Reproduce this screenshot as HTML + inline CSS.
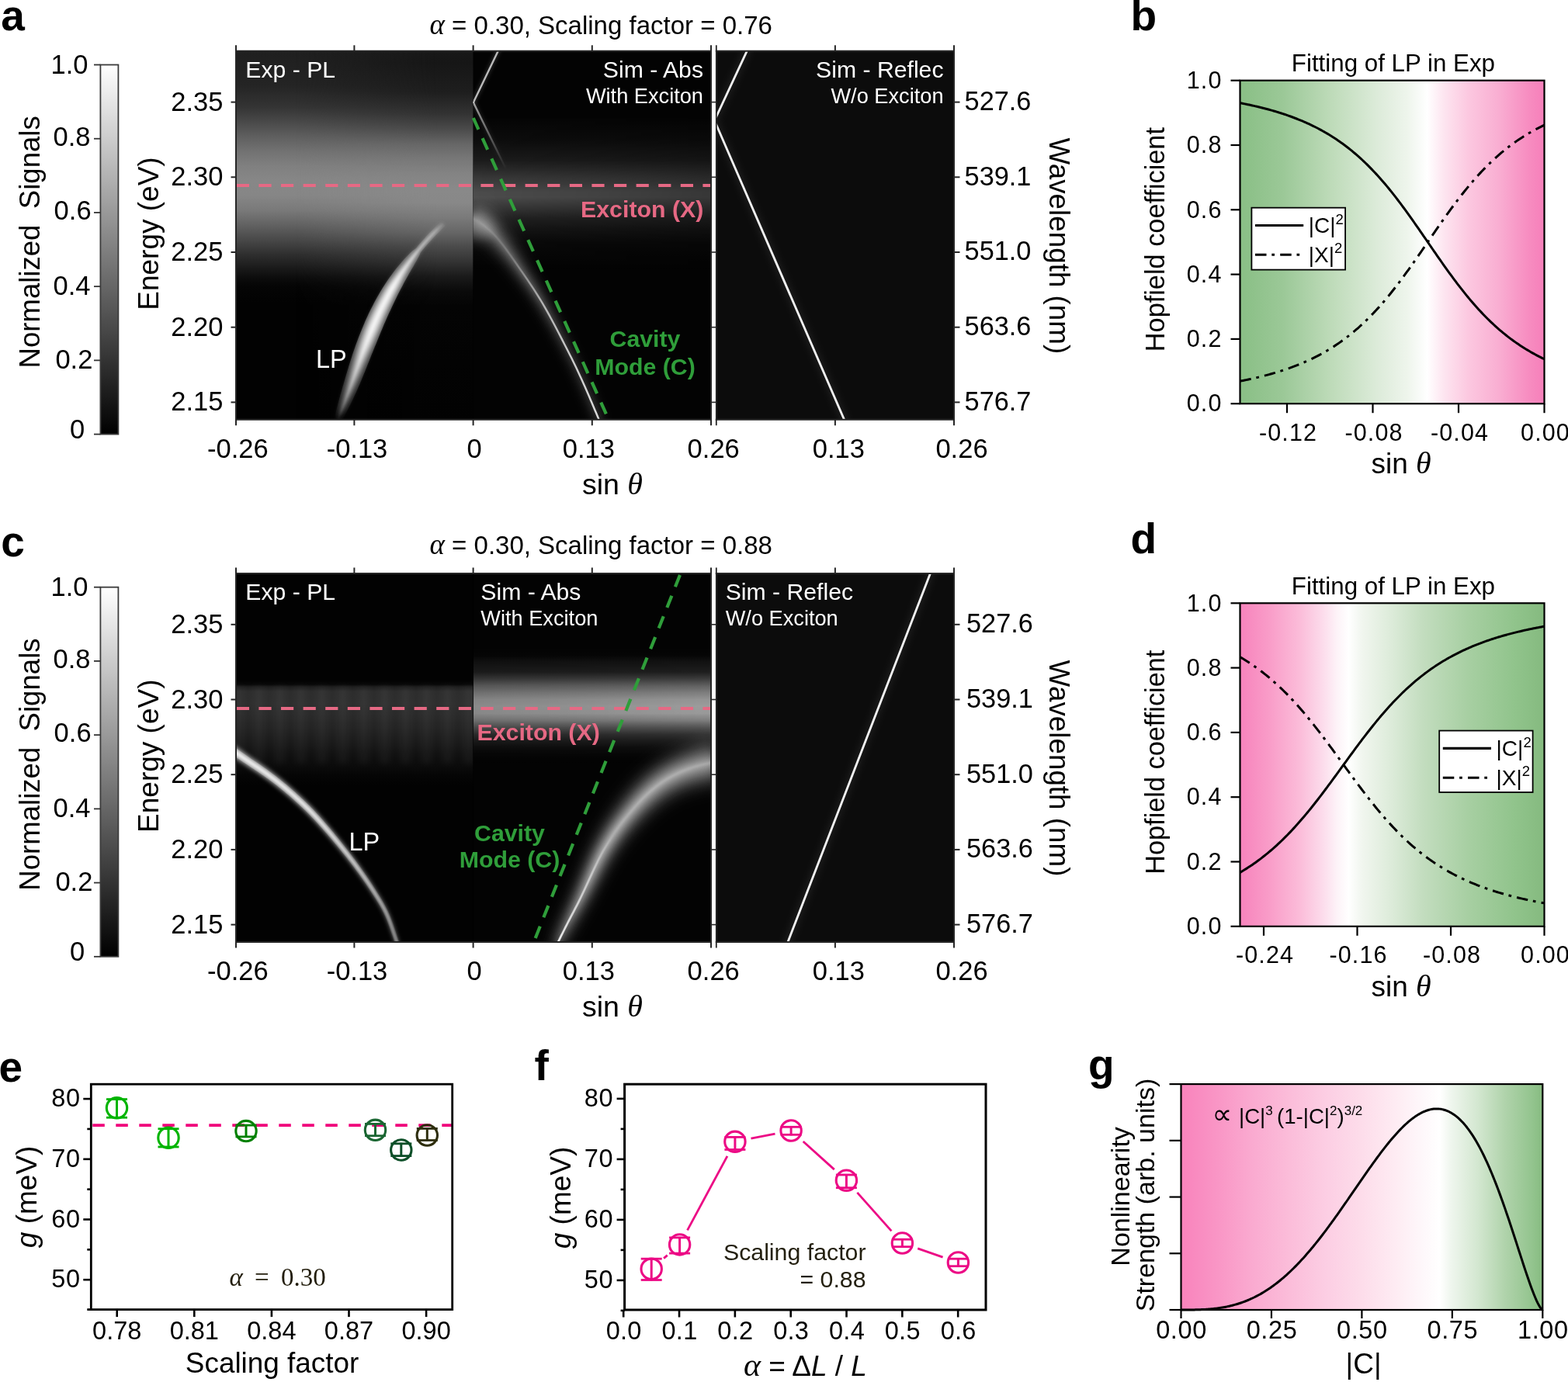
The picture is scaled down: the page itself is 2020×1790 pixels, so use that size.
<!DOCTYPE html>
<html><head><meta charset="utf-8"><title>Figure</title>
<style>html,body{margin:0;padding:0;background:#fff;}svg{display:block;}</style></head>
<body><svg width="2020" height="1790" viewBox="0 0 2020 1790">
<defs><filter id="b0_5" x="-50%" y="-50%" width="200%" height="200%"><feGaussianBlur stdDeviation="0.5"/></filter><filter id="b0_8" x="-50%" y="-50%" width="200%" height="200%"><feGaussianBlur stdDeviation="0.8"/></filter><filter id="b1_0" x="-50%" y="-50%" width="200%" height="200%"><feGaussianBlur stdDeviation="1.0"/></filter><filter id="b1_5" x="-50%" y="-50%" width="200%" height="200%"><feGaussianBlur stdDeviation="1.5"/></filter><filter id="b2" x="-50%" y="-50%" width="200%" height="200%"><feGaussianBlur stdDeviation="2"/></filter><filter id="b2_5" x="-50%" y="-50%" width="200%" height="200%"><feGaussianBlur stdDeviation="2.5"/></filter><filter id="b3" x="-50%" y="-50%" width="200%" height="200%"><feGaussianBlur stdDeviation="3"/></filter><filter id="b4" x="-50%" y="-50%" width="200%" height="200%"><feGaussianBlur stdDeviation="4"/></filter><filter id="b5" x="-50%" y="-50%" width="200%" height="200%"><feGaussianBlur stdDeviation="5"/></filter><filter id="b6" x="-50%" y="-50%" width="200%" height="200%"><feGaussianBlur stdDeviation="6"/></filter><filter id="b8" x="-50%" y="-50%" width="200%" height="200%"><feGaussianBlur stdDeviation="8"/></filter><filter id="b10" x="-50%" y="-50%" width="200%" height="200%"><feGaussianBlur stdDeviation="10"/></filter><filter id="b14" x="-50%" y="-50%" width="200%" height="200%"><feGaussianBlur stdDeviation="14"/></filter><linearGradient id="cbar" x1="0" y1="0" x2="0" y2="1"><stop offset="0" stop-color="#fff"/><stop offset="1" stop-color="#000"/></linearGradient><linearGradient id="plA" gradientUnits="userSpaceOnUse" x1="0" y1="65.8" x2="0" y2="540.8"><stop offset="0.0000" stop-color="#1f1f1f" stop-opacity="1"/><stop offset="0.0928" stop-color="#242424" stop-opacity="1"/><stop offset="0.1519" stop-color="#343434" stop-opacity="1"/><stop offset="0.1920" stop-color="#494949" stop-opacity="1"/><stop offset="0.2321" stop-color="#5f5f5f" stop-opacity="1"/><stop offset="0.2722" stop-color="#727272" stop-opacity="1"/><stop offset="0.3122" stop-color="#808080" stop-opacity="1"/><stop offset="0.3523" stop-color="#878787" stop-opacity="1"/><stop offset="0.3924" stop-color="#868686" stop-opacity="1"/><stop offset="0.4325" stop-color="#797979" stop-opacity="1"/><stop offset="0.4726" stop-color="#616161" stop-opacity="1"/><stop offset="0.5127" stop-color="#484848" stop-opacity="1"/><stop offset="0.5527" stop-color="#2e2e2e" stop-opacity="1"/><stop offset="0.5928" stop-color="#181818" stop-opacity="1"/><stop offset="0.6160" stop-color="#0c0c0c" stop-opacity="1"/><stop offset="0.6371" stop-color="#050505" stop-opacity="1"/><stop offset="0.6835" stop-color="#020202" stop-opacity="1"/><stop offset="1.0000" stop-color="#020202" stop-opacity="1"/></linearGradient><clipPath id="cpPLa"><rect x="304.0" y="65.8" width="305.6" height="474.99999999999994"/></clipPath><linearGradient id="plA2" gradientUnits="userSpaceOnUse" x1="0" y1="65.8" x2="0" y2="540.8"><stop offset="0.0000" stop-color="#181818" stop-opacity="1"/><stop offset="0.0316" stop-color="#161616" stop-opacity="1"/><stop offset="0.1118" stop-color="#1e1e1e" stop-opacity="1"/><stop offset="0.1709" stop-color="#333333" stop-opacity="1"/><stop offset="0.2110" stop-color="#4a4a4a" stop-opacity="1"/><stop offset="0.2511" stop-color="#666666" stop-opacity="1"/><stop offset="0.2911" stop-color="#777777" stop-opacity="1"/><stop offset="0.3312" stop-color="#838383" stop-opacity="1"/><stop offset="0.3713" stop-color="#898989" stop-opacity="1"/><stop offset="0.4114" stop-color="#888888" stop-opacity="1"/><stop offset="0.4515" stop-color="#7a7a7a" stop-opacity="1"/><stop offset="0.4916" stop-color="#666666" stop-opacity="1"/><stop offset="0.5316" stop-color="#4a4a4a" stop-opacity="1"/><stop offset="0.5717" stop-color="#333333" stop-opacity="1"/><stop offset="0.6118" stop-color="#1a1a1a" stop-opacity="1"/><stop offset="0.6519" stop-color="#0a0a0a" stop-opacity="1"/><stop offset="0.6920" stop-color="#040404" stop-opacity="1"/><stop offset="1.0000" stop-color="#020202" stop-opacity="1"/></linearGradient><linearGradient id="plAm" gradientUnits="userSpaceOnUse" x1="304.0" y1="0" x2="609.6" y2="0"><stop offset="0.0000" stop-color="#fff" stop-opacity="0"/><stop offset="0.2500" stop-color="#fff" stop-opacity="0"/><stop offset="0.8500" stop-color="#fff" stop-opacity="1"/><stop offset="1.0000" stop-color="#fff" stop-opacity="1"/></linearGradient><mask id="plAmask"><rect x="304.0" y="65.8" width="305.6" height="474.99999999999994" fill="url(#plAm)"/></mask><linearGradient id="lpA" gradientUnits="userSpaceOnUse" x1="0" y1="537" x2="0" y2="285"><stop offset="0.0000" stop-color="#fff" stop-opacity="0.05"/><stop offset="0.0476" stop-color="#fff" stop-opacity="0.2"/><stop offset="0.1468" stop-color="#fff" stop-opacity="0.4"/><stop offset="0.2659" stop-color="#fff" stop-opacity="0.62"/><stop offset="0.3651" stop-color="#fff" stop-opacity="0.85"/><stop offset="0.4444" stop-color="#fff" stop-opacity="1"/><stop offset="0.6627" stop-color="#fff" stop-opacity="1"/><stop offset="0.7222" stop-color="#fff" stop-opacity="0.8"/><stop offset="0.7817" stop-color="#fff" stop-opacity="0.62"/><stop offset="0.8611" stop-color="#fff" stop-opacity="0.5"/><stop offset="0.9405" stop-color="#fff" stop-opacity="0.35"/><stop offset="1.0000" stop-color="#fff" stop-opacity="0"/></linearGradient><filter id="b1_1" x="-50%" y="-50%" width="200%" height="200%"><feGaussianBlur stdDeviation="1.1"/></filter><filter id="b1_4" x="-50%" y="-50%" width="200%" height="200%"><feGaussianBlur stdDeviation="1.4"/></filter><filter id="b1_7" x="-50%" y="-50%" width="200%" height="200%"><feGaussianBlur stdDeviation="1.7"/></filter><filter id="b2_1" x="-50%" y="-50%" width="200%" height="200%"><feGaussianBlur stdDeviation="2.1"/></filter><filter id="b2_4" x="-50%" y="-50%" width="200%" height="200%"><feGaussianBlur stdDeviation="2.4"/></filter><filter id="b2_7" x="-50%" y="-50%" width="200%" height="200%"><feGaussianBlur stdDeviation="2.7"/></filter><clipPath id="cpABa"><rect x="609.6" y="65.8" width="306.4" height="474.99999999999994"/></clipPath><linearGradient id="exA" gradientUnits="userSpaceOnUse" x1="0" y1="150" x2="0" y2="350"><stop offset="0.0000" stop-color="#fff" stop-opacity="0"/><stop offset="0.0150" stop-color="#fff" stop-opacity="0.01"/><stop offset="0.1500" stop-color="#fff" stop-opacity="0.04"/><stop offset="0.2850" stop-color="#fff" stop-opacity="0.1"/><stop offset="0.3850" stop-color="#fff" stop-opacity="0.2"/><stop offset="0.4850" stop-color="#fff" stop-opacity="0.285"/><stop offset="0.5200" stop-color="#fff" stop-opacity="0.29"/><stop offset="0.5850" stop-color="#fff" stop-opacity="0.21"/><stop offset="0.6550" stop-color="#fff" stop-opacity="0.125"/><stop offset="0.7200" stop-color="#fff" stop-opacity="0.075"/><stop offset="0.8200" stop-color="#fff" stop-opacity="0.025"/><stop offset="0.9550" stop-color="#fff" stop-opacity="0.006"/><stop offset="1.0000" stop-color="#fff" stop-opacity="0"/></linearGradient><linearGradient id="exAm" gradientUnits="userSpaceOnUse" x1="609.6" y1="0" x2="916.0" y2="0"><stop offset="0.0000" stop-color="#fff" stop-opacity="1"/><stop offset="0.5000" stop-color="#fff" stop-opacity="0.88"/><stop offset="1.0000" stop-color="#fff" stop-opacity="0.72"/></linearGradient><mask id="exAmask"><rect x="609.6" y="65.8" width="306.4" height="474.99999999999994" fill="url(#exAm)"/></mask><linearGradient id="upA" gradientUnits="userSpaceOnUse" x1="610" y1="132" x2="652" y2="218"><stop offset="0.0000" stop-color="#fff" stop-opacity="0.7"/><stop offset="0.6000" stop-color="#fff" stop-opacity="0.3"/><stop offset="1.0000" stop-color="#fff" stop-opacity="0"/></linearGradient><linearGradient id="lpA2" gradientUnits="userSpaceOnUse" x1="606" y1="280" x2="773" y2="544"><stop offset="0.0000" stop-color="#fff" stop-opacity="0.45"/><stop offset="0.2500" stop-color="#fff" stop-opacity="0.5"/><stop offset="0.5000" stop-color="#fff" stop-opacity="0.65"/><stop offset="1.0000" stop-color="#fff" stop-opacity="0.8"/></linearGradient><filter id="b3_3" x="-50%" y="-50%" width="200%" height="200%"><feGaussianBlur stdDeviation="3.3"/></filter><filter id="b4_4" x="-50%" y="-50%" width="200%" height="200%"><feGaussianBlur stdDeviation="4.4"/></filter><filter id="b5_6" x="-50%" y="-50%" width="200%" height="200%"><feGaussianBlur stdDeviation="5.6"/></filter><filter id="b6_7" x="-50%" y="-50%" width="200%" height="200%"><feGaussianBlur stdDeviation="6.7"/></filter><filter id="b7_9" x="-50%" y="-50%" width="200%" height="200%"><feGaussianBlur stdDeviation="7.9"/></filter><filter id="b9_0" x="-50%" y="-50%" width="200%" height="200%"><feGaussianBlur stdDeviation="9.0"/></filter><linearGradient id="lpA2c" gradientUnits="userSpaceOnUse" x1="612" y1="285" x2="773" y2="544"><stop offset="0.0000" stop-color="#fff" stop-opacity="0"/><stop offset="0.2000" stop-color="#fff" stop-opacity="0.15"/><stop offset="0.4500" stop-color="#fff" stop-opacity="0.6"/><stop offset="0.7000" stop-color="#fff" stop-opacity="0.75"/><stop offset="1.0000" stop-color="#fff" stop-opacity="0.85"/></linearGradient><clipPath id="cpRFa"><rect x="922.8" y="65.8" width="306.20000000000005" height="474.99999999999994"/></clipPath><clipPath id="cpPLc"><rect x="304.0" y="739.0" width="305.6" height="475.0"/></clipPath><linearGradient id="plC" gradientUnits="userSpaceOnUse" x1="0" y1="860" x2="0" y2="1015"><stop offset="0.1032" stop-color="#020202" stop-opacity="1"/><stop offset="0.1419" stop-color="#080808" stop-opacity="1"/><stop offset="0.1613" stop-color="#1e1e1e" stop-opacity="1"/><stop offset="0.2000" stop-color="#2d2d2d" stop-opacity="1"/><stop offset="0.3032" stop-color="#2e2e2e" stop-opacity="1"/><stop offset="0.4000" stop-color="#2a2a2a" stop-opacity="1"/><stop offset="0.5290" stop-color="#222222" stop-opacity="1"/><stop offset="0.6323" stop-color="#1a1a1a" stop-opacity="1"/><stop offset="0.7290" stop-color="#111111" stop-opacity="1"/><stop offset="0.8323" stop-color="#0a0a0a" stop-opacity="1"/><stop offset="0.9032" stop-color="#050505" stop-opacity="1"/><stop offset="0.9806" stop-color="#020202" stop-opacity="1"/></linearGradient><pattern id="strC" x="300" y="0" width="27" height="10" patternUnits="userSpaceOnUse"><rect x="0" y="0" width="13" height="10" fill="#fff" fill-opacity="0.03"/></pattern><linearGradient id="lpC" gradientUnits="userSpaceOnUse" x1="304" y1="972" x2="510" y2="1214"><stop offset="0.0000" stop-color="#fff" stop-opacity="1"/><stop offset="0.3500" stop-color="#fff" stop-opacity="0.92"/><stop offset="0.7000" stop-color="#fff" stop-opacity="0.62"/><stop offset="1.0000" stop-color="#fff" stop-opacity="0.4"/></linearGradient><filter id="b1_3" x="-50%" y="-50%" width="200%" height="200%"><feGaussianBlur stdDeviation="1.3"/></filter><filter id="b1_8" x="-50%" y="-50%" width="200%" height="200%"><feGaussianBlur stdDeviation="1.8"/></filter><filter id="b2_3" x="-50%" y="-50%" width="200%" height="200%"><feGaussianBlur stdDeviation="2.3"/></filter><clipPath id="cpABc"><rect x="609.6" y="739.0" width="306.4" height="475.0"/></clipPath><linearGradient id="exC" gradientUnits="userSpaceOnUse" x1="0" y1="830" x2="0" y2="985"><stop offset="0.0000" stop-color="#fff" stop-opacity="0"/><stop offset="0.0968" stop-color="#fff" stop-opacity="0.015"/><stop offset="0.1419" stop-color="#fff" stop-opacity="0.06"/><stop offset="0.2323" stop-color="#fff" stop-opacity="0.11"/><stop offset="0.2903" stop-color="#fff" stop-opacity="0.23"/><stop offset="0.3484" stop-color="#fff" stop-opacity="0.38"/><stop offset="0.4039" stop-color="#fff" stop-opacity="0.49"/><stop offset="0.4613" stop-color="#fff" stop-opacity="0.58"/><stop offset="0.5187" stop-color="#fff" stop-opacity="0.61"/><stop offset="0.5768" stop-color="#fff" stop-opacity="0.6"/><stop offset="0.6342" stop-color="#fff" stop-opacity="0.49"/><stop offset="0.6916" stop-color="#fff" stop-opacity="0.32"/><stop offset="0.7497" stop-color="#fff" stop-opacity="0.18"/><stop offset="0.8071" stop-color="#fff" stop-opacity="0.1"/><stop offset="0.8645" stop-color="#fff" stop-opacity="0.045"/><stop offset="0.9226" stop-color="#fff" stop-opacity="0.015"/><stop offset="1.0000" stop-color="#fff" stop-opacity="0"/></linearGradient><linearGradient id="exCm" gradientUnits="userSpaceOnUse" x1="609.6" y1="0" x2="916.0" y2="0"><stop offset="0.0000" stop-color="#fff" stop-opacity="0.88"/><stop offset="0.5000" stop-color="#fff" stop-opacity="0.93"/><stop offset="1.0000" stop-color="#fff" stop-opacity="1"/></linearGradient><mask id="exCmask"><rect x="609.6" y="739.0" width="306.4" height="475.0" fill="url(#exCm)"/></mask><linearGradient id="lpC2" gradientUnits="userSpaceOnUse" x1="719" y1="1216" x2="916" y2="972"><stop offset="0.0000" stop-color="#fff" stop-opacity="0.95"/><stop offset="0.3000" stop-color="#fff" stop-opacity="0.75"/><stop offset="0.6000" stop-color="#fff" stop-opacity="0.55"/><stop offset="1.0000" stop-color="#fff" stop-opacity="0.42"/></linearGradient><filter id="b3_7" x="-50%" y="-50%" width="200%" height="200%"><feGaussianBlur stdDeviation="3.7"/></filter><filter id="b5_2" x="-50%" y="-50%" width="200%" height="200%"><feGaussianBlur stdDeviation="5.2"/></filter><filter id="b6_6" x="-50%" y="-50%" width="200%" height="200%"><feGaussianBlur stdDeviation="6.6"/></filter><filter id="b8_1" x="-50%" y="-50%" width="200%" height="200%"><feGaussianBlur stdDeviation="8.1"/></filter><filter id="b9_5" x="-50%" y="-50%" width="200%" height="200%"><feGaussianBlur stdDeviation="9.5"/></filter><filter id="b11_0" x="-50%" y="-50%" width="200%" height="200%"><feGaussianBlur stdDeviation="11.0"/></filter><linearGradient id="lpC2c" gradientUnits="userSpaceOnUse" x1="719" y1="1216" x2="790" y2="1075"><stop offset="0.0000" stop-color="#fff" stop-opacity="0.9"/><stop offset="0.6000" stop-color="#fff" stop-opacity="0.45"/><stop offset="1.0000" stop-color="#fff" stop-opacity="0"/></linearGradient><clipPath id="cpRFc"><rect x="922.8" y="739.0" width="306.20000000000005" height="475.0"/></clipPath><linearGradient id="hgb" gradientUnits="userSpaceOnUse" x1="1597.5" y1="0" x2="1989.5" y2="0"><stop offset="0.0000" stop-color="#89bf85" stop-opacity="1"/><stop offset="0.1400" stop-color="#9bc897" stop-opacity="1"/><stop offset="0.3000" stop-color="#bedbb9" stop-opacity="1"/><stop offset="0.4500" stop-color="#dcebd9" stop-opacity="1"/><stop offset="0.5500" stop-color="#eef5ec" stop-opacity="1"/><stop offset="0.6150" stop-color="#ffffff" stop-opacity="1"/><stop offset="0.6700" stop-color="#fde5f0" stop-opacity="1"/><stop offset="0.7500" stop-color="#fcc8e0" stop-opacity="1"/><stop offset="0.8500" stop-color="#f9aed2" stop-opacity="1"/><stop offset="0.9500" stop-color="#f78cc0" stop-opacity="1"/><stop offset="1.0000" stop-color="#f67fba" stop-opacity="1"/></linearGradient><linearGradient id="hgd" gradientUnits="userSpaceOnUse" x1="1597.5" y1="0" x2="1989.5" y2="0"><stop offset="0.0000" stop-color="#f783bc" stop-opacity="1"/><stop offset="0.0950" stop-color="#f99cc8" stop-opacity="1"/><stop offset="0.1960" stop-color="#fbbcd9" stop-opacity="1"/><stop offset="0.2700" stop-color="#fcdbeb" stop-opacity="1"/><stop offset="0.3200" stop-color="#fdf3f8" stop-opacity="1"/><stop offset="0.3570" stop-color="#ffffff" stop-opacity="1"/><stop offset="0.4000" stop-color="#f1f6ef" stop-opacity="1"/><stop offset="0.4990" stop-color="#dcebd9" stop-opacity="1"/><stop offset="0.6000" stop-color="#c3ddbf" stop-opacity="1"/><stop offset="0.7500" stop-color="#a7cfa2" stop-opacity="1"/><stop offset="0.9000" stop-color="#91c48c" stop-opacity="1"/><stop offset="1.0000" stop-color="#85ba7f" stop-opacity="1"/></linearGradient><linearGradient id="gg" gradientUnits="userSpaceOnUse" x1="1521.5" y1="0" x2="1987.3" y2="0"><stop offset="0.0000" stop-color="#f983bc" stop-opacity="1"/><stop offset="0.0970" stop-color="#f995c5" stop-opacity="1"/><stop offset="0.1960" stop-color="#faaad0" stop-opacity="1"/><stop offset="0.2960" stop-color="#fbbcd9" stop-opacity="1"/><stop offset="0.3960" stop-color="#fccde3" stop-opacity="1"/><stop offset="0.4960" stop-color="#fddcea" stop-opacity="1"/><stop offset="0.5960" stop-color="#feecf3" stop-opacity="1"/><stop offset="0.6710" stop-color="#fef8fb" stop-opacity="1"/><stop offset="0.7160" stop-color="#ffffff" stop-opacity="1"/><stop offset="0.7460" stop-color="#eff6ee" stop-opacity="1"/><stop offset="0.8210" stop-color="#d3e7d0" stop-opacity="1"/><stop offset="0.8960" stop-color="#b0d3ab" stop-opacity="1"/><stop offset="0.9710" stop-color="#93c48e" stop-opacity="1"/><stop offset="1.0000" stop-color="#87bc81" stop-opacity="1"/></linearGradient></defs>
<rect x="0" y="0" width="2020" height="1790" fill="#fff"/>
<text x="1.2" y="39.3" font-size="55" font-weight="bold" font-family="'Liberation Sans', Arial, sans-serif">a</text>
<text x="553.5" y="44.2" font-size="33" font-family="'Liberation Sans', Arial, sans-serif"><tspan font-family="'Liberation Serif', 'DejaVu Serif', serif" font-style="italic" font-size="37">α</tspan> = 0.30, Scaling factor = 0.76</text>
<rect x="129.40" y="83.50" width="23.00" height="476.10" fill="url(#cbar)" stroke="#3c3c3c" stroke-width="1.8"/>
<line x1="121.00" y1="83.50" x2="129.40" y2="83.50" stroke="#333" stroke-width="1.8"/>
<text x="89.5" y="95.2" font-size="34.5" text-anchor="middle" font-family="'Liberation Sans', Arial, sans-serif">1.0</text>
<line x1="121.00" y1="178.72" x2="129.40" y2="178.72" stroke="#333" stroke-width="1.8"/>
<text x="92.5" y="187.7" font-size="34.5" text-anchor="middle" font-family="'Liberation Sans', Arial, sans-serif">0.8</text>
<line x1="121.00" y1="273.94" x2="129.40" y2="273.94" stroke="#333" stroke-width="1.8"/>
<text x="93.6" y="282.9" font-size="34.5" text-anchor="middle" font-family="'Liberation Sans', Arial, sans-serif">0.6</text>
<line x1="121.00" y1="369.16" x2="129.40" y2="369.16" stroke="#333" stroke-width="1.8"/>
<text x="92.5" y="379.6" font-size="34.5" text-anchor="middle" font-family="'Liberation Sans', Arial, sans-serif">0.4</text>
<line x1="121.00" y1="464.38" x2="129.40" y2="464.38" stroke="#333" stroke-width="1.8"/>
<text x="95.4" y="474.6" font-size="34.5" text-anchor="middle" font-family="'Liberation Sans', Arial, sans-serif">0.2</text>
<line x1="121.00" y1="559.60" x2="129.40" y2="559.60" stroke="#333" stroke-width="1.8"/>
<text x="99.5" y="564.7" font-size="34.5" text-anchor="middle" font-family="'Liberation Sans', Arial, sans-serif">0</text>
<text x="50.8" y="311.9" font-size="36.6" text-anchor="middle" font-family="'Liberation Sans', Arial, sans-serif" transform="rotate(-90 50.8 311.9)">Normalized&#160;&#160;Signals</text>
<text x="203.6" y="301.0" font-size="37" text-anchor="middle" font-family="'Liberation Sans', Arial, sans-serif" transform="rotate(-90 203.6 301.0)">Energy (eV)</text>
<rect x="304.0" y="65.8" width="612.0" height="474.99999999999994" fill="#020202"/>
<g clip-path="url(#cpPLa)">
<rect x="304.00" y="65.80" width="305.60" height="475.00" fill="url(#plA)" stroke="none" stroke-width="0"/>
<rect x="304.00" y="65.80" width="305.60" height="475.00" fill="url(#plA2)" stroke="none" stroke-width="0" mask="url(#plAmask)"/>
<path d="M435.80,540.08 L436.22,539.14 L436.59,538.26 L436.94,537.42 L437.30,536.59 L437.65,535.74 L438.03,534.84 L438.43,533.85 L438.88,532.76 L439.37,531.53 L439.93,530.13 L440.55,528.54 L441.25,526.77 L441.99,524.87 L442.77,522.86 L443.58,520.77 L444.41,518.63 L445.24,516.47 L446.06,514.32 L446.87,512.21 L447.64,510.16 L448.39,508.17 L449.14,506.17 L449.89,504.17 L450.63,502.17 L451.37,500.18 L452.10,498.18 L452.83,496.18 L453.56,494.18 L454.29,492.18 L455.02,490.19 L455.74,488.19 L456.46,486.19 L457.18,484.19 L457.89,482.19 L458.60,480.19 L459.31,478.20 L460.02,476.20 L460.73,474.20 L461.45,472.20 L462.17,470.20 L462.89,468.21 L463.62,466.21 L464.34,464.21 L465.06,462.21 L465.79,460.21 L466.52,458.22 L467.25,456.22 L467.99,454.22 L468.74,452.22 L469.50,450.23 L470.26,448.23 L471.03,446.23 L471.81,444.23 L472.59,442.24 L473.38,440.24 L474.17,438.24 L474.97,436.24 L475.78,434.24 L476.59,432.25 L477.40,430.25 L478.22,428.25 L479.05,426.25 L479.87,424.25 L480.70,422.25 L481.54,420.25 L482.38,418.26 L483.24,416.26 L484.11,414.26 L484.99,412.26 L485.89,410.27 L486.80,408.27 L487.72,406.27 L488.66,404.27 L489.61,402.27 L490.57,400.28 L491.54,398.28 L492.53,396.28 L493.52,394.28 L494.53,392.28 L495.55,390.28 L496.58,388.28 L497.61,386.28 L498.66,384.28 L499.72,382.28 L500.79,380.28 L501.87,378.28 L502.97,376.28 L504.09,374.28 L505.23,372.28 L506.38,370.28 L507.56,368.28 L508.75,366.28 L509.96,364.28 L511.18,362.28 L512.42,360.28 L513.68,358.28 L514.95,356.27 L516.25,354.27 L517.56,352.27 L518.89,350.27 L520.27,348.24 L521.68,346.18 L523.14,344.10 L524.62,342.01 L526.10,339.93 L527.59,337.88 L529.06,335.86 L530.50,333.90 L531.91,332.01 L533.26,330.20 L534.56,328.49 L535.81,326.86 L537.02,325.30 L538.20,323.79 L539.37,322.33 L540.56,320.90 L541.75,319.48 L542.96,318.06 L544.19,316.62 L545.46,315.14 L546.78,313.63 L548.13,312.10 L549.50,310.55 L550.89,309.00 L552.29,307.46 L553.68,305.93 L555.06,304.43 L556.43,302.96 L557.76,301.53 L559.06,300.15 L560.32,298.83 L561.54,297.56 L562.75,296.33 L563.94,295.14 L565.11,293.97 L566.27,292.81 L567.44,291.66 L568.60,290.51 L569.77,289.34 L570.95,288.15 L570.65,287.85 L569.46,289.03 L568.29,290.20 L567.13,291.35 L565.97,292.50 L564.80,293.66 L563.63,294.83 L562.44,296.03 L561.23,297.26 L560.00,298.53 L558.74,299.85 L557.44,301.23 L556.11,302.66 L554.74,304.13 L553.36,305.64 L551.96,307.17 L550.57,308.71 L549.18,310.26 L547.80,311.81 L546.45,313.34 L545.14,314.86 L543.86,316.34 L542.63,317.78 L541.42,319.20 L540.22,320.62 L539.04,322.05 L537.84,323.49 L536.60,324.96 L535.35,326.50 L534.07,328.10 L532.74,329.80 L531.35,331.59 L529.92,333.46 L528.44,335.40 L526.95,337.40 L525.43,339.44 L523.92,341.51 L522.42,343.59 L520.94,345.66 L519.50,347.71 L518.11,349.73 L516.75,351.73 L515.42,353.73 L514.10,355.73 L512.81,357.72 L511.53,359.72 L510.27,361.72 L509.04,363.72 L507.81,365.72 L506.61,367.72 L505.42,369.72 L504.24,371.72 L503.09,373.72 L501.96,375.72 L500.85,377.72 L499.75,379.72 L498.67,381.72 L497.60,383.72 L496.54,385.72 L495.49,387.72 L494.45,389.72 L493.42,391.72 L492.41,393.72 L491.40,395.72 L490.41,397.72 L489.43,399.72 L488.46,401.73 L487.51,403.73 L486.56,405.73 L485.63,407.73 L484.71,409.73 L483.81,411.74 L482.92,413.74 L482.05,415.74 L481.19,417.74 L480.34,419.75 L479.50,421.75 L478.67,423.75 L477.84,425.75 L477.02,427.75 L476.20,429.75 L475.38,431.75 L474.57,433.76 L473.76,435.76 L472.96,437.76 L472.17,439.76 L471.39,441.76 L470.61,443.77 L469.83,445.77 L469.06,447.77 L468.30,449.77 L467.55,451.78 L466.80,453.78 L466.07,455.78 L465.34,457.78 L464.61,459.79 L463.89,461.79 L463.17,463.79 L462.46,465.79 L461.74,467.79 L461.03,469.80 L460.32,471.80 L459.61,473.80 L458.90,475.80 L458.20,477.80 L457.50,479.81 L456.80,481.81 L456.10,483.81 L455.40,485.81 L454.69,487.81 L453.98,489.81 L453.27,491.82 L452.55,493.82 L451.84,495.82 L451.12,497.82 L450.40,499.82 L449.68,501.83 L448.95,503.83 L448.22,505.83 L447.49,507.83 L446.76,509.84 L446.00,511.88 L445.22,514.00 L444.42,516.16 L443.61,518.33 L442.81,520.48 L442.02,522.58 L441.26,524.60 L440.54,526.51 L439.88,528.27 L439.27,529.87 L438.74,531.28 L438.26,532.52 L437.84,533.62 L437.45,534.60 L437.10,535.51 L436.76,536.37 L436.43,537.21 L436.10,538.06 L435.75,538.95 L435.40,539.92 Z" fill="url(#lpA)" fill-opacity="0.33" filter="url(#b0_8)"/>
<path d="M436.13,540.21 L436.60,539.29 L436.99,538.42 L437.37,537.59 L437.73,536.77 L438.11,535.92 L438.50,535.02 L438.92,534.05 L439.38,532.96 L439.89,531.73 L440.46,530.33 L441.11,528.75 L441.82,527.00 L442.58,525.10 L443.39,523.10 L444.22,521.01 L445.06,518.88 L445.91,516.73 L446.76,514.58 L447.58,512.47 L448.37,510.43 L449.13,508.44 L449.90,506.45 L450.65,504.45 L451.41,502.46 L452.16,500.47 L452.91,498.47 L453.65,496.48 L454.39,494.48 L455.13,492.49 L455.87,490.49 L456.60,488.50 L457.33,486.50 L458.06,484.50 L458.78,482.51 L459.50,480.51 L460.22,478.52 L460.93,476.52 L461.65,474.53 L462.38,472.53 L463.11,470.54 L463.83,468.54 L464.56,466.55 L465.29,464.55 L466.02,462.56 L466.75,460.56 L467.49,458.57 L468.22,456.58 L468.97,454.58 L469.72,452.59 L470.48,450.60 L471.24,448.61 L472.02,446.61 L472.79,444.62 L473.58,442.62 L474.37,440.63 L475.16,438.63 L475.96,436.64 L476.77,434.64 L477.58,432.65 L478.39,430.65 L479.21,428.65 L480.04,426.66 L480.86,424.66 L481.69,422.66 L482.52,420.67 L483.36,418.67 L484.22,416.68 L485.08,414.69 L485.96,412.70 L486.85,410.70 L487.76,408.71 L488.68,406.72 L489.61,404.72 L490.55,402.73 L491.50,400.73 L492.47,398.73 L493.45,396.74 L494.43,394.74 L495.43,392.74 L496.44,390.74 L497.47,388.74 L498.49,386.74 L499.53,384.74 L500.58,382.74 L501.64,380.74 L502.72,378.75 L503.80,376.75 L504.91,374.75 L506.03,372.75 L507.18,370.75 L508.34,368.75 L509.52,366.75 L510.71,364.74 L511.92,362.74 L513.14,360.73 L514.39,358.73 L515.65,356.72 L516.92,354.72 L518.22,352.71 L519.54,350.70 L520.89,348.67 L522.29,346.61 L523.73,344.52 L525.18,342.42 L526.65,340.33 L528.11,338.26 L529.56,336.24 L530.99,334.26 L532.37,332.36 L533.70,330.53 L534.97,328.81 L536.19,327.16 L537.36,325.58 L538.49,324.03 L539.65,322.55 L540.83,321.13 L542.02,319.71 L543.23,318.29 L544.46,316.85 L545.73,315.38 L547.05,313.86 L548.39,312.33 L549.77,310.79 L551.15,309.24 L552.55,307.70 L553.94,306.17 L555.33,304.67 L556.69,303.20 L558.02,301.77 L559.32,300.39 L560.57,299.08 L561.80,297.81 L563.00,296.58 L564.19,295.39 L565.36,294.22 L566.53,293.06 L567.69,291.91 L568.85,290.76 L570.02,289.59 L571.21,288.41 L570.39,287.59 L569.21,288.78 L568.04,289.94 L566.88,291.10 L565.72,292.25 L564.55,293.41 L563.38,294.58 L562.19,295.78 L560.98,297.01 L559.74,298.28 L558.48,299.61 L557.18,300.99 L555.85,302.42 L554.48,303.89 L553.10,305.40 L551.70,306.93 L550.30,308.47 L548.91,310.02 L547.53,311.57 L546.18,313.11 L544.87,314.62 L543.59,316.10 L542.36,317.55 L541.15,318.97 L539.95,320.39 L538.76,321.82 L537.54,323.25 L536.26,324.69 L534.97,326.20 L533.66,327.79 L532.30,329.47 L530.89,331.24 L529.44,333.10 L527.94,335.03 L526.42,337.02 L524.89,339.05 L523.35,341.10 L521.83,343.17 L520.33,345.23 L518.87,347.28 L517.46,349.30 L516.09,351.29 L514.74,353.28 L513.41,355.28 L512.10,357.27 L510.81,359.27 L509.53,361.26 L508.28,363.26 L507.05,365.25 L505.83,367.25 L504.62,369.25 L503.44,371.25 L502.27,373.25 L501.13,375.25 L500.00,377.25 L498.90,379.26 L497.80,381.26 L496.72,383.26 L495.66,385.26 L494.60,387.26 L493.56,389.26 L492.52,391.26 L491.49,393.26 L490.48,395.26 L489.48,397.27 L488.50,399.27 L487.52,401.27 L486.56,403.28 L485.61,405.28 L484.67,407.29 L483.75,409.30 L482.84,411.30 L481.95,413.31 L481.07,415.32 L480.21,417.33 L479.35,419.33 L478.51,421.34 L477.68,423.34 L476.85,425.34 L476.03,427.35 L475.21,429.35 L474.39,431.35 L473.58,433.36 L472.77,435.36 L471.97,437.37 L471.18,439.37 L470.40,441.38 L469.62,443.38 L468.85,445.39 L468.08,447.39 L467.32,449.40 L466.57,451.41 L465.83,453.42 L465.10,455.42 L464.37,457.43 L463.65,459.44 L462.93,461.44 L462.22,463.45 L461.51,465.45 L460.80,467.46 L460.09,469.46 L459.39,471.47 L458.69,473.47 L457.99,475.48 L457.29,477.48 L456.60,479.49 L455.91,481.49 L455.22,483.50 L454.53,485.50 L453.83,487.50 L453.13,489.51 L452.43,491.51 L451.72,493.52 L451.02,495.52 L450.31,497.53 L449.60,499.53 L448.89,501.54 L448.18,503.55 L447.47,505.55 L446.75,507.56 L446.03,509.57 L445.30,511.62 L444.53,513.74 L443.74,515.90 L442.95,518.08 L442.17,520.24 L441.40,522.34 L440.67,524.37 L439.97,526.28 L439.32,528.06 L438.74,529.67 L438.22,531.08 L437.76,532.32 L437.35,533.42 L436.98,534.42 L436.64,535.33 L436.32,536.19 L436.01,537.04 L435.69,537.90 L435.37,538.80 L435.07,539.79 Z" fill="url(#lpA)" fill-opacity="0.33" filter="url(#b1_1)"/>
<path d="M436.54,540.38 L437.06,539.48 L437.49,538.63 L437.89,537.80 L438.27,536.99 L438.67,536.15 L439.08,535.26 L439.51,534.28 L440.00,533.20 L440.53,531.98 L441.13,530.59 L441.80,529.01 L442.53,527.27 L443.32,525.38 L444.15,523.39 L445.00,521.31 L445.87,519.19 L446.74,517.04 L447.61,514.90 L448.45,512.80 L449.26,510.77 L450.04,508.78 L450.82,506.79 L451.60,504.80 L452.37,502.81 L453.13,500.82 L453.90,498.83 L454.66,496.84 L455.41,494.85 L456.16,492.86 L456.92,490.87 L457.66,488.87 L458.40,486.88 L459.14,484.89 L459.87,482.89 L460.60,480.90 L461.33,478.91 L462.06,476.92 L462.79,474.93 L463.52,472.94 L464.26,470.95 L464.99,468.96 L465.73,466.97 L466.46,464.97 L467.20,462.98 L467.94,460.99 L468.68,459.00 L469.42,457.02 L470.17,455.03 L470.92,453.04 L471.68,451.06 L472.45,449.07 L473.23,447.08 L474.01,445.09 L474.79,443.10 L475.58,441.11 L476.38,439.12 L477.18,437.13 L477.99,435.14 L478.80,433.14 L479.61,431.15 L480.43,429.15 L481.25,427.16 L482.08,425.16 L482.90,423.17 L483.73,421.18 L484.57,419.19 L485.42,417.20 L486.28,415.21 L487.15,413.23 L488.03,411.24 L488.94,409.25 L489.85,407.26 L490.77,405.27 L491.71,403.28 L492.65,401.29 L493.61,399.29 L494.58,397.30 L495.56,395.30 L496.55,393.31 L497.55,391.31 L498.56,389.31 L499.58,387.31 L500.61,385.31 L501.64,383.31 L502.69,381.31 L503.75,379.31 L504.83,377.32 L505.92,375.32 L507.03,373.32 L508.15,371.32 L509.30,369.32 L510.46,367.31 L511.64,365.31 L512.83,363.30 L514.04,361.30 L515.26,359.29 L516.50,357.28 L517.76,355.27 L519.04,353.26 L520.33,351.24 L521.66,349.21 L523.04,347.13 L524.45,345.03 L525.88,342.92 L527.32,340.82 L528.76,338.74 L530.18,336.70 L531.58,334.71 L532.93,332.78 L534.23,330.94 L535.47,329.19 L536.65,327.53 L537.79,325.92 L538.85,324.32 L539.99,322.83 L541.17,321.41 L542.36,320.00 L543.56,318.58 L544.80,317.14 L546.07,315.66 L547.38,314.15 L548.72,312.62 L550.09,311.08 L551.48,309.53 L552.87,307.99 L554.27,306.47 L555.65,304.97 L557.01,303.50 L558.34,302.07 L559.64,300.70 L560.89,299.38 L562.11,298.12 L563.32,296.89 L564.50,295.70 L565.67,294.53 L566.83,293.38 L568.00,292.23 L569.16,291.07 L570.33,289.90 L571.52,288.72 L570.08,287.28 L568.90,288.47 L567.73,289.63 L566.57,290.79 L565.41,291.94 L564.24,293.09 L563.07,294.27 L561.87,295.47 L560.66,296.70 L559.43,297.98 L558.16,299.30 L556.86,300.69 L555.53,302.12 L554.16,303.59 L552.77,305.10 L551.38,306.63 L549.98,308.18 L548.58,309.73 L547.20,311.28 L545.85,312.82 L544.53,314.34 L543.26,315.82 L542.02,317.26 L540.81,318.69 L539.61,320.11 L538.42,321.54 L537.18,322.96 L535.83,324.35 L534.51,325.83 L533.16,327.40 L531.77,329.06 L530.33,330.81 L528.84,332.65 L527.32,334.57 L525.77,336.54 L524.21,338.56 L522.65,340.60 L521.11,342.66 L519.59,344.71 L518.10,346.75 L516.67,348.76 L515.27,350.74 L513.90,352.73 L512.55,354.72 L511.22,356.71 L509.91,358.70 L508.62,360.70 L507.35,362.69 L506.10,364.69 L504.87,366.68 L503.65,368.68 L502.45,370.68 L501.27,372.68 L500.11,374.68 L498.97,376.69 L497.85,378.69 L496.74,380.69 L495.65,382.69 L494.57,384.69 L493.51,386.69 L492.45,388.69 L491.41,390.69 L490.37,392.70 L489.35,394.70 L488.34,396.71 L487.35,398.71 L486.37,400.72 L485.40,402.73 L484.44,404.74 L483.50,406.75 L482.57,408.76 L481.65,410.77 L480.75,412.79 L479.87,414.80 L479.00,416.81 L478.14,418.82 L477.30,420.83 L476.46,422.84 L475.63,424.84 L474.81,426.85 L473.99,428.85 L473.17,430.86 L472.36,432.86 L471.55,434.87 L470.76,436.88 L469.97,438.89 L469.18,440.90 L468.41,442.91 L467.64,444.92 L466.87,446.93 L466.12,448.94 L465.37,450.96 L464.63,452.97 L463.90,454.98 L463.18,457.00 L462.46,459.01 L461.75,461.02 L461.05,463.03 L460.35,465.03 L459.65,467.04 L458.94,469.05 L458.25,471.06 L457.55,473.07 L456.86,475.08 L456.18,477.09 L455.50,479.10 L454.82,481.11 L454.14,483.11 L453.46,485.12 L452.77,487.13 L452.08,489.13 L451.39,491.14 L450.70,493.15 L450.01,495.16 L449.32,497.17 L448.63,499.18 L447.93,501.19 L447.24,503.20 L446.54,505.21 L445.84,507.22 L445.14,509.23 L444.42,511.29 L443.68,513.42 L442.91,515.59 L442.15,517.77 L441.39,519.94 L440.64,522.05 L439.93,524.09 L439.26,526.01 L438.64,527.80 L438.07,529.41 L437.58,530.83 L437.14,532.08 L436.76,533.19 L436.41,534.18 L436.08,535.10 L435.78,535.97 L435.49,536.83 L435.19,537.69 L434.90,538.61 L434.66,539.62 Z" fill="url(#lpA)" fill-opacity="0.33" filter="url(#b1_4)"/>
<path d="M437.01,540.57 L437.60,539.70 L438.06,538.86 L438.48,538.05 L438.89,537.24 L439.31,536.41 L439.74,535.52 L440.20,534.56 L440.70,533.48 L441.26,532.27 L441.88,530.88 L442.58,529.32 L443.34,527.58 L444.16,525.70 L445.01,523.72 L445.90,521.65 L446.79,519.54 L447.69,517.40 L448.58,515.27 L449.45,513.17 L450.28,511.15 L451.08,509.16 L451.88,507.18 L452.68,505.20 L453.47,503.21 L454.25,501.23 L455.03,499.24 L455.81,497.26 L456.58,495.27 L457.35,493.29 L458.11,491.30 L458.88,489.31 L459.63,487.32 L460.38,485.32 L461.13,483.33 L461.87,481.35 L462.61,479.36 L463.35,477.37 L464.09,475.39 L464.83,473.41 L465.57,471.43 L466.32,469.44 L467.06,467.45 L467.81,465.46 L468.55,463.47 L469.29,461.48 L470.04,459.50 L470.79,457.52 L471.54,455.54 L472.30,453.56 L473.06,451.58 L473.84,449.60 L474.62,447.61 L475.40,445.63 L476.18,443.65 L476.98,441.66 L477.77,439.67 L478.57,437.69 L479.38,435.70 L480.19,433.71 L481.01,431.72 L481.83,429.73 L482.65,427.73 L483.47,425.74 L484.29,423.75 L485.12,421.76 L485.95,419.78 L486.80,417.79 L487.65,415.81 L488.51,413.84 L489.39,411.86 L490.28,409.88 L491.19,407.89 L492.10,405.90 L493.03,403.91 L493.97,401.92 L494.91,399.93 L495.87,397.94 L496.84,395.95 L497.82,393.96 L498.81,391.96 L499.81,389.96 L500.82,387.96 L501.83,385.96 L502.86,383.96 L503.89,381.96 L504.94,379.97 L506.00,377.97 L507.07,375.97 L508.16,373.98 L509.27,371.98 L510.40,369.97 L511.54,367.97 L512.70,365.96 L513.87,363.95 L515.06,361.94 L516.26,359.93 L517.48,357.91 L518.72,355.90 L519.97,353.88 L521.24,351.86 L522.55,349.81 L523.90,347.73 L525.28,345.62 L526.68,343.50 L528.10,341.38 L529.50,339.28 L530.89,337.22 L532.26,335.22 L533.57,333.27 L534.84,331.41 L536.04,329.64 L537.18,327.95 L538.27,326.30 L539.27,324.66 L540.38,323.15 L541.56,321.73 L542.74,320.32 L543.95,318.90 L545.18,317.47 L546.45,315.99 L547.76,314.48 L549.10,312.96 L550.47,311.41 L551.85,309.87 L553.25,308.33 L554.64,306.81 L556.02,305.31 L557.38,303.84 L558.71,302.42 L560.00,301.04 L561.25,299.73 L562.47,298.47 L563.67,297.24 L564.86,296.05 L566.03,294.89 L567.19,293.73 L568.35,292.58 L569.52,291.43 L570.69,290.26 L571.87,289.07 L569.73,286.93 L568.55,288.11 L567.38,289.28 L566.22,290.43 L565.05,291.58 L563.89,292.74 L562.71,293.91 L561.52,295.11 L560.30,296.35 L559.07,297.63 L557.80,298.96 L556.50,300.34 L555.16,301.78 L553.79,303.25 L552.40,304.76 L551.00,306.29 L549.60,307.84 L548.21,309.40 L546.83,310.95 L545.47,312.49 L544.15,314.01 L542.88,315.49 L541.64,316.94 L540.43,318.36 L539.23,319.79 L538.04,321.22 L536.76,322.62 L535.35,323.96 L533.98,325.41 L532.59,326.96 L531.16,328.59 L529.69,330.32 L528.17,332.14 L526.61,334.04 L525.03,336.00 L523.44,337.99 L521.85,340.02 L520.28,342.07 L518.73,344.11 L517.22,346.14 L515.76,348.14 L514.34,350.12 L512.95,352.10 L511.57,354.09 L510.22,356.07 L508.89,358.06 L507.58,360.05 L506.29,362.04 L505.02,364.03 L503.77,366.03 L502.53,368.02 L501.31,370.02 L500.11,372.03 L498.94,374.03 L497.78,376.03 L496.65,378.04 L495.53,380.04 L494.42,382.04 L493.33,384.04 L492.26,386.04 L491.19,388.04 L490.13,390.04 L489.09,392.05 L488.06,394.06 L487.04,396.07 L486.03,398.08 L485.04,400.09 L484.06,402.10 L483.10,404.11 L482.15,406.12 L481.21,408.14 L480.29,410.16 L479.38,412.19 L478.49,414.21 L477.62,416.22 L476.76,418.24 L475.91,420.25 L475.07,422.26 L474.24,424.27 L473.41,426.27 L472.59,428.28 L471.78,430.29 L470.96,432.30 L470.16,434.31 L469.36,436.33 L468.57,438.34 L467.79,440.35 L467.02,442.37 L466.25,444.39 L465.49,446.40 L464.74,448.42 L463.99,450.44 L463.26,452.46 L462.53,454.48 L461.81,456.50 L461.11,458.52 L460.40,460.53 L459.70,462.54 L459.01,464.55 L458.32,466.56 L457.63,468.57 L456.94,470.59 L456.25,472.61 L455.58,474.63 L454.90,476.64 L454.23,478.65 L453.56,480.67 L452.90,482.68 L452.23,484.68 L451.56,486.69 L450.89,488.70 L450.21,490.71 L449.54,492.73 L448.86,494.74 L448.19,496.76 L447.51,498.77 L446.84,500.79 L446.16,502.80 L445.48,504.82 L444.80,506.84 L444.12,508.85 L443.43,510.92 L442.70,513.05 L441.96,515.23 L441.22,517.42 L440.49,519.60 L439.78,521.72 L439.09,523.77 L438.45,525.70 L437.85,527.49 L437.32,529.12 L436.85,530.54 L436.44,531.80 L436.07,532.91 L435.74,533.92 L435.44,534.84 L435.16,535.72 L434.89,536.58 L434.62,537.46 L434.37,538.39 L434.19,539.43 Z" fill="url(#lpA)" fill-opacity="0.33" filter="url(#b1_7)"/>
<path d="M437.52,540.77 L438.19,539.94 L438.69,539.11 L439.14,538.32 L439.58,537.52 L440.02,536.70 L440.47,535.82 L440.96,534.86 L441.48,533.79 L442.07,532.58 L442.72,531.21 L443.45,529.65 L444.24,527.92 L445.09,526.06 L445.97,524.09 L446.89,522.03 L447.81,519.92 L448.74,517.79 L449.66,515.67 L450.55,513.59 L451.41,511.57 L452.23,509.59 L453.06,507.61 L453.87,505.64 L454.68,503.66 L455.49,501.68 L456.29,499.70 L457.08,497.72 L457.87,495.74 L458.66,493.76 L459.44,491.77 L460.22,489.79 L460.99,487.80 L461.75,485.81 L462.51,483.82 L463.27,481.84 L464.02,479.86 L464.77,477.88 L465.52,475.90 L466.27,473.93 L467.03,471.95 L467.79,469.96 L468.54,467.98 L469.29,465.99 L470.04,464.01 L470.80,462.03 L471.55,460.05 L472.30,458.08 L473.06,456.10 L473.82,454.13 L474.59,452.16 L475.37,450.18 L476.15,448.21 L476.93,446.23 L477.72,444.25 L478.52,442.27 L479.32,440.29 L480.12,438.31 L480.92,436.32 L481.73,434.34 L482.55,432.35 L483.37,430.36 L484.19,428.37 L485.01,426.38 L485.83,424.39 L486.65,422.41 L487.48,420.43 L488.32,418.45 L489.16,416.48 L490.02,414.51 L490.89,412.54 L491.78,410.56 L492.67,408.58 L493.58,406.60 L494.50,404.62 L495.42,402.63 L496.36,400.64 L497.31,398.66 L498.26,396.67 L499.23,394.67 L500.21,392.68 L501.20,390.68 L502.19,388.68 L503.19,386.68 L504.20,384.68 L505.22,382.68 L506.25,380.69 L507.29,378.69 L508.35,376.70 L509.42,374.70 L510.51,372.70 L511.62,370.70 L512.74,368.69 L513.87,366.68 L515.02,364.66 L516.19,362.65 L517.37,360.63 L518.56,358.61 L519.77,356.59 L521.00,354.57 L522.25,352.54 L523.52,350.49 L524.84,348.39 L526.20,346.27 L527.57,344.13 L528.95,342.00 L530.32,339.89 L531.68,337.81 L533.01,335.78 L534.29,333.81 L535.51,331.93 L536.67,330.13 L537.77,328.41 L538.81,326.73 L539.73,325.03 L540.80,323.51 L541.98,322.09 L543.17,320.68 L544.37,319.26 L545.60,317.83 L546.87,316.36 L548.17,314.85 L549.52,313.32 L550.88,311.79 L552.27,310.24 L553.66,308.71 L555.05,307.18 L556.43,305.68 L557.78,304.22 L559.11,302.80 L560.40,301.42 L561.65,300.11 L562.87,298.85 L564.07,297.64 L565.25,296.45 L566.42,295.28 L567.58,294.13 L568.74,292.98 L569.91,291.82 L571.08,290.65 L572.27,289.46 L569.33,286.54 L568.15,287.72 L566.99,288.88 L565.83,290.03 L564.66,291.18 L563.49,292.34 L562.32,293.52 L561.12,294.72 L559.91,295.96 L558.66,297.24 L557.40,298.58 L556.09,299.96 L554.75,301.40 L553.38,302.87 L551.99,304.38 L550.59,305.92 L549.19,307.47 L547.79,309.03 L546.41,310.58 L545.06,312.12 L543.73,313.64 L542.46,315.13 L541.22,316.58 L540.00,318.01 L538.80,319.43 L537.61,320.87 L536.30,322.25 L534.81,323.53 L533.39,324.95 L531.95,326.46 L530.49,328.07 L528.97,329.78 L527.42,331.58 L525.82,333.46 L524.21,335.39 L522.59,337.37 L520.97,339.39 L519.36,341.42 L517.78,343.45 L516.24,345.47 L514.75,347.46 L513.31,349.43 L511.89,351.41 L510.49,353.39 L509.11,355.37 L507.76,357.35 L506.43,359.34 L505.12,361.32 L503.82,363.31 L502.55,365.30 L501.29,367.30 L500.05,369.30 L498.84,371.30 L497.64,373.31 L496.47,375.31 L495.32,377.32 L494.18,379.32 L493.06,381.32 L491.96,383.32 L490.87,385.32 L489.79,387.32 L488.72,389.33 L487.66,391.33 L486.62,393.34 L485.59,395.36 L484.58,397.37 L483.58,399.38 L482.59,401.40 L481.62,403.42 L480.66,405.44 L479.71,407.46 L478.78,409.49 L477.86,411.52 L476.97,413.55 L476.09,415.57 L475.22,417.59 L474.37,419.61 L473.53,421.62 L472.70,423.63 L471.87,425.64 L471.05,427.65 L470.23,429.66 L469.42,431.68 L468.62,433.69 L467.82,435.71 L467.03,437.73 L466.25,439.75 L465.48,441.77 L464.71,443.79 L463.96,445.82 L463.21,447.84 L462.47,449.87 L461.74,451.90 L461.02,453.92 L460.31,455.95 L459.60,457.97 L458.91,459.99 L458.22,462.01 L457.53,464.02 L456.85,466.04 L456.17,468.05 L455.49,470.07 L454.82,472.10 L454.15,474.12 L453.49,476.14 L452.83,478.16 L452.18,480.18 L451.52,482.19 L450.87,484.20 L450.22,486.21 L449.56,488.23 L448.90,490.24 L448.25,492.26 L447.59,494.28 L446.93,496.30 L446.28,498.32 L445.62,500.34 L444.96,502.36 L444.31,504.39 L443.65,506.41 L442.99,508.43 L442.32,510.50 L441.62,512.65 L440.91,514.84 L440.20,517.04 L439.50,519.22 L438.82,521.35 L438.16,523.41 L437.55,525.36 L436.99,527.16 L436.48,528.79 L436.04,530.23 L435.66,531.49 L435.32,532.61 L435.01,533.62 L434.73,534.55 L434.48,535.44 L434.23,536.31 L433.99,537.21 L433.77,538.15 L433.68,539.23 Z" fill="url(#lpA)" fill-opacity="0.33" filter="url(#b2_1)"/>
<path d="M438.08,541.00 L438.84,540.20 L439.37,539.39 L439.86,538.61 L440.32,537.82 L440.78,537.01 L441.26,536.14 L441.78,535.19 L442.33,534.12 L442.94,532.92 L443.63,531.56 L444.39,530.01 L445.21,528.30 L446.09,526.45 L447.01,524.48 L447.96,522.44 L448.92,520.34 L449.88,518.22 L450.83,516.11 L451.75,514.03 L452.63,512.02 L453.48,510.05 L454.33,508.08 L455.17,506.11 L456.00,504.14 L456.83,502.17 L457.65,500.19 L458.46,498.22 L459.27,496.24 L460.07,494.27 L460.87,492.29 L461.67,490.31 L462.46,488.32 L463.24,486.34 L464.02,484.35 L464.79,482.38 L465.55,480.40 L466.32,478.43 L467.08,476.45 L467.84,474.49 L468.61,472.52 L469.38,470.54 L470.14,468.55 L470.90,466.57 L471.66,464.59 L472.42,462.62 L473.18,460.65 L473.94,458.68 L474.71,456.71 L475.47,454.75 L476.25,452.79 L477.03,450.82 L477.81,448.85 L478.60,446.88 L479.39,444.90 L480.19,442.93 L480.99,440.95 L481.79,438.98 L482.60,437.00 L483.41,435.02 L484.22,433.04 L485.04,431.05 L485.86,429.06 L486.68,427.07 L487.49,425.09 L488.31,423.11 L489.14,421.14 L489.97,419.17 L490.81,417.20 L491.65,415.24 L492.52,413.28 L493.39,411.31 L494.28,409.33 L495.18,407.35 L496.08,405.38 L497.00,403.39 L497.92,401.41 L498.86,399.43 L499.80,397.44 L500.76,395.45 L501.72,393.46 L502.70,391.46 L503.68,389.46 L504.67,387.46 L505.66,385.46 L506.66,383.46 L507.67,381.47 L508.69,379.47 L509.73,377.48 L510.78,375.49 L511.85,373.49 L512.93,371.48 L514.03,369.47 L515.15,367.46 L516.27,365.44 L517.41,363.42 L518.57,361.40 L519.74,359.37 L520.92,357.35 L522.12,355.31 L523.34,353.28 L524.58,351.22 L525.87,349.11 L527.19,346.98 L528.53,344.82 L529.87,342.67 L531.21,340.54 L532.53,338.44 L533.82,336.39 L535.06,334.40 L536.24,332.49 L537.36,330.66 L538.41,328.91 L539.39,327.20 L540.23,325.44 L541.27,323.89 L542.44,322.47 L543.63,321.07 L544.83,319.66 L546.06,318.22 L547.32,316.75 L548.63,315.25 L549.97,313.72 L551.33,312.19 L552.71,310.65 L554.10,309.11 L555.49,307.59 L556.87,306.09 L558.23,304.63 L559.55,303.21 L560.84,301.84 L562.09,300.53 L563.30,299.27 L564.50,298.06 L565.68,296.87 L566.84,295.71 L568.00,294.55 L569.17,293.41 L570.33,292.25 L571.51,291.08 L572.69,289.89 L568.91,286.11 L567.73,287.30 L566.56,288.46 L565.40,289.61 L564.24,290.76 L563.07,291.92 L561.89,293.10 L560.69,294.30 L559.47,295.54 L558.23,296.83 L556.96,298.16 L555.65,299.55 L554.31,300.99 L552.94,302.47 L551.55,303.98 L550.15,305.51 L548.74,307.07 L547.34,308.62 L545.96,310.18 L544.60,311.73 L543.28,313.25 L542.00,314.74 L540.76,316.18 L539.54,317.62 L538.34,319.05 L537.14,320.49 L535.80,321.84 L534.23,323.07 L532.75,324.45 L531.27,325.93 L529.76,327.51 L528.20,329.20 L526.60,330.97 L524.97,332.82 L523.32,334.74 L521.66,336.70 L520.01,338.70 L518.37,340.71 L516.76,342.73 L515.18,344.74 L513.66,346.72 L512.19,348.69 L510.74,350.65 L509.32,352.63 L507.91,354.60 L506.54,356.58 L505.18,358.56 L503.84,360.54 L502.53,362.53 L501.23,364.52 L499.95,366.51 L498.69,368.51 L497.46,370.52 L496.24,372.53 L495.05,374.53 L493.88,376.54 L492.73,378.54 L491.59,380.54 L490.47,382.54 L489.37,384.54 L488.28,386.54 L487.19,388.55 L486.12,390.56 L485.07,392.57 L484.03,394.59 L483.00,396.61 L481.99,398.62 L480.99,400.65 L480.01,402.67 L479.04,404.69 L478.08,406.72 L477.14,408.76 L476.22,410.80 L475.32,412.83 L474.43,414.86 L473.56,416.89 L472.70,418.91 L471.86,420.93 L471.03,422.94 L470.20,424.95 L469.38,426.96 L468.56,428.98 L467.75,431.00 L466.94,433.02 L466.15,435.05 L465.36,437.07 L464.58,439.10 L463.81,441.12 L463.05,443.15 L462.30,445.18 L461.55,447.21 L460.82,449.25 L460.09,451.29 L459.38,453.32 L458.67,455.35 L457.98,457.38 L457.29,459.41 L456.61,461.43 L455.93,463.45 L455.26,465.46 L454.59,467.48 L453.92,469.51 L453.26,471.55 L452.61,473.57 L451.96,475.60 L451.31,477.62 L450.67,479.65 L450.04,481.66 L449.40,483.68 L448.76,485.69 L448.13,487.71 L447.49,489.73 L446.85,491.76 L446.21,493.78 L445.57,495.81 L444.94,497.83 L444.30,499.86 L443.67,501.89 L443.04,503.92 L442.40,505.95 L441.77,507.98 L441.12,510.06 L440.46,512.21 L439.78,514.41 L439.10,516.62 L438.43,518.81 L437.78,520.96 L437.16,523.02 L436.58,524.98 L436.05,526.80 L435.57,528.44 L435.16,529.89 L434.81,531.16 L434.50,532.28 L434.22,533.30 L433.97,534.24 L433.73,535.14 L433.52,536.02 L433.31,536.93 L433.13,537.89 L433.12,539.00 Z" fill="url(#lpA)" fill-opacity="0.33" filter="url(#b2_4)"/>
<path d="M438.68,541.24 L439.52,540.47 L440.10,539.69 L440.62,538.92 L441.11,538.14 L441.60,537.34 L442.11,536.48 L442.65,535.53 L443.24,534.48 L443.88,533.29 L444.60,531.93 L445.39,530.40 L446.25,528.70 L447.17,526.86 L448.13,524.91 L449.11,522.88 L450.10,520.79 L451.10,518.68 L452.08,516.58 L453.03,514.51 L453.94,512.51 L454.82,510.55 L455.69,508.58 L456.55,506.62 L457.41,504.65 L458.26,502.69 L459.10,500.72 L459.94,498.75 L460.76,496.78 L461.59,494.82 L462.41,492.84 L463.22,490.86 L464.03,488.88 L464.83,486.90 L465.62,484.92 L466.41,482.95 L467.19,480.98 L467.97,479.01 L468.74,477.05 L469.52,475.09 L470.30,473.12 L471.08,471.15 L471.85,469.17 L472.63,467.19 L473.40,465.22 L474.16,463.25 L474.93,461.29 L475.70,459.32 L476.47,457.37 L477.24,455.41 L478.02,453.46 L478.80,451.50 L479.59,449.53 L480.38,447.57 L481.18,445.60 L481.97,443.63 L482.77,441.66 L483.58,439.69 L484.38,437.72 L485.19,435.75 L486.01,433.77 L486.83,431.78 L487.65,429.79 L488.46,427.81 L489.28,425.83 L490.09,423.86 L490.91,421.89 L491.73,419.93 L492.56,417.97 L493.40,416.02 L494.25,414.07 L495.12,412.11 L496.00,410.13 L496.88,408.16 L497.78,406.19 L498.69,404.21 L499.60,402.23 L500.52,400.25 L501.45,398.27 L502.39,396.28 L503.34,394.29 L504.30,392.29 L505.27,390.29 L506.24,388.29 L507.22,386.29 L508.20,384.30 L509.19,382.30 L510.19,380.31 L511.21,378.32 L512.23,376.33 L513.28,374.33 L514.34,372.32 L515.42,370.31 L516.51,368.29 L517.61,366.27 L518.72,364.24 L519.85,362.22 L520.99,360.19 L522.15,358.15 L523.32,356.11 L524.50,354.07 L525.71,352.00 L526.97,349.88 L528.25,347.73 L529.55,345.56 L530.86,343.39 L532.16,341.24 L533.44,339.12 L534.69,337.04 L535.89,335.02 L537.03,333.09 L538.09,331.23 L539.09,329.45 L540.01,327.70 L540.76,325.87 L541.77,324.30 L542.94,322.89 L544.12,321.48 L545.32,320.07 L546.54,318.64 L547.81,317.17 L549.11,315.67 L550.45,314.15 L551.81,312.62 L553.19,311.08 L554.58,309.54 L555.97,308.03 L557.34,306.53 L558.70,305.07 L560.02,303.65 L561.31,302.28 L562.55,300.98 L563.76,299.72 L564.96,298.51 L566.13,297.33 L567.30,296.16 L568.46,295.01 L569.62,293.86 L570.79,292.71 L571.96,291.53 L573.15,290.34 L568.45,285.66 L567.27,286.84 L566.11,288.00 L564.95,289.15 L563.79,290.30 L562.62,291.46 L561.43,292.64 L560.23,293.85 L559.01,295.09 L557.77,296.38 L556.49,297.72 L555.18,299.11 L553.84,300.55 L552.47,302.03 L551.07,303.54 L549.67,305.08 L548.26,306.63 L546.86,308.20 L545.48,309.75 L544.12,311.30 L542.79,312.83 L541.51,314.32 L540.27,315.77 L539.05,317.20 L537.85,318.63 L536.65,320.08 L535.27,321.41 L533.61,322.57 L532.07,323.91 L530.53,325.36 L528.97,326.91 L527.37,328.57 L525.73,330.32 L524.06,332.15 L522.37,334.04 L520.68,335.98 L518.98,337.96 L517.31,339.95 L515.66,341.96 L514.05,343.96 L512.50,345.93 L510.99,347.89 L509.51,349.85 L508.06,351.81 L506.63,353.78 L505.23,355.76 L503.84,357.73 L502.48,359.71 L501.14,361.69 L499.82,363.68 L498.52,365.67 L497.24,367.67 L495.98,369.68 L494.74,371.69 L493.53,373.70 L492.34,375.70 L491.17,377.71 L490.02,379.71 L488.88,381.71 L487.76,383.71 L486.66,385.71 L485.56,387.72 L484.48,389.73 L483.41,391.75 L482.35,393.77 L481.31,395.79 L480.29,397.81 L479.28,399.84 L478.29,401.87 L477.31,403.89 L476.35,405.93 L475.39,407.98 L474.46,410.03 L473.55,412.07 L472.66,414.11 L471.78,416.14 L470.92,418.17 L470.08,420.19 L469.24,422.21 L468.41,424.22 L467.59,426.23 L466.77,428.25 L465.96,430.28 L465.16,432.31 L464.36,434.34 L463.58,436.37 L462.80,438.40 L462.03,440.43 L461.28,442.47 L460.53,444.50 L459.78,446.54 L459.05,448.59 L458.33,450.63 L457.62,452.68 L456.92,454.71 L456.24,456.75 L455.56,458.78 L454.89,460.81 L454.22,462.83 L453.56,464.85 L452.90,466.88 L452.25,468.91 L451.60,470.95 L450.95,472.99 L450.32,475.02 L449.69,477.05 L449.07,479.08 L448.45,481.10 L447.83,483.12 L447.21,485.14 L446.59,487.16 L445.97,489.18 L445.35,491.22 L444.73,493.25 L444.12,495.28 L443.50,497.31 L442.89,499.35 L442.28,501.38 L441.68,503.42 L441.07,505.45 L440.46,507.49 L439.85,509.58 L439.21,511.74 L438.56,513.95 L437.91,516.17 L437.28,518.37 L436.66,520.53 L436.08,522.61 L435.54,524.58 L435.04,526.41 L434.60,528.07 L434.23,529.52 L433.90,530.80 L433.62,531.94 L433.37,532.96 L433.15,533.91 L432.94,534.82 L432.75,535.71 L432.58,536.63 L432.44,537.62 L432.52,538.76 Z" fill="url(#lpA)" fill-opacity="0.33" filter="url(#b2_7)"/>
<path d="M439.31,541.49 L440.25,540.77 L440.88,540.00 L441.43,539.25 L441.95,538.49 L442.47,537.69 L443.01,536.84 L443.58,535.90 L444.20,534.86 L444.87,533.68 L445.62,532.33 L446.45,530.81 L447.35,529.12 L448.31,527.29 L449.30,525.36 L450.33,523.34 L451.36,521.27 L452.39,519.17 L453.40,517.08 L454.38,515.02 L455.32,513.03 L456.23,511.07 L457.13,509.12 L458.02,507.16 L458.90,505.20 L459.77,503.24 L460.64,501.28 L461.50,499.32 L462.35,497.36 L463.19,495.39 L464.03,493.43 L464.87,491.45 L465.70,489.47 L466.52,487.49 L467.33,485.52 L468.13,483.55 L468.93,481.59 L469.72,479.63 L470.51,477.67 L471.29,475.72 L472.08,473.76 L472.88,471.79 L473.66,469.82 L474.45,467.85 L475.23,465.88 L476.01,463.92 L476.78,461.96 L477.56,460.01 L478.33,458.06 L479.11,456.12 L479.89,454.17 L480.68,452.22 L481.47,450.26 L482.27,448.30 L483.06,446.34 L483.86,444.38 L484.67,442.42 L485.47,440.45 L486.28,438.49 L487.09,436.52 L487.90,434.54 L488.72,432.56 L489.54,430.57 L490.35,428.59 L491.16,426.62 L491.97,424.65 L492.79,422.69 L493.60,420.74 L494.42,418.79 L495.25,416.85 L496.09,414.90 L496.95,412.95 L497.82,410.98 L498.69,409.02 L499.58,407.05 L500.47,405.08 L501.37,403.10 L502.28,401.13 L503.20,399.15 L504.12,397.16 L505.06,395.17 L506.00,393.17 L506.95,391.17 L507.91,389.17 L508.86,387.18 L509.83,385.18 L510.80,383.19 L511.78,381.20 L512.77,379.21 L513.78,377.22 L514.80,375.22 L515.83,373.21 L516.89,371.19 L517.95,369.17 L519.03,367.14 L520.11,365.12 L521.21,363.08 L522.32,361.05 L523.45,359.00 L524.58,356.96 L525.73,354.91 L526.91,352.82 L528.13,350.70 L529.38,348.53 L530.64,346.34 L531.91,344.16 L533.17,341.98 L534.40,339.83 L535.61,337.73 L536.76,335.69 L537.85,333.72 L538.87,331.84 L539.81,330.02 L540.67,328.22 L541.33,326.33 L542.29,324.73 L543.46,323.32 L544.64,321.92 L545.84,320.52 L547.06,319.08 L548.32,317.62 L549.63,316.12 L550.96,314.60 L552.32,313.07 L553.70,311.53 L555.09,310.00 L556.47,308.49 L557.84,306.99 L559.20,305.53 L560.52,304.11 L561.80,302.75 L563.04,301.45 L564.25,300.20 L565.44,298.99 L566.61,297.81 L567.78,296.65 L568.94,295.50 L570.10,294.35 L571.27,293.19 L572.45,292.02 L573.63,290.82 L567.97,285.18 L566.79,286.36 L565.63,287.51 L564.47,288.66 L563.31,289.82 L562.13,290.98 L560.95,292.16 L559.75,293.37 L558.52,294.62 L557.27,295.91 L556.00,297.25 L554.68,298.64 L553.34,300.08 L551.97,301.57 L550.57,303.08 L549.16,304.62 L547.76,306.18 L546.35,307.74 L544.97,309.30 L543.60,310.85 L542.28,312.38 L540.99,313.87 L539.75,315.32 L538.53,316.76 L537.32,318.20 L536.12,319.64 L534.71,320.95 L532.95,322.04 L531.35,323.34 L529.76,324.76 L528.15,326.28 L526.50,327.91 L524.81,329.63 L523.10,331.43 L521.37,333.30 L519.63,335.22 L517.90,337.18 L516.18,339.16 L514.50,341.14 L512.85,343.13 L511.27,345.09 L509.73,347.04 L508.22,349.00 L506.73,350.95 L505.27,352.92 L503.84,354.88 L502.43,356.86 L501.04,358.83 L499.67,360.81 L498.33,362.79 L497.00,364.78 L495.70,366.78 L494.41,368.79 L493.15,370.80 L491.92,372.81 L490.71,374.82 L489.52,376.82 L488.35,378.83 L487.20,380.83 L486.06,382.83 L484.94,384.83 L483.83,386.84 L482.73,388.85 L481.65,390.87 L480.58,392.90 L479.53,394.92 L478.49,396.95 L477.47,398.98 L476.47,401.02 L475.48,403.05 L474.51,405.10 L473.54,407.15 L472.60,409.21 L471.68,411.26 L470.78,413.31 L469.90,415.35 L469.04,417.38 L468.19,419.41 L467.35,421.43 L466.52,423.44 L465.70,425.46 L464.88,427.48 L464.07,429.51 L463.26,431.55 L462.47,433.58 L461.69,435.62 L460.91,437.66 L460.15,439.70 L459.39,441.74 L458.65,443.78 L457.91,445.83 L457.18,447.88 L456.47,449.94 L455.76,451.99 L455.07,454.04 L454.39,456.08 L453.73,458.12 L453.06,460.15 L452.41,462.18 L451.76,464.21 L451.12,466.24 L450.47,468.28 L449.83,470.33 L449.21,472.37 L448.59,474.41 L447.97,476.45 L447.36,478.48 L446.76,480.51 L446.16,482.53 L445.56,484.55 L444.97,486.57 L444.37,488.61 L443.77,490.64 L443.17,492.68 L442.58,494.72 L441.99,496.76 L441.40,498.80 L440.82,500.84 L440.24,502.88 L439.66,504.93 L439.08,506.97 L438.49,509.07 L437.88,511.24 L437.27,513.46 L436.66,515.69 L436.06,517.91 L435.49,520.08 L434.94,522.18 L434.44,524.16 L433.98,526.00 L433.58,527.67 L433.23,529.13 L432.94,530.42 L432.69,531.57 L432.47,532.60 L432.28,533.56 L432.10,534.47 L431.95,535.38 L431.81,536.32 L431.72,537.32 L431.89,538.51 Z" fill="url(#lpA)" fill-opacity="0.33" filter="url(#b3_0)"/>
</g>
<g clip-path="url(#cpABa)">
<rect x="609.60" y="65.80" width="306.40" height="475.00" fill="#030303" stroke="none" stroke-width="0"/>
<rect x="609.60" y="150.00" width="306.40" height="200.00" fill="url(#exA)" stroke="none" stroke-width="0" mask="url(#exAmask)"/>
<path d="M643.00,63.00 L609.80,132.00" fill="none" stroke="#fff" stroke-width="6" stroke-opacity="0.12" stroke-linecap="round" stroke-linejoin="round" filter="url(#b2)"/>
<path d="M643.00,63.00 L609.80,132.00" fill="none" stroke="#fff" stroke-width="2.4" stroke-opacity="0.7" stroke-linecap="round" stroke-linejoin="round" filter="url(#b0_6)"/>
<path d="M609.80,132.00 L652.00,218.00" fill="none" stroke="url(#upA)" stroke-width="6" stroke-opacity="0.15" stroke-linecap="round" stroke-linejoin="round" filter="url(#b2)"/>
<path d="M609.80,132.00 L652.00,218.00" fill="none" stroke="url(#upA)" stroke-width="2.4" stroke-opacity="0.85" stroke-linecap="round" stroke-linejoin="round" filter="url(#b0_6)"/>
<path d="M605.35,281.18 L606.75,281.93 L608.11,282.61 L609.44,283.25 L610.74,283.87 L612.05,284.50 L613.37,285.18 L614.73,285.93 L616.16,286.78 L617.67,287.77 L619.30,288.94 L621.03,290.23 L622.83,291.58 L624.69,292.99 L626.60,294.50 L628.56,296.11 L630.59,297.86 L632.68,299.76 L634.83,301.84 L637.04,304.11 L639.31,306.60 L641.64,309.31 L644.04,312.20 L646.49,315.28 L649.00,318.53 L651.58,321.95 L654.22,325.53 L656.93,329.26 L659.72,333.15 L662.57,337.18 L665.51,341.34 L668.55,345.66 L671.71,350.15 L674.97,354.81 L678.30,359.61 L681.69,364.56 L685.12,369.65 L688.55,374.86 L691.98,380.19 L695.38,385.62 L698.72,391.16 L702.10,396.95 L705.57,403.09 L709.08,409.47 L712.61,416.01 L716.11,422.60 L719.55,429.16 L722.88,435.58 L726.05,441.78 L729.05,447.65 L731.82,453.09 L734.34,458.07 L736.64,462.66 L738.74,466.94 L740.71,470.99 L742.57,474.90 L744.37,478.74 L746.15,482.60 L747.96,486.55 L749.84,490.69 L751.82,495.08 L753.88,499.70 L755.95,504.43 L758.04,509.26 L760.14,514.17 L762.25,519.14 L764.37,524.14 L766.48,529.16 L768.60,534.17 L770.71,539.15 L772.82,544.08 L773.18,543.92 L771.08,538.99 L768.97,534.01 L766.85,529.00 L764.74,523.99 L762.62,518.98 L760.51,514.02 L758.41,509.11 L756.32,504.27 L754.24,499.54 L752.18,494.92 L750.20,490.52 L748.33,486.39 L746.52,482.43 L744.73,478.57 L742.93,474.73 L741.07,470.82 L739.10,466.76 L737.00,462.48 L734.70,457.89 L732.18,452.91 L729.40,447.47 L726.41,441.60 L723.23,435.40 L719.92,428.97 L716.51,422.40 L713.04,415.78 L709.54,409.23 L706.05,402.82 L702.62,396.66 L699.28,390.84 L695.96,385.27 L692.60,379.80 L689.21,374.43 L685.81,369.19 L682.43,364.06 L679.09,359.08 L675.80,354.23 L672.59,349.54 L669.48,345.02 L666.49,340.66 L663.61,336.46 L660.80,332.39 L658.06,328.46 L655.40,324.68 L652.80,321.05 L650.26,317.58 L647.79,314.28 L645.37,311.14 L643.01,308.18 L640.69,305.40 L638.42,302.82 L636.21,300.47 L634.06,298.31 L631.97,296.33 L629.94,294.51 L627.96,292.83 L626.05,291.26 L624.21,289.80 L622.43,288.40 L620.70,287.06 L619.04,285.82 L617.47,284.74 L615.98,283.80 L614.57,282.98 L613.20,282.25 L611.88,281.57 L610.58,280.92 L609.30,280.27 L608.00,279.58 L606.65,278.82 Z" fill="url(#lpA2)" fill-opacity="0.16" filter="url(#b1_0)"/>
<path d="M604.28,283.12 L605.72,283.86 L607.14,284.54 L608.50,285.16 L609.82,285.75 L611.10,286.35 L612.39,286.97 L613.71,287.66 L615.08,288.45 L616.54,289.37 L618.15,290.48 L619.89,291.73 L621.70,293.04 L623.56,294.41 L625.47,295.87 L627.44,297.42 L629.46,299.11 L631.54,300.95 L633.69,302.96 L635.90,305.16 L638.18,307.59 L640.53,310.24 L642.94,313.08 L645.42,316.10 L647.96,319.31 L650.57,322.68 L653.25,326.22 L656.01,329.92 L658.83,333.77 L661.73,337.77 L664.71,341.90 L667.79,346.19 L670.99,350.65 L674.29,355.27 L677.66,360.05 L681.09,364.97 L684.54,370.02 L688.01,375.20 L691.47,380.51 L694.90,385.92 L698.27,391.43 L701.68,397.19 L705.17,403.31 L708.71,409.67 L712.27,416.19 L715.79,422.77 L719.25,429.32 L722.60,435.73 L725.80,441.91 L728.81,447.77 L731.60,453.20 L734.14,458.17 L736.44,462.75 L738.56,467.03 L740.53,471.08 L742.40,474.98 L744.21,478.82 L746.00,482.67 L747.81,486.63 L749.69,490.76 L751.67,495.15 L753.73,499.76 L755.81,504.49 L757.90,509.32 L760.01,514.23 L762.12,519.20 L764.23,524.20 L766.35,529.21 L768.47,534.22 L770.58,539.20 L772.68,544.14 L773.32,543.86 L771.21,538.93 L769.10,533.95 L766.99,528.95 L764.87,523.93 L762.76,518.93 L760.65,513.96 L758.55,509.05 L756.46,504.21 L754.39,499.47 L752.33,494.85 L750.35,490.46 L748.48,486.32 L746.68,482.36 L744.90,478.50 L743.10,474.65 L741.25,470.73 L739.29,466.67 L737.19,462.38 L734.91,457.79 L732.40,452.80 L729.64,447.34 L726.67,441.47 L723.52,435.26 L720.22,428.81 L716.83,422.23 L713.38,415.60 L709.91,409.02 L706.45,402.60 L703.04,396.41 L699.73,390.57 L696.44,384.98 L693.10,379.48 L689.75,374.09 L686.38,368.81 L683.04,363.66 L679.73,358.64 L676.48,353.76 L673.31,349.04 L670.24,344.49 L667.29,340.10 L664.45,335.87 L661.68,331.76 L658.99,327.80 L656.36,323.98 L653.80,320.32 L651.30,316.80 L648.86,313.45 L646.47,310.27 L644.12,307.25 L641.82,304.41 L639.56,301.77 L637.35,299.35 L635.20,297.12 L633.10,295.08 L631.06,293.20 L629.09,291.46 L627.18,289.85 L625.34,288.33 L623.57,286.91 L621.85,285.52 L620.17,284.22 L618.55,283.07 L617.01,282.07 L615.55,281.19 L614.15,280.40 L612.81,279.69 L611.52,279.01 L610.27,278.34 L609.02,277.65 L607.72,276.88 Z" fill="url(#lpA2)" fill-opacity="0.16" filter="url(#b2_1)"/>
<path d="M602.97,285.50 L604.46,286.23 L605.95,286.90 L607.35,287.51 L608.67,288.07 L609.94,288.62 L611.19,289.19 L612.45,289.80 L613.76,290.51 L615.16,291.34 L616.73,292.37 L618.48,293.57 L620.31,294.84 L622.18,296.16 L624.09,297.55 L626.05,299.04 L628.07,300.65 L630.15,302.41 L632.29,304.33 L634.50,306.46 L636.78,308.80 L639.15,311.38 L641.59,314.15 L644.11,317.12 L646.69,320.27 L649.34,323.59 L652.07,327.08 L654.87,330.73 L657.74,334.54 L660.69,338.49 L663.72,342.59 L666.85,346.84 L670.11,351.27 L673.45,355.85 L676.87,360.59 L680.34,365.47 L683.84,370.49 L687.35,375.63 L690.85,380.90 L694.31,386.27 L697.72,391.75 L701.15,397.49 L704.68,403.58 L708.26,409.92 L711.84,416.42 L715.39,422.98 L718.87,429.51 L722.24,435.91 L725.46,442.08 L728.50,447.93 L731.30,453.36 L733.85,458.32 L736.16,462.89 L738.28,467.16 L740.26,471.21 L742.13,475.11 L743.94,478.94 L745.73,482.79 L747.55,486.74 L749.43,490.87 L751.42,495.26 L753.49,499.87 L755.57,504.60 L757.66,509.43 L759.76,514.34 L761.87,519.30 L763.99,524.30 L766.11,529.32 L768.22,534.33 L770.34,539.31 L772.44,544.24 L773.56,543.76 L771.45,538.83 L769.34,533.85 L767.23,528.84 L765.11,523.83 L763.00,518.82 L760.89,513.86 L758.79,508.94 L756.71,504.10 L754.63,499.36 L752.58,494.74 L750.60,490.34 L748.74,486.20 L746.94,482.24 L745.16,478.37 L743.37,474.52 L741.52,470.60 L739.57,466.54 L737.47,462.24 L735.20,457.64 L732.70,452.64 L729.96,447.18 L727.00,441.30 L723.87,435.07 L720.60,428.62 L717.23,422.02 L713.81,415.37 L710.36,408.78 L706.94,402.33 L703.56,396.12 L700.28,390.25 L697.03,384.62 L693.73,379.09 L690.41,373.66 L687.09,368.35 L683.78,363.16 L680.52,358.10 L677.32,353.19 L674.20,348.43 L671.18,343.83 L668.28,339.41 L665.49,335.14 L662.77,331.00 L660.13,326.99 L657.55,323.13 L655.03,319.41 L652.58,315.85 L650.17,312.44 L647.81,309.19 L645.50,306.11 L643.22,303.20 L640.96,300.48 L638.75,297.97 L636.59,295.66 L634.49,293.54 L632.45,291.59 L630.47,289.78 L628.56,288.10 L626.73,286.54 L624.98,285.06 L623.27,283.63 L621.55,282.25 L619.87,281.01 L618.27,279.93 L616.75,278.97 L615.31,278.13 L613.95,277.37 L612.67,276.66 L611.46,275.98 L610.29,275.28 L609.03,274.50 Z" fill="url(#lpA2)" fill-opacity="0.16" filter="url(#b3_3)"/>
<path d="M601.47,288.23 L603.01,288.94 L604.58,289.61 L606.03,290.20 L607.36,290.72 L608.61,291.22 L609.81,291.72 L611.00,292.25 L612.24,292.86 L613.57,293.59 L615.11,294.54 L616.87,295.68 L618.72,296.90 L620.60,298.15 L622.51,299.48 L624.47,300.89 L626.48,302.41 L628.55,304.08 L630.68,305.91 L632.89,307.94 L635.19,310.19 L637.58,312.68 L640.05,315.38 L642.60,318.28 L645.23,321.36 L647.93,324.63 L650.71,328.06 L653.56,331.66 L656.49,335.42 L659.50,339.32 L662.59,343.37 L665.78,347.59 L669.09,351.97 L672.49,356.51 L675.97,361.20 L679.49,366.04 L683.04,371.02 L686.59,376.12 L690.13,381.35 L693.64,386.69 L697.08,392.13 L700.56,397.83 L704.12,403.89 L707.73,410.20 L711.35,416.68 L714.94,423.22 L718.45,429.73 L721.84,436.12 L725.08,442.28 L728.13,448.11 L730.95,453.53 L733.51,458.49 L735.83,463.06 L737.96,467.32 L739.95,471.36 L741.82,475.25 L743.64,479.08 L745.44,482.93 L747.26,486.88 L749.14,491.00 L751.13,495.39 L753.20,500.00 L755.28,504.72 L757.38,509.55 L759.48,514.46 L761.60,519.42 L763.71,524.42 L765.83,529.43 L767.95,534.44 L770.06,539.42 L772.16,544.36 L773.84,543.64 L771.73,538.71 L769.62,533.73 L767.51,528.73 L765.39,523.71 L763.28,518.71 L761.17,513.74 L759.08,508.82 L756.99,503.98 L754.92,499.24 L752.87,494.61 L750.89,490.21 L749.03,486.07 L747.24,482.10 L745.46,478.23 L743.68,474.37 L741.83,470.45 L739.89,466.38 L737.80,462.08 L735.53,457.47 L733.05,452.47 L730.32,447.00 L727.38,441.10 L724.27,434.87 L721.03,428.39 L717.69,421.78 L714.30,415.11 L710.89,408.49 L707.50,402.02 L704.16,395.78 L700.92,389.87 L697.70,384.21 L694.44,378.64 L691.17,373.17 L687.89,367.82 L684.64,362.58 L681.42,357.48 L678.28,352.53 L675.21,347.73 L672.25,343.09 L669.41,338.63 L666.68,334.31 L664.02,330.12 L661.43,326.06 L658.91,322.15 L656.44,318.37 L654.04,314.75 L651.67,311.28 L649.36,307.96 L647.07,304.81 L644.81,301.81 L642.57,299.00 L640.36,296.39 L638.19,293.99 L636.08,291.78 L634.03,289.74 L632.05,287.85 L630.14,286.10 L628.32,284.48 L626.59,282.95 L624.89,281.46 L623.14,280.00 L621.39,278.66 L619.72,277.48 L618.13,276.44 L616.64,275.53 L615.26,274.72 L613.99,273.97 L612.82,273.27 L611.73,272.57 L610.53,271.77 Z" fill="url(#lpA2)" fill-opacity="0.16" filter="url(#b4_4)"/>
<path d="M599.81,291.25 L601.42,291.94 L603.07,292.61 L604.57,293.18 L605.91,293.66 L607.14,294.10 L608.28,294.52 L609.40,294.96 L610.57,295.47 L611.82,296.09 L613.32,296.93 L615.09,298.02 L616.96,299.18 L618.85,300.36 L620.76,301.61 L622.72,302.93 L624.72,304.36 L626.78,305.93 L628.91,307.66 L631.12,309.58 L633.42,311.73 L635.84,314.13 L638.35,316.74 L640.94,319.56 L643.61,322.58 L646.37,325.77 L649.20,329.15 L652.12,332.69 L655.11,336.39 L658.18,340.24 L661.33,344.25 L664.59,348.41 L667.97,352.75 L671.43,357.24 L674.97,361.89 L678.54,366.68 L682.15,371.60 L685.75,376.66 L689.34,381.84 L692.89,387.14 L696.38,392.54 L699.90,398.21 L703.50,404.23 L707.15,410.52 L710.81,416.97 L714.43,423.49 L717.97,429.98 L721.40,436.35 L724.66,442.49 L727.73,448.32 L730.57,453.73 L733.14,458.67 L735.47,463.24 L737.61,467.49 L739.60,471.52 L741.48,475.41 L743.31,479.24 L745.11,483.08 L746.93,487.02 L748.82,491.15 L750.82,495.53 L752.89,500.14 L754.97,504.86 L757.07,509.68 L759.17,514.59 L761.29,519.55 L763.40,524.55 L765.52,529.56 L767.64,534.57 L769.75,539.56 L771.86,544.49 L774.14,543.51 L772.04,538.58 L769.93,533.60 L767.81,528.60 L765.70,523.58 L763.59,518.57 L761.48,513.60 L759.39,508.69 L757.30,503.84 L755.23,499.10 L753.18,494.47 L751.22,490.06 L749.36,485.92 L747.57,481.95 L745.80,478.08 L744.02,474.21 L742.18,470.29 L740.24,466.21 L738.16,461.90 L735.91,457.28 L733.43,452.27 L730.72,446.79 L727.80,440.89 L724.71,434.64 L721.50,428.15 L718.19,421.51 L714.84,414.82 L711.46,408.18 L708.12,401.67 L704.82,395.40 L701.62,389.46 L698.45,383.75 L695.23,378.14 L692.01,372.63 L688.78,367.23 L685.58,361.95 L682.43,356.80 L679.34,351.80 L676.33,346.95 L673.44,342.26 L670.67,337.75 L668.00,333.39 L665.40,329.15 L662.88,325.04 L660.41,321.06 L658.01,317.23 L655.65,313.54 L653.34,309.99 L651.06,306.60 L648.81,303.36 L646.58,300.27 L644.34,297.36 L642.13,294.65 L639.96,292.14 L637.84,289.83 L635.78,287.70 L633.80,285.72 L631.89,283.89 L630.08,282.20 L628.37,280.62 L626.68,279.07 L624.89,277.50 L623.07,276.05 L621.31,274.77 L619.66,273.64 L618.11,272.65 L616.71,271.78 L615.45,270.99 L614.34,270.27 L613.33,269.57 L612.19,268.75 Z" fill="url(#lpA2)" fill-opacity="0.16" filter="url(#b5_6)"/>
<path d="M598.01,294.53 L599.68,295.19 L601.43,295.86 L602.99,296.40 L604.34,296.84 L605.54,297.21 L606.63,297.55 L607.67,297.90 L608.75,298.29 L609.92,298.79 L611.37,299.53 L613.16,300.55 L615.06,301.65 L616.96,302.76 L618.87,303.92 L620.81,305.14 L622.81,306.47 L624.86,307.93 L626.99,309.55 L629.19,311.35 L631.51,313.39 L633.95,315.69 L636.50,318.22 L639.14,320.96 L641.86,323.89 L644.68,327.01 L647.57,330.32 L650.55,333.80 L653.61,337.44 L656.75,341.24 L659.98,345.19 L663.31,349.31 L666.75,353.59 L670.29,358.03 L673.88,362.63 L677.52,367.36 L681.18,372.24 L684.84,377.25 L688.49,382.38 L692.08,387.63 L695.62,392.99 L699.18,398.62 L702.83,404.60 L706.53,410.86 L710.23,417.28 L713.89,423.77 L717.46,430.24 L720.91,436.59 L724.21,442.72 L727.30,448.54 L730.15,453.94 L732.74,458.88 L735.08,463.43 L737.23,467.68 L739.23,471.70 L741.12,475.58 L742.94,479.41 L744.75,483.24 L746.58,487.18 L748.47,491.31 L750.47,495.69 L752.54,500.29 L754.63,505.01 L756.73,509.83 L758.84,514.73 L760.95,519.69 L763.07,524.69 L765.19,529.70 L767.31,534.71 L769.42,539.70 L771.52,544.63 L774.48,543.37 L772.37,538.44 L770.26,533.46 L768.15,528.45 L766.03,523.44 L763.92,518.43 L761.82,513.46 L759.72,508.54 L757.64,503.70 L755.58,498.95 L753.53,494.31 L751.56,489.91 L749.71,485.76 L747.92,481.79 L746.16,477.91 L744.38,474.04 L742.55,470.11 L740.62,466.02 L738.55,461.71 L736.31,457.08 L733.85,452.06 L731.15,446.57 L728.26,440.65 L725.20,434.39 L722.01,427.88 L718.74,421.23 L715.42,414.51 L712.09,407.84 L708.79,401.30 L705.54,394.99 L702.38,389.01 L699.25,383.26 L696.09,377.60 L692.91,372.04 L689.74,366.59 L686.60,361.26 L683.51,356.06 L680.48,351.01 L677.55,346.10 L674.72,341.37 L672.02,336.81 L669.43,332.39 L666.90,328.10 L664.44,323.93 L662.04,319.89 L659.70,315.99 L657.40,312.22 L655.14,308.60 L652.91,305.13 L650.70,301.80 L648.49,298.61 L646.27,295.58 L644.05,292.75 L641.88,290.14 L639.75,287.72 L637.69,285.48 L635.69,283.41 L633.78,281.50 L631.98,279.73 L630.30,278.09 L628.63,276.47 L626.79,274.80 L624.88,273.23 L623.05,271.83 L621.31,270.61 L619.71,269.54 L618.28,268.60 L617.04,267.77 L615.97,267.02 L615.06,266.32 L613.99,265.47 Z" fill="url(#lpA2)" fill-opacity="0.16" filter="url(#b6_7)"/>
<path d="M596.09,298.03 L597.83,298.67 L599.68,299.33 L601.29,299.85 L602.66,300.24 L603.83,300.55 L604.86,300.80 L605.82,301.04 L606.80,301.31 L607.89,301.68 L609.29,302.31 L611.09,303.25 L613.02,304.28 L614.93,305.32 L616.84,306.38 L618.78,307.51 L620.77,308.73 L622.81,310.08 L624.93,311.57 L627.14,313.25 L629.47,315.17 L631.93,317.36 L634.52,319.80 L637.21,322.44 L639.99,325.30 L642.87,328.34 L645.83,331.58 L648.88,334.99 L652.01,338.56 L655.23,342.30 L658.52,346.20 L661.93,350.26 L665.45,354.49 L669.06,358.88 L672.72,363.42 L676.43,368.10 L680.15,372.92 L683.87,377.88 L687.57,382.96 L691.22,388.16 L694.81,393.47 L698.41,399.05 L702.11,405.00 L705.86,411.22 L709.60,417.61 L713.30,424.08 L716.91,430.53 L720.40,436.86 L723.72,442.97 L726.83,448.78 L729.71,454.17 L732.31,459.09 L734.66,463.64 L736.82,467.88 L738.83,471.90 L740.72,475.77 L742.56,479.59 L744.37,483.42 L746.20,487.36 L748.10,491.47 L750.10,495.85 L752.18,500.45 L754.27,505.17 L756.37,509.98 L758.48,514.88 L760.59,519.84 L762.71,524.84 L764.83,529.85 L766.95,534.86 L769.06,539.85 L771.17,544.78 L774.83,543.22 L772.73,538.29 L770.62,533.31 L768.50,528.30 L766.39,523.29 L764.28,518.28 L762.18,513.31 L760.08,508.39 L758.00,503.54 L755.94,498.78 L753.90,494.15 L751.94,489.74 L750.09,485.59 L748.30,481.61 L746.55,477.73 L744.78,473.85 L742.95,469.91 L741.03,465.82 L738.97,461.50 L736.74,456.86 L734.29,451.83 L731.62,446.34 L728.75,440.40 L725.71,434.12 L722.56,427.60 L719.32,420.92 L716.05,414.18 L712.76,407.48 L709.50,400.90 L706.30,394.56 L703.19,388.53 L700.12,382.73 L697.01,377.03 L693.89,371.42 L690.78,365.91 L687.70,360.53 L684.67,355.27 L681.71,350.16 L678.85,345.20 L676.10,340.41 L673.48,335.80 L670.95,331.33 L668.50,326.97 L666.11,322.74 L663.78,318.63 L661.51,314.66 L659.27,310.82 L657.07,307.11 L654.89,303.55 L652.72,300.12 L650.53,296.83 L648.32,293.68 L646.11,290.73 L643.93,288.00 L641.79,285.46 L639.72,283.11 L637.72,280.94 L635.81,278.94 L634.02,277.09 L632.37,275.39 L630.71,273.69 L628.83,271.91 L626.83,270.21 L624.90,268.69 L623.08,267.36 L621.42,266.20 L619.96,265.20 L618.73,264.32 L617.72,263.55 L616.91,262.84 L615.91,261.97 Z" fill="url(#lpA2)" fill-opacity="0.16" filter="url(#b7_9)"/>
<path d="M594.05,301.73 L595.87,302.35 L597.83,303.01 L599.50,303.50 L600.89,303.84 L602.02,304.08 L602.98,304.23 L603.86,304.36 L604.75,304.51 L605.73,304.74 L607.09,305.25 L608.90,306.11 L610.86,307.08 L612.78,308.03 L614.70,309.00 L616.63,310.02 L618.60,311.12 L620.64,312.34 L622.75,313.71 L624.96,315.27 L627.30,317.06 L629.80,319.14 L632.43,321.47 L635.17,324.02 L638.01,326.78 L640.95,329.75 L643.99,332.91 L647.11,336.25 L650.32,339.76 L653.61,343.43 L656.99,347.27 L660.48,351.28 L664.08,355.45 L667.76,359.78 L671.50,364.25 L675.27,368.88 L679.06,373.64 L682.84,378.54 L686.60,383.57 L690.31,388.72 L693.94,393.98 L697.60,399.51 L701.35,405.42 L705.15,411.60 L708.94,417.96 L712.68,424.41 L716.33,430.83 L719.85,437.14 L723.20,443.24 L726.34,449.03 L729.23,454.40 L731.85,459.32 L734.22,463.86 L736.39,468.09 L738.40,472.10 L740.31,475.97 L742.14,479.78 L743.96,483.61 L745.80,487.54 L747.70,491.65 L749.71,496.03 L751.79,500.62 L753.88,505.33 L755.99,510.15 L758.10,515.05 L760.21,520.00 L762.33,525.00 L764.45,530.01 L766.57,535.02 L768.69,540.01 L770.79,544.94 L775.21,543.06 L773.10,538.13 L771.00,533.15 L768.88,528.14 L766.77,523.13 L764.66,518.12 L762.56,513.15 L760.47,508.22 L758.39,503.37 L756.33,498.61 L754.29,493.97 L752.33,489.56 L750.49,485.41 L748.71,481.42 L746.96,477.54 L745.19,473.66 L743.37,469.71 L741.46,465.61 L739.41,461.28 L737.19,456.63 L734.77,451.60 L732.11,446.09 L729.26,440.14 L726.26,433.84 L723.14,427.30 L719.94,420.59 L716.71,413.83 L713.47,407.09 L710.26,400.48 L707.11,394.09 L704.06,388.02 L701.03,382.18 L697.98,376.42 L694.91,370.75 L691.87,365.19 L688.86,359.75 L685.90,354.43 L683.01,349.26 L680.23,344.25 L677.55,339.40 L675.01,334.73 L672.57,330.20 L670.19,325.78 L667.88,321.48 L665.63,317.30 L663.42,313.25 L661.25,309.33 L659.11,305.54 L656.98,301.88 L654.86,298.35 L652.70,294.94 L650.50,291.67 L648.29,288.59 L646.10,285.73 L643.96,283.07 L641.87,280.61 L639.86,278.33 L637.96,276.23 L636.18,274.30 L634.56,272.52 L632.91,270.75 L630.98,268.85 L628.89,267.01 L626.86,265.37 L624.95,263.93 L623.23,262.67 L621.74,261.60 L620.52,260.67 L619.58,259.87 L618.87,259.16 L617.95,258.27 Z" fill="url(#lpA2)" fill-opacity="0.16" filter="url(#b9_0)"/>
<ellipse cx="616" cy="292" rx="22" ry="16" fill="#fff" fill-opacity="0.22" filter="url(#b8)"/>
<path d="M620.00,288.00 L621.65,289.45 L623.26,290.80 L624.86,292.10 L626.44,293.37 L628.03,294.64 L629.62,295.94 L631.24,297.29 L632.89,298.74 L634.58,300.30 L636.32,302.02 L638.12,303.90 L640.00,306.00 L641.93,308.27 L643.91,310.68 L645.91,313.20 L647.96,315.85 L650.05,318.62 L652.19,321.50 L654.37,324.49 L656.59,327.59 L658.87,330.80 L661.19,334.10 L663.57,337.50 L666.00,341.00 L668.50,344.60 L671.09,348.33 L673.76,352.16 L676.48,356.11 L679.25,360.16 L682.06,364.31 L684.90,368.56 L687.74,372.89 L690.59,377.30 L693.42,381.80 L696.23,386.37 L699.00,391.00 L701.79,395.81 L704.65,400.87 L707.55,406.12 L710.48,411.52 L713.41,417.00 L716.31,422.50 L719.17,427.98 L721.96,433.37 L724.66,438.62 L727.25,443.69 L729.71,448.50 L732.00,453.00 L734.12,457.18 L736.07,461.08 L737.89,464.74 L739.59,468.22 L741.20,471.56 L742.75,474.81 L744.25,478.02 L745.74,481.22 L747.23,484.48 L748.76,487.83 L750.34,491.32 L752.00,495.00 L753.71,498.84 L755.44,502.76 L757.18,506.76 L758.93,510.81 L760.68,514.92 L762.44,519.06 L764.20,523.23 L765.96,527.41 L767.73,531.59 L769.49,535.75 L771.25,539.89 L773.00,544.00" fill="none" stroke="url(#lpA2c)" stroke-width="2.4" stroke-opacity="1" stroke-linecap="round" stroke-linejoin="round" filter="url(#b0_6)"/>
</g>
<g clip-path="url(#cpRFa)">
<rect x="922.80" y="65.80" width="306.20" height="475.00" fill="#0c0c0c" stroke="none" stroke-width="0"/>
<path d="M964.00,62.00 L922.50,151.00" fill="none" stroke="#fff" stroke-width="10" stroke-opacity="0.06" stroke-linecap="round" stroke-linejoin="round" filter="url(#b4)"/>
<path d="M964.00,62.00 L922.50,151.00" fill="none" stroke="#fff" stroke-width="2.8" stroke-opacity="0.95" stroke-linecap="round" stroke-linejoin="round" filter="url(#b0_5)"/>
<path d="M922.50,160.00 L1089.00,544.00" fill="none" stroke="#fff" stroke-width="10" stroke-opacity="0.06" stroke-linecap="round" stroke-linejoin="round" filter="url(#b4)"/>
<path d="M922.50,160.00 L1089.00,544.00" fill="none" stroke="#fff" stroke-width="2.8" stroke-opacity="0.95" stroke-linecap="round" stroke-linejoin="round" filter="url(#b0_5)"/>
</g>
<line x1="304.80" y1="239.00" x2="916.00" y2="239.00" stroke="#e66984" stroke-width="4" stroke-dasharray="16.2 12.4"/>
<line x1="609.80" y1="152.00" x2="782.00" y2="536.00" stroke="#2f9e3a" stroke-width="4.2" stroke-dasharray="16.2 12.5"/>
<text x="906.3" y="279.8" font-size="30.3" text-anchor="end" font-weight="bold" fill="#e66984" font-family="'Liberation Sans', Arial, sans-serif">Exciton (X)</text>
<text x="831.0" y="446.8" font-size="30.3" text-anchor="middle" font-weight="bold" fill="#2f9e3a" font-family="'Liberation Sans', Arial, sans-serif">Cavity</text>
<text x="831.0" y="483.2" font-size="30.3" text-anchor="middle" font-weight="bold" fill="#2f9e3a" font-family="'Liberation Sans', Arial, sans-serif">Mode (C)</text>
<text x="316.3" y="100.1" font-size="30.2" fill="#fff" font-family="'Liberation Sans', Arial, sans-serif">Exp - PL</text>
<text x="906.0" y="99.6" font-size="30.2" text-anchor="end" fill="#fff" font-family="'Liberation Sans', Arial, sans-serif">Sim - Abs</text>
<text x="906.0" y="132.6" font-size="27.2" text-anchor="end" fill="#fff" font-family="'Liberation Sans', Arial, sans-serif">With Exciton</text>
<text x="1215.5" y="99.6" font-size="30.2" text-anchor="end" fill="#fff" font-family="'Liberation Sans', Arial, sans-serif">Sim - Reflec</text>
<text x="1215.5" y="132.6" font-size="27.2" text-anchor="end" fill="#fff" font-family="'Liberation Sans', Arial, sans-serif">W/o Exciton</text>
<text x="407.0" y="474.0" font-size="32.5" fill="#fff" font-family="'Liberation Sans', Arial, sans-serif">LP</text>
<line x1="303.00" y1="65.80" x2="917.00" y2="65.80" stroke="#262626" stroke-width="2"/>
<line x1="303.00" y1="540.80" x2="917.00" y2="540.80" stroke="#262626" stroke-width="2"/>
<line x1="304.00" y1="58.30" x2="304.00" y2="548.30" stroke="#262626" stroke-width="2"/>
<line x1="916.00" y1="58.30" x2="916.00" y2="548.30" stroke="#262626" stroke-width="2"/>
<line x1="922.80" y1="58.30" x2="922.80" y2="548.30" stroke="#262626" stroke-width="1.8"/>
<line x1="921.80" y1="65.80" x2="1230.00" y2="65.80" stroke="#262626" stroke-width="2"/>
<line x1="921.80" y1="540.80" x2="1230.00" y2="540.80" stroke="#262626" stroke-width="2"/>
<line x1="1229.00" y1="58.30" x2="1229.00" y2="548.30" stroke="#262626" stroke-width="2"/>
<line x1="456.40" y1="58.30" x2="456.40" y2="65.80" stroke="#262626" stroke-width="2"/>
<line x1="456.40" y1="540.80" x2="456.40" y2="548.30" stroke="#262626" stroke-width="2"/>
<line x1="609.60" y1="58.30" x2="609.60" y2="65.80" stroke="#262626" stroke-width="2"/>
<line x1="609.60" y1="540.80" x2="609.60" y2="548.30" stroke="#262626" stroke-width="2"/>
<line x1="762.80" y1="58.30" x2="762.80" y2="65.80" stroke="#262626" stroke-width="2"/>
<line x1="762.80" y1="540.80" x2="762.80" y2="548.30" stroke="#262626" stroke-width="2"/>
<line x1="1075.90" y1="58.30" x2="1075.90" y2="65.80" stroke="#262626" stroke-width="2"/>
<line x1="1075.90" y1="540.80" x2="1075.90" y2="548.30" stroke="#262626" stroke-width="2"/>
<text x="306.4" y="590.0" font-size="34.5" text-anchor="middle" font-family="'Liberation Sans', Arial, sans-serif">-0.26</text>
<text x="460.0" y="590.0" font-size="34.5" text-anchor="middle" font-family="'Liberation Sans', Arial, sans-serif">-0.13</text>
<text x="611.2" y="590.0" font-size="34.5" text-anchor="middle" font-family="'Liberation Sans', Arial, sans-serif">0</text>
<text x="758.3" y="590.0" font-size="34.5" text-anchor="middle" font-family="'Liberation Sans', Arial, sans-serif">0.13</text>
<text x="919.2" y="590.0" font-size="34.5" text-anchor="middle" font-family="'Liberation Sans', Arial, sans-serif">0.26</text>
<text x="1080.3" y="590.0" font-size="34.5" text-anchor="middle" font-family="'Liberation Sans', Arial, sans-serif">0.13</text>
<text x="1239.0" y="590.0" font-size="34.5" text-anchor="middle" font-family="'Liberation Sans', Arial, sans-serif">0.26</text>
<text x="750" y="636.8" font-size="37.5" font-family="'Liberation Sans', Arial, sans-serif">sin <tspan font-family="'Liberation Serif', 'DejaVu Serif', serif" font-style="italic" font-size="40">θ</tspan></text>
<line x1="297.50" y1="131.60" x2="304.00" y2="131.60" stroke="#262626" stroke-width="2"/>
<text x="287.5" y="142.6" font-size="34.5" text-anchor="end" font-family="'Liberation Sans', Arial, sans-serif">2.35</text>
<line x1="1229.00" y1="131.60" x2="1236.50" y2="131.60" stroke="#262626" stroke-width="2"/>
<line x1="916.00" y1="131.60" x2="922.80" y2="131.60" stroke="#262626" stroke-width="1.6"/>
<line x1="297.50" y1="228.30" x2="304.00" y2="228.30" stroke="#262626" stroke-width="2"/>
<text x="287.5" y="239.3" font-size="34.5" text-anchor="end" font-family="'Liberation Sans', Arial, sans-serif">2.30</text>
<line x1="1229.00" y1="228.30" x2="1236.50" y2="228.30" stroke="#262626" stroke-width="2"/>
<line x1="916.00" y1="228.30" x2="922.80" y2="228.30" stroke="#262626" stroke-width="1.6"/>
<line x1="297.50" y1="325.00" x2="304.00" y2="325.00" stroke="#262626" stroke-width="2"/>
<text x="287.5" y="336.0" font-size="34.5" text-anchor="end" font-family="'Liberation Sans', Arial, sans-serif">2.25</text>
<line x1="1229.00" y1="325.00" x2="1236.50" y2="325.00" stroke="#262626" stroke-width="2"/>
<line x1="916.00" y1="325.00" x2="922.80" y2="325.00" stroke="#262626" stroke-width="1.6"/>
<line x1="297.50" y1="421.70" x2="304.00" y2="421.70" stroke="#262626" stroke-width="2"/>
<text x="287.5" y="432.7" font-size="34.5" text-anchor="end" font-family="'Liberation Sans', Arial, sans-serif">2.20</text>
<line x1="1229.00" y1="421.70" x2="1236.50" y2="421.70" stroke="#262626" stroke-width="2"/>
<line x1="916.00" y1="421.70" x2="922.80" y2="421.70" stroke="#262626" stroke-width="1.6"/>
<line x1="297.50" y1="518.40" x2="304.00" y2="518.40" stroke="#262626" stroke-width="2"/>
<text x="287.5" y="529.4" font-size="34.5" text-anchor="end" font-family="'Liberation Sans', Arial, sans-serif">2.15</text>
<line x1="1229.00" y1="518.40" x2="1236.50" y2="518.40" stroke="#262626" stroke-width="2"/>
<line x1="916.00" y1="518.40" x2="922.80" y2="518.40" stroke="#262626" stroke-width="1.6"/>
<text x="1242.6" y="142.0" font-size="34.3" font-family="'Liberation Sans', Arial, sans-serif">527.6</text>
<text x="1242.6" y="238.7" font-size="34.3" font-family="'Liberation Sans', Arial, sans-serif">539.1</text>
<text x="1242.6" y="335.4" font-size="34.3" font-family="'Liberation Sans', Arial, sans-serif">551.0</text>
<text x="1242.6" y="432.1" font-size="34.3" font-family="'Liberation Sans', Arial, sans-serif">563.6</text>
<text x="1242.6" y="528.8" font-size="34.3" font-family="'Liberation Sans', Arial, sans-serif">576.7</text>
<text x="1352.0" y="316.8" font-size="36.8" text-anchor="middle" font-family="'Liberation Sans', Arial, sans-serif" transform="rotate(90 1352.0 316.8)">Wavelength (nm)</text>
<text x="1.2" y="717.2" font-size="55" font-weight="bold" font-family="'Liberation Sans', Arial, sans-serif">c</text>
<text x="553.5" y="714.4" font-size="33" font-family="'Liberation Sans', Arial, sans-serif"><tspan font-family="'Liberation Serif', 'DejaVu Serif', serif" font-style="italic" font-size="37">α</tspan> = 0.30, Scaling factor = 0.88</text>
<rect x="129.40" y="756.70" width="23.00" height="476.10" fill="url(#cbar)" stroke="#3c3c3c" stroke-width="1.8"/>
<line x1="121.00" y1="756.70" x2="129.40" y2="756.70" stroke="#333" stroke-width="1.8"/>
<text x="89.5" y="768.4" font-size="34.5" text-anchor="middle" font-family="'Liberation Sans', Arial, sans-serif">1.0</text>
<line x1="121.00" y1="851.92" x2="129.40" y2="851.92" stroke="#333" stroke-width="1.8"/>
<text x="92.5" y="860.9" font-size="34.5" text-anchor="middle" font-family="'Liberation Sans', Arial, sans-serif">0.8</text>
<line x1="121.00" y1="947.14" x2="129.40" y2="947.14" stroke="#333" stroke-width="1.8"/>
<text x="93.6" y="956.1" font-size="34.5" text-anchor="middle" font-family="'Liberation Sans', Arial, sans-serif">0.6</text>
<line x1="121.00" y1="1042.36" x2="129.40" y2="1042.36" stroke="#333" stroke-width="1.8"/>
<text x="92.5" y="1052.8" font-size="34.5" text-anchor="middle" font-family="'Liberation Sans', Arial, sans-serif">0.4</text>
<line x1="121.00" y1="1137.58" x2="129.40" y2="1137.58" stroke="#333" stroke-width="1.8"/>
<text x="95.4" y="1147.8" font-size="34.5" text-anchor="middle" font-family="'Liberation Sans', Arial, sans-serif">0.2</text>
<line x1="121.00" y1="1232.80" x2="129.40" y2="1232.80" stroke="#333" stroke-width="1.8"/>
<text x="99.5" y="1237.9" font-size="34.5" text-anchor="middle" font-family="'Liberation Sans', Arial, sans-serif">0</text>
<text x="50.8" y="985.1" font-size="36.6" text-anchor="middle" font-family="'Liberation Sans', Arial, sans-serif" transform="rotate(-90 50.8 985.1)">Normalized&#160;&#160;Signals</text>
<text x="203.6" y="974.2" font-size="37" text-anchor="middle" font-family="'Liberation Sans', Arial, sans-serif" transform="rotate(-90 203.6 974.2)">Energy (eV)</text>
<rect x="304.0" y="739.0" width="612.0" height="475.0" fill="#020202"/>
<g clip-path="url(#cpPLc)">
<rect x="304.00" y="739.00" width="305.60" height="475.00" fill="#020202" stroke="none" stroke-width="0"/>
<rect x="304.00" y="860.00" width="305.60" height="155.00" fill="url(#plC)" stroke="none" stroke-width="0"/>
<rect x="304.00" y="884.00" width="305.60" height="100.00" fill="url(#strC)" stroke="none" stroke-width="0" filter="url(#b3)"/>
<path d="M295.78,964.92 L296.55,965.44 L297.25,965.91 L297.93,966.37 L298.60,966.82 L299.28,967.27 L300.01,967.76 L300.79,968.29 L301.67,968.88 L302.66,969.55 L303.78,970.32 L305.04,971.18 L306.41,972.12 L307.87,973.13 L309.41,974.19 L311.03,975.31 L312.71,976.47 L314.44,977.65 L316.20,978.86 L317.99,980.09 L319.79,981.31 L321.63,982.55 L323.54,983.83 L325.50,985.13 L327.51,986.46 L329.54,987.81 L331.60,989.18 L333.67,990.57 L335.73,991.97 L337.77,993.38 L339.79,994.80 L341.79,996.23 L343.79,997.67 L345.79,999.12 L347.79,1000.58 L349.79,1002.07 L351.78,1003.57 L353.78,1005.09 L355.78,1006.63 L357.78,1008.19 L359.78,1009.77 L361.78,1011.38 L363.78,1013.01 L365.78,1014.66 L367.78,1016.33 L369.78,1018.01 L371.78,1019.72 L373.78,1021.45 L375.77,1023.20 L377.77,1024.96 L379.77,1026.75 L381.77,1028.55 L383.77,1030.37 L385.77,1032.20 L387.77,1034.06 L389.77,1035.93 L391.77,1037.83 L393.77,1039.75 L395.77,1041.71 L397.77,1043.70 L399.77,1045.73 L401.77,1047.79 L403.77,1049.90 L405.77,1052.03 L407.77,1054.20 L409.77,1056.40 L411.77,1058.62 L413.77,1060.87 L415.77,1063.13 L417.77,1065.41 L419.77,1067.70 L421.77,1070.01 L423.77,1072.34 L425.77,1074.69 L427.77,1077.05 L429.77,1079.44 L431.77,1081.85 L433.77,1084.28 L435.77,1086.73 L437.77,1089.19 L439.77,1091.68 L441.77,1094.19 L443.77,1096.70 L445.77,1099.24 L447.77,1101.79 L449.78,1104.36 L451.78,1106.96 L453.78,1109.59 L455.78,1112.24 L457.78,1114.93 L459.78,1117.66 L461.79,1120.43 L463.81,1123.23 L465.84,1126.07 L467.88,1128.94 L469.91,1131.84 L471.93,1134.76 L473.93,1137.71 L475.91,1140.67 L477.86,1143.65 L479.78,1146.64 L481.68,1149.62 L483.58,1152.59 L485.46,1155.55 L487.32,1158.53 L489.16,1161.53 L490.97,1164.59 L492.74,1167.70 L494.47,1170.90 L496.16,1174.19 L497.78,1177.60 L499.34,1181.14 L500.84,1184.81 L502.28,1188.58 L503.67,1192.44 L505.03,1196.36 L506.38,1200.31 L507.71,1204.29 L509.05,1208.25 L510.41,1212.19 L511.79,1216.07 L512.21,1215.93 L510.83,1212.04 L509.47,1208.11 L508.14,1204.14 L506.81,1200.17 L505.47,1196.21 L504.11,1192.28 L502.71,1188.42 L501.27,1184.63 L499.78,1180.95 L498.22,1177.40 L496.59,1173.98 L494.90,1170.68 L493.17,1167.47 L491.40,1164.34 L489.59,1161.28 L487.75,1158.26 L485.89,1155.28 L484.01,1152.32 L482.11,1149.35 L480.22,1146.36 L478.30,1143.36 L476.35,1140.38 L474.36,1137.41 L472.36,1134.46 L470.34,1131.54 L468.32,1128.63 L466.28,1125.76 L464.25,1122.92 L462.23,1120.11 L460.22,1117.34 L458.22,1114.61 L456.22,1111.91 L454.22,1109.25 L452.22,1106.62 L450.22,1104.01 L448.23,1101.44 L446.23,1098.88 L444.23,1096.34 L442.23,1093.82 L440.23,1091.32 L438.23,1088.83 L436.23,1086.35 L434.23,1083.90 L432.23,1081.47 L430.23,1079.06 L428.23,1076.67 L426.23,1074.29 L424.23,1071.94 L422.23,1069.61 L420.23,1067.30 L418.23,1065.00 L416.23,1062.72 L414.23,1060.45 L412.23,1058.20 L410.23,1055.98 L408.23,1053.77 L406.23,1051.60 L404.23,1049.46 L402.23,1047.35 L400.23,1045.27 L398.23,1043.24 L396.23,1041.24 L394.23,1039.28 L392.23,1037.35 L390.23,1035.45 L388.23,1033.57 L386.23,1031.71 L384.23,1029.88 L382.23,1028.06 L380.23,1026.25 L378.23,1024.46 L376.23,1022.68 L374.22,1020.93 L372.22,1019.20 L370.22,1017.49 L368.22,1015.79 L366.22,1014.12 L364.22,1012.47 L362.22,1010.84 L360.22,1009.23 L358.22,1007.64 L356.22,1006.07 L354.22,1004.52 L352.22,1003.00 L350.21,1001.49 L348.21,1000.01 L346.21,998.54 L344.21,997.08 L342.21,995.64 L340.21,994.20 L338.19,992.78 L336.14,991.36 L334.08,989.96 L332.01,988.56 L329.96,987.19 L327.92,985.84 L325.91,984.51 L323.95,983.20 L322.05,981.93 L320.21,980.69 L318.42,979.46 L316.63,978.24 L314.87,977.03 L313.14,975.84 L311.47,974.68 L309.85,973.56 L308.30,972.49 L306.84,971.48 L305.48,970.54 L304.22,969.68 L303.09,968.91 L302.11,968.24 L301.23,967.65 L300.44,967.11 L299.72,966.63 L299.03,966.17 L298.37,965.72 L297.69,965.27 L296.98,964.79 L296.22,964.28 Z" fill="url(#lpC)" fill-opacity="0.3" filter="url(#b0_8)"/>
<path d="M295.42,965.46 L296.19,965.97 L296.90,966.45 L297.57,966.90 L298.24,967.35 L298.93,967.80 L299.65,968.29 L300.44,968.82 L301.31,969.41 L302.30,970.08 L303.42,970.84 L304.68,971.70 L306.05,972.64 L307.51,973.64 L309.06,974.71 L310.68,975.82 L312.36,976.98 L314.09,978.17 L315.85,979.38 L317.64,980.60 L319.44,981.82 L321.29,983.06 L323.20,984.34 L325.16,985.64 L327.17,986.97 L329.21,988.31 L331.27,989.68 L333.33,991.07 L335.39,992.46 L337.43,993.87 L339.44,995.28 L341.44,996.71 L343.44,998.15 L345.44,999.59 L347.44,1001.06 L349.43,1002.54 L351.43,1004.03 L353.43,1005.55 L355.43,1007.09 L357.42,1008.64 L359.42,1010.22 L361.42,1011.83 L363.42,1013.45 L365.41,1015.10 L367.41,1016.76 L369.41,1018.44 L371.41,1020.15 L373.41,1021.87 L375.41,1023.61 L377.40,1025.38 L379.40,1027.16 L381.40,1028.96 L383.40,1030.78 L385.40,1032.61 L387.40,1034.45 L389.40,1036.32 L391.40,1038.22 L393.40,1040.14 L395.39,1042.09 L397.39,1044.07 L399.39,1046.10 L401.39,1048.16 L403.38,1050.26 L405.38,1052.39 L407.38,1054.55 L409.38,1056.75 L411.38,1058.97 L413.38,1061.21 L415.38,1063.47 L417.38,1065.74 L419.39,1068.03 L421.39,1070.34 L423.39,1072.66 L425.39,1075.01 L427.39,1077.37 L429.39,1079.76 L431.39,1082.16 L433.39,1084.59 L435.39,1087.03 L437.40,1089.50 L439.40,1091.98 L441.40,1094.48 L443.40,1097.00 L445.40,1099.53 L447.41,1102.08 L449.41,1104.65 L451.41,1107.24 L453.41,1109.86 L455.41,1112.52 L457.41,1115.20 L459.41,1117.93 L461.42,1120.69 L463.45,1123.49 L465.48,1126.33 L467.52,1129.20 L469.55,1132.09 L471.57,1135.01 L473.57,1137.95 L475.55,1140.90 L477.51,1143.88 L479.43,1146.87 L481.33,1149.85 L483.23,1152.81 L485.11,1155.77 L486.97,1158.74 L488.81,1161.74 L490.62,1164.79 L492.39,1167.90 L494.12,1171.09 L495.80,1174.37 L497.43,1177.76 L498.99,1181.29 L500.48,1184.95 L501.92,1188.71 L503.31,1192.56 L504.68,1196.48 L506.03,1200.43 L507.37,1204.40 L508.71,1208.37 L510.07,1212.31 L511.46,1216.19 L512.54,1215.81 L511.17,1211.92 L509.82,1207.99 L508.49,1204.03 L507.16,1200.05 L505.82,1196.09 L504.46,1192.16 L503.07,1188.29 L501.63,1184.49 L500.14,1180.80 L498.57,1177.24 L496.94,1173.81 L495.25,1170.49 L493.52,1167.27 L491.75,1164.14 L489.94,1161.07 L488.10,1158.05 L486.24,1155.06 L484.36,1152.09 L482.47,1149.12 L480.57,1146.13 L478.65,1143.13 L476.70,1140.14 L474.72,1137.17 L472.72,1134.22 L470.70,1131.29 L468.67,1128.38 L466.64,1125.50 L464.61,1122.66 L462.59,1119.85 L460.59,1117.07 L458.59,1114.34 L456.59,1111.64 L454.59,1108.97 L452.59,1106.34 L450.59,1103.73 L448.59,1101.15 L446.60,1098.59 L444.60,1096.05 L442.60,1093.53 L440.60,1091.02 L438.60,1088.52 L436.61,1086.05 L434.61,1083.59 L432.61,1081.16 L430.61,1078.74 L428.61,1076.35 L426.61,1073.97 L424.61,1071.62 L422.61,1069.28 L420.61,1066.97 L418.62,1064.67 L416.62,1062.38 L414.62,1060.11 L412.62,1057.86 L410.62,1055.63 L408.62,1053.42 L406.62,1051.24 L404.62,1049.10 L402.61,1046.98 L400.61,1044.90 L398.61,1042.86 L396.61,1040.86 L394.60,1038.90 L392.60,1036.96 L390.60,1035.05 L388.60,1033.17 L386.60,1031.31 L384.60,1029.47 L382.60,1027.65 L380.60,1025.84 L378.60,1024.04 L376.59,1022.27 L374.59,1020.51 L372.59,1018.77 L370.59,1017.06 L368.59,1015.36 L366.59,1013.68 L364.58,1012.03 L362.58,1010.39 L360.58,1008.78 L358.58,1007.18 L356.57,1005.61 L354.57,1004.06 L352.57,1002.53 L350.57,1001.02 L348.56,999.53 L346.56,998.06 L344.56,996.60 L342.56,995.15 L340.56,993.72 L338.53,992.29 L336.48,990.87 L334.42,989.46 L332.35,988.06 L330.29,986.69 L328.25,985.33 L326.25,984.00 L324.29,982.69 L322.39,981.42 L320.56,980.18 L318.76,978.95 L316.98,977.73 L315.22,976.51 L313.50,975.32 L311.82,974.16 L310.21,973.04 L308.66,971.98 L307.20,970.96 L305.83,970.02 L304.58,969.16 L303.45,968.39 L302.46,967.71 L301.59,967.12 L300.80,966.59 L300.07,966.10 L299.39,965.64 L298.72,965.19 L298.05,964.73 L297.34,964.26 L296.58,963.74 Z" fill="url(#lpC)" fill-opacity="0.3" filter="url(#b1_0)"/>
<path d="M294.98,966.11 L295.75,966.63 L296.46,967.10 L297.14,967.55 L297.80,968.00 L298.49,968.46 L299.21,968.94 L300.00,969.47 L300.87,970.06 L301.86,970.72 L302.98,971.49 L304.24,972.34 L305.61,973.28 L307.07,974.28 L308.62,975.35 L310.24,976.46 L311.92,977.61 L313.65,978.80 L315.42,980.01 L317.21,981.23 L319.01,982.45 L320.86,983.69 L322.78,984.97 L324.75,986.27 L326.76,987.59 L328.79,988.94 L330.85,990.30 L332.91,991.68 L334.97,993.07 L337.01,994.47 L339.02,995.88 L341.01,997.30 L343.01,998.74 L345.01,1000.18 L347.01,1001.64 L349.00,1003.12 L351.00,1004.61 L352.99,1006.12 L354.99,1007.65 L356.98,1009.20 L358.98,1010.78 L360.97,1012.38 L362.97,1014.00 L364.97,1015.63 L366.96,1017.29 L368.96,1018.97 L370.96,1020.67 L372.95,1022.39 L374.95,1024.13 L376.95,1025.89 L378.95,1027.67 L380.95,1029.47 L382.95,1031.28 L384.95,1033.10 L386.94,1034.94 L388.94,1036.81 L390.94,1038.70 L392.94,1040.61 L394.93,1042.56 L396.93,1044.54 L398.92,1046.55 L400.92,1048.61 L402.91,1050.70 L404.91,1052.83 L406.91,1054.99 L408.91,1057.17 L410.91,1059.39 L412.91,1061.63 L414.91,1063.88 L416.91,1066.16 L418.92,1068.44 L420.92,1070.74 L422.92,1073.06 L424.92,1075.40 L426.92,1077.76 L428.93,1080.15 L430.93,1082.55 L432.93,1084.97 L434.93,1087.41 L436.93,1089.87 L438.94,1092.35 L440.94,1094.85 L442.95,1097.36 L444.95,1099.89 L446.95,1102.43 L448.95,1105.00 L450.96,1107.59 L452.96,1110.20 L454.96,1112.85 L456.96,1115.54 L458.96,1118.26 L460.98,1121.02 L463.00,1123.81 L465.04,1126.65 L467.07,1129.51 L469.11,1132.40 L471.13,1135.31 L473.13,1138.24 L475.11,1141.19 L477.07,1144.16 L478.99,1147.14 L480.90,1150.12 L482.80,1153.09 L484.68,1156.04 L486.55,1159.01 L488.38,1162.00 L490.19,1165.04 L491.96,1168.14 L493.69,1171.31 L495.37,1174.58 L496.99,1177.96 L498.55,1181.48 L500.04,1185.12 L501.48,1188.88 L502.88,1192.72 L504.24,1196.63 L505.59,1200.58 L506.94,1204.55 L508.29,1208.51 L509.65,1212.45 L511.05,1216.34 L512.95,1215.66 L511.58,1211.78 L510.24,1207.85 L508.91,1203.88 L507.59,1199.90 L506.26,1195.94 L504.90,1192.00 L503.51,1188.12 L502.07,1184.32 L500.58,1180.62 L499.01,1177.04 L497.38,1173.59 L495.69,1170.26 L493.95,1167.03 L492.18,1163.89 L490.37,1160.81 L488.53,1157.78 L486.66,1154.79 L484.79,1151.82 L482.90,1148.85 L481.01,1145.86 L479.09,1142.85 L477.14,1139.85 L475.16,1136.87 L473.16,1133.92 L471.14,1130.98 L469.12,1128.07 L467.09,1125.19 L465.06,1122.34 L463.04,1119.52 L461.04,1116.74 L459.04,1114.00 L457.04,1111.30 L455.04,1108.63 L453.04,1105.99 L451.05,1103.38 L449.05,1100.79 L447.05,1098.23 L445.05,1095.69 L443.06,1093.16 L441.06,1090.65 L439.07,1088.15 L437.07,1085.67 L435.07,1083.21 L433.07,1080.77 L431.07,1078.35 L429.08,1075.96 L427.08,1073.58 L425.08,1071.22 L423.08,1068.88 L421.08,1066.56 L419.09,1064.26 L417.09,1061.97 L415.09,1059.69 L413.09,1057.44 L411.09,1055.20 L409.09,1052.99 L407.09,1050.81 L405.09,1048.65 L403.08,1046.53 L401.08,1044.45 L399.07,1042.40 L397.07,1040.39 L395.06,1038.42 L393.06,1036.48 L391.06,1034.57 L389.06,1032.68 L387.05,1030.82 L385.05,1028.97 L383.05,1027.14 L381.05,1025.33 L379.05,1023.53 L377.05,1021.75 L375.05,1019.99 L373.04,1018.25 L371.04,1016.53 L369.04,1014.83 L367.03,1013.15 L365.03,1011.48 L363.03,1009.84 L361.02,1008.22 L359.02,1006.62 L357.01,1005.05 L355.01,1003.49 L353.00,1001.96 L351.00,1000.45 L348.99,998.95 L346.99,997.47 L344.99,996.01 L342.99,994.56 L340.98,993.12 L338.96,991.68 L336.90,990.26 L334.83,988.84 L332.76,987.44 L330.71,986.06 L328.67,984.70 L326.67,983.37 L324.71,982.07 L322.81,980.79 L320.99,979.55 L319.19,978.32 L317.41,977.10 L315.66,975.88 L313.94,974.69 L312.26,973.53 L310.65,972.41 L309.10,971.34 L307.64,970.32 L306.28,969.38 L305.02,968.51 L303.89,967.74 L302.90,967.07 L302.03,966.47 L301.24,965.93 L300.51,965.44 L299.83,964.98 L299.16,964.53 L298.49,964.08 L297.78,963.60 L297.02,963.09 Z" fill="url(#lpC)" fill-opacity="0.3" filter="url(#b1_3)"/>
<path d="M294.48,966.86 L295.24,967.38 L295.96,967.85 L296.63,968.30 L297.30,968.75 L297.99,969.20 L298.71,969.68 L299.50,970.21 L300.37,970.80 L301.36,971.46 L302.48,972.22 L303.74,973.08 L305.10,974.01 L306.57,975.01 L308.12,976.07 L309.74,977.18 L311.42,978.34 L313.15,979.52 L314.92,980.73 L316.72,981.95 L318.53,983.17 L320.38,984.41 L322.30,985.69 L324.27,986.99 L326.28,988.31 L328.32,989.65 L330.38,991.01 L332.44,992.38 L334.49,993.77 L336.52,995.17 L338.53,996.57 L340.53,997.98 L342.52,999.41 L344.52,1000.85 L346.51,1002.31 L348.51,1003.78 L350.50,1005.27 L352.49,1006.77 L354.49,1008.30 L356.48,1009.84 L358.47,1011.41 L360.47,1013.00 L362.46,1014.62 L364.45,1016.25 L366.45,1017.91 L368.44,1019.58 L370.44,1021.27 L372.44,1022.99 L374.43,1024.72 L376.43,1026.48 L378.43,1028.25 L380.43,1030.04 L382.43,1031.85 L384.42,1033.67 L386.42,1035.51 L388.42,1037.36 L390.41,1039.25 L392.41,1041.15 L394.40,1043.09 L396.39,1045.07 L398.39,1047.07 L400.38,1049.12 L402.37,1051.21 L404.37,1053.33 L406.37,1055.48 L408.37,1057.66 L410.37,1059.87 L412.37,1062.10 L414.37,1064.36 L416.37,1066.63 L418.38,1068.91 L420.38,1071.21 L422.38,1073.52 L424.39,1075.86 L426.39,1078.21 L428.39,1080.59 L430.40,1082.99 L432.40,1085.40 L434.40,1087.84 L436.41,1090.30 L438.41,1092.77 L440.42,1095.27 L442.42,1097.77 L444.43,1100.30 L446.43,1102.84 L448.44,1105.40 L450.44,1107.98 L452.44,1110.60 L454.44,1113.24 L456.45,1115.92 L458.45,1118.63 L460.46,1121.39 L462.49,1124.18 L464.53,1127.01 L466.57,1129.86 L468.60,1132.75 L470.62,1135.65 L472.63,1138.58 L474.61,1141.53 L476.57,1144.49 L478.49,1147.46 L480.40,1150.44 L482.30,1153.40 L484.19,1156.35 L486.06,1159.31 L487.89,1162.30 L489.70,1165.32 L491.47,1168.41 L493.19,1171.57 L494.87,1174.83 L496.49,1178.19 L498.04,1181.69 L499.53,1185.32 L500.97,1189.06 L502.37,1192.90 L503.75,1196.80 L505.10,1200.74 L506.45,1204.71 L507.80,1208.68 L509.17,1212.62 L510.57,1216.51 L513.43,1215.49 L512.06,1211.61 L510.73,1207.68 L509.40,1203.72 L508.08,1199.74 L506.75,1195.77 L505.40,1191.82 L504.01,1187.94 L502.58,1184.12 L501.08,1180.40 L499.51,1176.81 L497.87,1173.35 L496.18,1170.00 L494.45,1166.76 L492.67,1163.60 L490.86,1160.52 L489.02,1157.48 L487.16,1154.48 L485.28,1151.50 L483.40,1148.53 L481.51,1145.54 L479.60,1142.52 L477.64,1139.52 L475.66,1136.54 L473.66,1133.57 L471.65,1130.63 L469.62,1127.71 L467.60,1124.83 L465.57,1121.97 L463.55,1119.15 L461.55,1116.37 L459.55,1113.62 L457.56,1110.91 L455.56,1108.24 L453.56,1105.59 L451.56,1102.98 L449.57,1100.39 L447.57,1097.82 L445.58,1095.27 L443.58,1092.74 L441.59,1090.23 L439.59,1087.72 L437.60,1085.24 L435.60,1082.78 L433.60,1080.33 L431.61,1077.91 L429.61,1075.51 L427.61,1073.12 L425.62,1070.76 L423.62,1068.41 L421.62,1066.09 L419.63,1063.78 L417.63,1061.49 L415.63,1059.21 L413.63,1056.95 L411.63,1054.71 L409.63,1052.49 L407.63,1050.30 L405.63,1048.14 L403.62,1046.02 L401.61,1043.93 L399.61,1041.87 L397.60,1039.86 L395.59,1037.88 L393.59,1035.93 L391.58,1034.01 L389.58,1032.12 L387.58,1030.25 L385.57,1028.40 L383.57,1026.57 L381.57,1024.75 L379.57,1022.94 L377.57,1021.16 L375.56,1019.39 L373.56,1017.65 L371.56,1015.92 L369.55,1014.21 L367.55,1012.53 L365.54,1010.86 L363.53,1009.22 L361.53,1007.59 L359.52,1005.98 L357.51,1004.40 L355.51,1002.84 L353.50,1001.30 L351.49,999.78 L349.49,998.28 L347.48,996.80 L345.48,995.33 L343.47,993.88 L341.47,992.43 L339.44,990.99 L337.38,989.56 L335.31,988.14 L333.24,986.73 L331.18,985.35 L329.14,983.99 L327.14,982.65 L325.19,981.35 L323.30,980.07 L321.47,978.83 L319.69,977.60 L317.91,976.37 L316.15,975.16 L314.43,973.97 L312.76,972.80 L311.15,971.68 L309.61,970.61 L308.15,969.59 L306.78,968.65 L305.52,967.78 L304.40,967.00 L303.41,966.33 L302.53,965.73 L301.74,965.19 L301.01,964.70 L300.33,964.24 L299.66,963.78 L298.99,963.33 L298.29,962.85 L297.52,962.34 Z" fill="url(#lpC)" fill-opacity="0.3" filter="url(#b1_5)"/>
<path d="M293.92,967.69 L294.69,968.20 L295.40,968.68 L296.08,969.13 L296.75,969.57 L297.43,970.03 L298.15,970.51 L298.94,971.03 L299.81,971.62 L300.80,972.28 L301.92,973.04 L303.18,973.89 L304.54,974.82 L306.01,975.82 L307.56,976.88 L309.18,977.99 L310.87,979.14 L312.60,980.32 L314.38,981.53 L316.17,982.74 L317.99,983.97 L319.84,985.21 L321.77,986.48 L323.74,987.78 L325.76,989.10 L327.80,990.44 L329.85,991.79 L331.91,993.16 L333.96,994.54 L335.99,995.93 L337.99,997.33 L339.98,998.74 L341.98,1000.16 L343.97,1001.60 L345.97,1003.05 L347.96,1004.51 L349.95,1005.99 L351.94,1007.49 L353.93,1009.01 L355.92,1010.55 L357.91,1012.11 L359.90,1013.70 L361.89,1015.31 L363.89,1016.93 L365.88,1018.58 L367.87,1020.25 L369.87,1021.94 L371.86,1023.65 L373.86,1025.37 L375.85,1027.12 L377.85,1028.89 L379.85,1030.68 L381.85,1032.48 L383.85,1034.29 L385.84,1036.13 L387.84,1037.98 L389.83,1039.85 L391.82,1041.76 L393.81,1043.69 L395.80,1045.65 L397.79,1047.65 L399.79,1049.69 L401.78,1051.77 L403.77,1053.88 L405.77,1056.03 L407.77,1058.21 L409.77,1060.41 L411.77,1062.64 L413.77,1064.88 L415.78,1067.15 L417.78,1069.43 L419.79,1071.72 L421.79,1074.03 L423.80,1076.36 L425.80,1078.71 L427.80,1081.08 L429.81,1083.47 L431.81,1085.88 L433.82,1088.31 L435.82,1090.77 L437.83,1093.24 L439.84,1095.73 L441.84,1098.23 L443.85,1100.75 L445.86,1103.28 L447.86,1105.84 L449.87,1108.42 L451.87,1111.03 L453.87,1113.66 L455.88,1116.34 L457.88,1119.04 L459.90,1121.80 L461.93,1124.58 L463.97,1127.41 L466.01,1130.26 L468.04,1133.13 L470.07,1136.04 L472.07,1138.96 L474.06,1141.89 L476.01,1144.85 L477.94,1147.82 L479.85,1150.79 L481.76,1153.75 L483.65,1156.69 L485.51,1159.65 L487.35,1162.62 L489.16,1165.64 L490.92,1168.71 L492.64,1171.86 L494.32,1175.10 L495.93,1178.45 L497.49,1181.92 L498.98,1185.54 L500.42,1189.27 L501.82,1193.09 L503.19,1196.99 L504.55,1200.93 L505.90,1204.89 L507.26,1208.86 L508.64,1212.81 L510.05,1216.69 L513.95,1215.31 L512.59,1211.43 L511.26,1207.50 L509.95,1203.53 L508.63,1199.55 L507.31,1195.58 L505.96,1191.63 L504.57,1187.73 L503.13,1183.90 L501.64,1180.17 L500.07,1176.55 L498.43,1173.07 L496.73,1169.71 L494.99,1166.46 L493.21,1163.29 L491.40,1160.19 L489.56,1157.15 L487.70,1154.14 L485.83,1151.16 L483.95,1148.18 L482.06,1145.18 L480.15,1142.16 L478.20,1139.15 L476.22,1136.16 L474.22,1133.19 L472.21,1130.24 L470.18,1127.32 L468.16,1124.43 L466.13,1121.57 L464.12,1118.74 L462.12,1115.96 L460.12,1113.20 L458.13,1110.49 L456.13,1107.81 L454.13,1105.16 L452.14,1102.53 L450.14,1099.94 L448.15,1097.37 L446.16,1094.82 L444.16,1092.28 L442.17,1089.76 L440.18,1087.25 L438.18,1084.77 L436.19,1082.30 L434.19,1079.85 L432.20,1077.42 L430.20,1075.01 L428.20,1072.62 L426.21,1070.25 L424.21,1067.90 L422.22,1065.57 L420.22,1063.26 L418.23,1060.97 L416.23,1058.68 L414.23,1056.42 L412.23,1054.17 L410.23,1051.95 L408.23,1049.75 L406.22,1047.58 L404.21,1045.45 L402.21,1043.35 L400.20,1041.29 L398.19,1039.26 L396.18,1037.28 L394.17,1035.32 L392.16,1033.40 L390.16,1031.50 L388.15,1029.62 L386.15,1027.77 L384.15,1025.93 L382.15,1024.11 L380.15,1022.30 L378.14,1020.51 L376.14,1018.73 L374.13,1016.98 L372.13,1015.25 L370.12,1013.54 L368.11,1011.85 L366.11,1010.17 L364.10,1008.52 L362.09,1006.89 L360.08,1005.27 L358.07,1003.69 L356.06,1002.12 L354.05,1000.58 L352.04,999.05 L350.03,997.55 L348.03,996.06 L346.02,994.58 L344.02,993.12 L342.01,991.67 L339.97,990.22 L337.91,988.78 L335.84,987.36 L333.76,985.95 L331.70,984.56 L329.67,983.20 L327.67,981.86 L325.72,980.55 L323.83,979.27 L322.01,978.03 L320.23,976.80 L318.46,975.58 L316.70,974.36 L314.99,973.16 L313.32,972.00 L311.70,970.87 L310.16,969.80 L308.70,968.78 L307.34,967.83 L306.08,966.96 L304.95,966.18 L303.96,965.50 L303.08,964.90 L302.29,964.36 L301.57,963.87 L300.88,963.41 L300.22,962.96 L299.54,962.50 L298.84,962.02 L298.08,961.51 Z" fill="url(#lpC)" fill-opacity="0.3" filter="url(#b1_8)"/>
<path d="M293.31,968.59 L294.08,969.10 L294.80,969.58 L295.48,970.03 L296.15,970.47 L296.83,970.92 L297.55,971.40 L298.34,971.92 L299.21,972.51 L300.20,973.17 L301.32,973.92 L302.57,974.77 L303.94,975.70 L305.41,976.70 L306.96,977.75 L308.58,978.86 L310.27,980.01 L312.01,981.19 L313.78,982.39 L315.58,983.61 L317.40,984.83 L319.26,986.07 L321.19,987.34 L323.17,988.64 L325.19,989.96 L327.23,991.29 L329.28,992.64 L331.34,994.01 L333.39,995.38 L335.41,996.76 L337.41,998.15 L339.40,999.55 L341.39,1000.97 L343.39,1002.40 L345.38,1003.85 L347.37,1005.30 L349.36,1006.78 L351.34,1008.27 L353.33,1009.78 L355.32,1011.32 L357.30,1012.87 L359.29,1014.45 L361.28,1016.05 L363.27,1017.67 L365.26,1019.32 L367.26,1020.98 L369.25,1022.66 L371.24,1024.36 L373.23,1026.08 L375.23,1027.82 L377.22,1029.59 L379.22,1031.37 L381.22,1033.16 L383.22,1034.97 L385.22,1036.80 L387.21,1038.64 L389.20,1040.51 L391.19,1042.41 L393.18,1044.33 L395.17,1046.29 L397.15,1048.28 L399.14,1050.31 L401.13,1052.38 L403.12,1054.48 L405.12,1056.62 L407.12,1058.79 L409.12,1060.99 L411.12,1063.21 L413.13,1065.45 L415.13,1067.71 L417.14,1069.98 L419.14,1072.27 L421.15,1074.58 L423.15,1076.90 L425.16,1079.25 L427.16,1081.61 L429.17,1084.00 L431.18,1086.40 L433.18,1088.83 L435.19,1091.28 L437.20,1093.74 L439.21,1096.23 L441.22,1098.73 L443.22,1101.24 L445.23,1103.77 L447.24,1106.32 L449.25,1108.90 L451.25,1111.50 L453.26,1114.13 L455.26,1116.79 L457.27,1119.49 L459.28,1122.24 L461.32,1125.02 L463.36,1127.84 L465.40,1130.68 L467.44,1133.56 L469.46,1136.45 L471.47,1139.36 L473.45,1142.29 L475.41,1145.24 L477.34,1148.20 L479.25,1151.17 L481.16,1154.12 L483.06,1157.07 L484.92,1160.01 L486.76,1162.98 L488.57,1165.98 L490.33,1169.04 L492.05,1172.17 L493.72,1175.40 L495.33,1178.72 L496.88,1182.18 L498.37,1185.78 L499.81,1189.49 L501.22,1193.31 L502.60,1197.19 L503.96,1201.13 L505.32,1205.09 L506.68,1209.06 L508.07,1213.01 L509.48,1216.90 L514.52,1215.10 L513.17,1211.22 L511.84,1207.30 L510.54,1203.34 L509.23,1199.35 L507.90,1195.37 L506.56,1191.41 L505.17,1187.51 L503.74,1183.66 L502.24,1179.91 L500.67,1176.28 L499.02,1172.78 L497.33,1169.40 L495.58,1166.13 L493.80,1162.95 L491.99,1159.84 L490.15,1156.78 L488.29,1153.77 L486.42,1150.78 L484.55,1147.80 L482.66,1144.80 L480.75,1141.77 L478.80,1138.76 L476.82,1135.75 L474.83,1132.77 L472.81,1129.82 L470.79,1126.89 L468.77,1123.99 L466.75,1121.13 L464.73,1118.30 L462.73,1115.51 L460.74,1112.75 L458.74,1110.03 L456.75,1107.34 L454.75,1104.68 L452.76,1102.05 L450.77,1099.45 L448.78,1096.88 L446.78,1094.32 L444.79,1091.78 L442.80,1089.26 L440.81,1086.74 L438.82,1084.25 L436.82,1081.78 L434.83,1079.32 L432.84,1076.89 L430.84,1074.47 L428.85,1072.08 L426.85,1069.70 L424.86,1067.35 L422.86,1065.02 L420.87,1062.70 L418.87,1060.40 L416.88,1058.11 L414.88,1055.83 L412.88,1053.58 L410.88,1051.35 L408.88,1049.15 L406.87,1046.97 L404.86,1044.83 L402.85,1042.72 L400.83,1040.65 L398.82,1038.62 L396.81,1036.63 L394.80,1034.66 L392.79,1032.73 L390.78,1030.83 L388.78,1028.94 L386.78,1027.08 L384.78,1025.24 L382.78,1023.41 L380.77,1021.60 L378.77,1019.80 L376.76,1018.02 L374.75,1016.26 L372.74,1014.52 L370.74,1012.80 L368.73,1011.11 L366.72,1009.43 L364.71,1007.77 L362.70,1006.13 L360.68,1004.51 L358.67,1002.91 L356.66,1001.34 L354.64,999.79 L352.63,998.26 L350.62,996.75 L348.61,995.25 L346.61,993.77 L344.60,992.31 L342.59,990.85 L340.55,989.39 L338.49,987.95 L336.41,986.51 L334.33,985.10 L332.27,983.71 L330.24,982.34 L328.24,981.00 L326.29,979.69 L324.41,978.41 L322.60,977.17 L320.82,975.94 L319.05,974.71 L317.30,973.49 L315.59,972.30 L313.92,971.13 L312.31,970.00 L310.77,968.92 L309.31,967.90 L307.94,966.95 L306.68,966.08 L305.56,965.30 L304.57,964.62 L303.69,964.01 L302.89,963.47 L302.17,962.98 L301.48,962.51 L300.82,962.06 L300.15,961.60 L299.45,961.13 L298.69,960.61 Z" fill="url(#lpC)" fill-opacity="0.3" filter="url(#b2_0)"/>
<path d="M292.66,969.55 L293.43,970.06 L294.15,970.54 L294.83,970.99 L295.51,971.43 L296.19,971.88 L296.91,972.36 L297.69,972.88 L298.57,973.46 L299.55,974.12 L300.67,974.87 L301.93,975.71 L303.29,976.64 L304.76,977.63 L306.31,978.69 L307.94,979.79 L309.63,980.94 L311.37,982.11 L313.15,983.32 L314.95,984.53 L316.77,985.75 L318.64,987.00 L320.58,988.27 L322.56,989.56 L324.58,990.87 L326.62,992.21 L328.67,993.55 L330.73,994.91 L332.77,996.28 L334.79,997.65 L336.78,999.03 L338.77,1000.43 L340.76,1001.84 L342.76,1003.26 L344.75,1004.70 L346.73,1006.15 L348.72,1007.62 L350.71,1009.11 L352.69,1010.61 L354.67,1012.14 L356.65,1013.69 L358.64,1015.26 L360.63,1016.85 L362.62,1018.47 L364.61,1020.10 L366.60,1021.75 L368.59,1023.43 L370.58,1025.12 L372.57,1026.84 L374.56,1028.57 L376.56,1030.33 L378.56,1032.11 L380.55,1033.90 L382.55,1035.70 L384.55,1037.52 L386.54,1039.36 L388.53,1041.22 L390.51,1043.10 L392.50,1045.02 L394.48,1046.96 L396.47,1048.95 L398.45,1050.97 L400.44,1053.03 L402.43,1055.13 L404.43,1057.26 L406.42,1059.42 L408.43,1061.61 L410.43,1063.82 L412.43,1066.06 L414.44,1068.32 L416.45,1070.58 L418.46,1072.86 L420.46,1075.16 L422.47,1077.48 L424.47,1079.82 L426.48,1082.18 L428.49,1084.56 L430.50,1086.96 L432.50,1089.38 L434.51,1091.82 L436.52,1094.29 L438.53,1096.77 L440.55,1099.26 L442.56,1101.77 L444.57,1104.29 L446.57,1106.83 L448.58,1109.40 L450.59,1112.00 L452.59,1114.62 L454.60,1117.28 L456.61,1119.97 L458.63,1122.71 L460.67,1125.49 L462.71,1128.30 L464.75,1131.14 L466.79,1134.01 L468.82,1136.89 L470.83,1139.80 L472.81,1142.72 L474.77,1145.65 L476.69,1148.61 L478.61,1151.58 L480.53,1154.53 L482.42,1157.46 L484.29,1160.40 L486.13,1163.36 L487.93,1166.35 L489.70,1169.39 L491.41,1172.51 L493.08,1175.71 L494.69,1179.02 L496.24,1182.45 L497.73,1186.03 L499.17,1189.73 L500.58,1193.53 L501.96,1197.41 L503.32,1201.34 L504.69,1205.30 L506.06,1209.27 L507.46,1213.22 L508.87,1217.11 L515.13,1214.89 L513.78,1211.01 L512.47,1207.09 L511.16,1203.12 L509.86,1199.14 L508.54,1195.15 L507.20,1191.19 L505.82,1187.27 L504.39,1183.41 L502.89,1179.64 L501.31,1175.98 L499.66,1172.46 L497.96,1169.07 L496.22,1165.78 L494.43,1162.58 L492.62,1159.46 L490.78,1156.39 L488.92,1153.37 L487.05,1150.38 L485.18,1147.39 L483.31,1144.39 L481.40,1141.36 L479.45,1138.33 L477.47,1135.32 L475.47,1132.33 L473.46,1129.37 L471.44,1126.43 L469.42,1123.53 L467.40,1120.66 L465.39,1117.83 L463.39,1115.03 L461.40,1112.26 L459.41,1109.53 L457.41,1106.84 L455.42,1104.17 L453.43,1101.54 L451.43,1098.93 L449.44,1096.35 L447.45,1093.79 L445.47,1091.25 L443.48,1088.71 L441.49,1086.20 L439.50,1083.70 L437.50,1081.22 L435.51,1078.76 L433.52,1076.32 L431.53,1073.90 L429.53,1071.50 L427.54,1069.12 L425.54,1066.76 L423.55,1064.42 L421.56,1062.10 L419.57,1059.79 L417.57,1057.49 L415.57,1055.21 L413.58,1052.95 L411.57,1050.72 L409.57,1048.51 L407.56,1046.32 L405.55,1044.17 L403.53,1042.05 L401.52,1039.97 L399.50,1037.93 L397.49,1035.93 L395.47,1033.96 L393.46,1032.02 L391.45,1030.11 L389.45,1028.22 L387.45,1026.35 L385.44,1024.50 L383.44,1022.67 L381.44,1020.85 L379.43,1019.04 L377.42,1017.26 L375.41,1015.49 L373.40,1013.75 L371.39,1012.02 L369.38,1010.31 L367.37,1008.63 L365.36,1006.96 L363.35,1005.31 L361.33,1003.69 L359.31,1002.08 L357.29,1000.50 L355.28,998.95 L353.27,997.41 L351.25,995.89 L349.24,994.39 L347.24,992.90 L345.23,991.43 L343.22,989.97 L341.17,988.51 L339.10,987.05 L337.02,985.61 L334.94,984.19 L332.88,982.79 L330.85,981.42 L328.85,980.08 L326.91,978.77 L325.03,977.49 L323.23,976.25 L321.45,975.02 L319.68,973.79 L317.94,972.57 L316.23,971.37 L314.56,970.20 L312.95,969.07 L311.41,967.99 L309.95,966.97 L308.59,966.01 L307.33,965.13 L306.20,964.35 L305.21,963.67 L304.33,963.06 L303.54,962.52 L302.81,962.02 L302.13,961.55 L301.46,961.10 L300.79,960.64 L300.09,960.17 L299.34,959.65 Z" fill="url(#lpC)" fill-opacity="0.3" filter="url(#b2_3)"/>
<path d="M291.98,970.57 L292.75,971.08 L293.47,971.55 L294.15,972.00 L294.82,972.44 L295.51,972.89 L296.23,973.37 L297.01,973.89 L297.88,974.46 L298.87,975.12 L299.99,975.87 L301.24,976.71 L302.61,977.63 L304.08,978.62 L305.63,979.67 L307.26,980.78 L308.95,981.92 L310.69,983.10 L312.48,984.29 L314.28,985.51 L316.11,986.73 L317.99,987.97 L319.93,989.24 L321.91,990.54 L323.93,991.85 L325.98,993.17 L328.03,994.51 L330.08,995.87 L332.12,997.23 L334.14,998.59 L336.12,999.96 L338.11,1001.35 L340.10,1002.76 L342.09,1004.18 L344.08,1005.61 L346.06,1007.05 L348.05,1008.51 L350.03,1009.99 L352.01,1011.49 L353.99,1013.00 L355.97,1014.55 L357.95,1016.11 L359.94,1017.70 L361.92,1019.30 L363.91,1020.93 L365.90,1022.58 L367.88,1024.25 L369.87,1025.93 L371.86,1027.64 L373.85,1029.37 L375.85,1031.12 L377.85,1032.89 L379.85,1034.67 L381.84,1036.47 L383.83,1038.28 L385.82,1040.11 L387.81,1041.96 L389.80,1043.84 L391.78,1045.75 L393.76,1047.68 L395.74,1049.65 L397.72,1051.67 L399.71,1053.72 L401.70,1055.81 L403.69,1057.93 L405.69,1060.08 L407.69,1062.27 L409.69,1064.48 L411.70,1066.71 L413.71,1068.95 L415.72,1071.22 L417.73,1073.49 L419.74,1075.78 L421.74,1078.10 L423.75,1080.43 L425.76,1082.79 L427.77,1085.16 L429.78,1087.55 L431.78,1089.97 L433.79,1092.40 L435.81,1094.86 L437.82,1097.33 L439.84,1099.82 L441.85,1102.32 L443.86,1104.84 L445.87,1107.38 L447.88,1109.94 L449.89,1112.53 L451.89,1115.14 L453.90,1117.79 L455.91,1120.48 L457.93,1123.22 L459.97,1125.99 L462.02,1128.79 L464.06,1131.63 L466.10,1134.48 L468.13,1137.36 L470.14,1140.26 L472.13,1143.17 L474.08,1146.09 L476.02,1149.04 L477.94,1152.01 L479.86,1154.95 L481.76,1157.88 L483.63,1160.81 L485.47,1163.76 L487.27,1166.73 L489.03,1169.76 L490.74,1172.86 L492.40,1176.04 L494.01,1179.33 L495.55,1182.74 L497.04,1186.30 L498.49,1189.98 L499.89,1193.77 L501.28,1197.64 L502.65,1201.57 L504.02,1205.53 L505.40,1209.50 L506.81,1213.45 L508.23,1217.34 L515.77,1214.66 L514.43,1210.78 L513.12,1206.86 L511.83,1202.90 L510.53,1198.91 L509.22,1194.92 L507.88,1190.95 L506.50,1187.01 L505.07,1183.14 L503.57,1179.35 L501.99,1175.67 L500.34,1172.13 L498.64,1168.71 L496.89,1165.41 L495.10,1162.19 L493.28,1159.06 L491.44,1155.98 L489.59,1152.95 L487.72,1149.95 L485.86,1146.96 L483.98,1143.96 L482.08,1140.92 L480.13,1137.88 L478.15,1134.86 L476.16,1131.86 L474.15,1128.89 L472.13,1125.95 L470.11,1123.04 L468.09,1120.16 L466.08,1117.32 L464.09,1114.52 L462.10,1111.75 L460.11,1109.01 L458.11,1106.31 L456.12,1103.64 L454.13,1101.00 L452.14,1098.38 L450.15,1095.79 L448.16,1093.23 L446.18,1090.68 L444.19,1088.14 L442.21,1085.62 L440.22,1083.11 L438.22,1080.63 L436.23,1078.16 L434.24,1075.71 L432.25,1073.29 L430.26,1070.88 L428.26,1068.50 L426.27,1066.13 L424.28,1063.78 L422.29,1061.46 L420.30,1059.14 L418.31,1056.84 L416.31,1054.56 L414.31,1052.29 L412.31,1050.05 L410.30,1047.83 L408.29,1045.63 L406.28,1043.47 L404.26,1041.35 L402.24,1039.26 L400.22,1037.21 L398.20,1035.19 L396.19,1033.21 L394.18,1031.26 L392.17,1029.34 L390.16,1027.45 L388.15,1025.58 L386.15,1023.72 L384.15,1021.88 L382.15,1020.05 L380.14,1018.24 L378.13,1016.45 L376.12,1014.67 L374.10,1012.92 L372.09,1011.19 L370.08,1009.48 L368.06,1007.78 L366.05,1006.11 L364.03,1004.45 L362.01,1002.82 L359.99,1001.21 L357.97,999.62 L355.95,998.06 L353.94,996.51 L351.92,994.99 L349.91,993.48 L347.90,991.99 L345.89,990.51 L343.88,989.04 L341.83,987.57 L339.75,986.10 L337.67,984.66 L335.59,983.23 L333.52,981.83 L331.49,980.45 L329.50,979.10 L327.56,977.79 L325.69,976.51 L323.89,975.27 L322.12,974.04 L320.36,972.81 L318.61,971.58 L316.90,970.38 L315.24,969.21 L313.63,968.08 L312.10,967.00 L310.64,965.97 L309.27,965.01 L308.01,964.13 L306.88,963.35 L305.89,962.66 L305.01,962.05 L304.22,961.51 L303.49,961.01 L302.81,960.54 L302.14,960.08 L301.47,959.63 L300.78,959.15 L300.02,958.63 Z" fill="url(#lpC)" fill-opacity="0.3" filter="url(#b2_5)"/>
</g>
<g clip-path="url(#cpABc)">
<rect x="609.60" y="739.00" width="306.40" height="475.00" fill="#030303" stroke="none" stroke-width="0"/>
<rect x="609.60" y="830.00" width="306.40" height="155.00" fill="url(#exC)" stroke="none" stroke-width="0" mask="url(#exCmask)"/>
<path d="M716.18,1220.09 L717.67,1217.10 L719.15,1214.14 L720.62,1211.18 L722.08,1208.23 L723.55,1205.28 L725.03,1202.31 L726.53,1199.31 L728.05,1196.28 L729.61,1193.22 L731.20,1190.10 L732.80,1187.01 L734.38,1184.00 L735.96,1181.01 L737.56,1178.01 L739.19,1174.95 L740.86,1171.78 L742.60,1168.46 L744.41,1164.95 L746.32,1161.20 L748.32,1157.16 L750.49,1152.69 L752.83,1147.77 L755.29,1142.51 L757.84,1137.03 L760.43,1131.45 L763.02,1125.89 L765.57,1120.47 L768.03,1115.32 L770.37,1110.54 L772.53,1106.27 L774.53,1102.47 L776.40,1099.00 L778.18,1095.81 L779.88,1092.86 L781.52,1090.10 L783.13,1087.47 L784.72,1084.94 L786.32,1082.45 L787.95,1079.96 L789.63,1077.41 L791.31,1074.89 L792.96,1072.49 L794.59,1070.18 L796.21,1067.94 L797.84,1065.74 L799.50,1063.56 L801.20,1061.37 L802.95,1059.16 L804.77,1056.90 L806.68,1054.56 L808.69,1052.12 L810.78,1049.62 L812.94,1047.06 L815.16,1044.47 L817.41,1041.88 L819.69,1039.31 L821.98,1036.79 L824.26,1034.34 L826.52,1031.98 L828.74,1029.74 L830.94,1027.59 L833.14,1025.50 L835.34,1023.47 L837.53,1021.50 L839.73,1019.60 L841.93,1017.75 L844.12,1015.96 L846.32,1014.23 L848.51,1012.57 L850.70,1010.96 L852.89,1009.42 L855.07,1007.96 L857.26,1006.56 L859.45,1005.21 L861.63,1003.93 L863.82,1002.69 L866.01,1001.51 L868.20,1000.36 L870.39,999.26 L872.58,998.19 L874.77,997.16 L876.98,996.19 L879.21,995.26 L881.44,994.38 L883.67,993.54 L885.89,992.74 L888.08,991.98 L890.25,991.25 L892.37,990.54 L894.45,989.87 L896.48,989.24 L898.51,988.64 L900.53,988.09 L902.53,987.57 L904.49,987.08 L906.40,986.62 L908.26,986.18 L910.05,985.77 L911.75,985.38 L913.36,985.00 L914.83,984.66 L916.19,984.36 L917.44,984.10 L918.62,983.86 L919.74,983.64 L920.84,983.44 L921.92,983.23 L923.02,983.03 L924.15,982.81 L925.32,982.58 L924.68,979.42 L923.52,979.67 L922.41,979.89 L921.32,980.11 L920.23,980.32 L919.13,980.54 L917.99,980.78 L916.79,981.03 L915.51,981.32 L914.13,981.64 L912.64,982.00 L911.04,982.39 L909.35,982.80 L907.56,983.23 L905.69,983.69 L903.76,984.17 L901.78,984.69 L899.75,985.24 L897.70,985.83 L895.63,986.46 L893.55,987.13 L891.47,987.83 L889.34,988.56 L887.16,989.32 L884.94,990.12 L882.70,990.96 L880.44,991.83 L878.18,992.75 L875.91,993.72 L873.66,994.74 L871.42,995.81 L869.21,996.92 L867.00,998.07 L864.79,999.25 L862.58,1000.48 L860.37,1001.76 L858.15,1003.09 L855.94,1004.48 L853.73,1005.93 L851.51,1007.45 L849.30,1009.04 L847.09,1010.69 L844.88,1012.41 L842.68,1014.18 L840.47,1016.01 L838.27,1017.90 L836.07,1019.86 L833.86,1021.87 L831.66,1023.94 L829.46,1026.07 L827.26,1028.26 L825.04,1030.55 L822.78,1032.96 L820.51,1035.45 L818.23,1038.01 L815.96,1040.62 L813.72,1043.24 L811.52,1045.86 L809.38,1048.45 L807.30,1050.98 L805.32,1053.44 L803.42,1055.81 L801.61,1058.10 L799.87,1060.34 L798.18,1062.55 L796.53,1064.76 L794.91,1066.99 L793.30,1069.27 L791.68,1071.61 L790.04,1074.04 L788.37,1076.59 L786.72,1079.16 L785.11,1081.68 L783.52,1084.19 L781.95,1086.75 L780.35,1089.40 L778.73,1092.20 L777.05,1095.18 L775.29,1098.39 L773.44,1101.90 L771.47,1105.73 L769.34,1110.04 L767.04,1114.84 L764.62,1120.03 L762.11,1125.47 L759.57,1131.05 L757.02,1136.65 L754.52,1142.15 L752.10,1147.43 L749.80,1152.37 L747.68,1156.84 L745.70,1160.89 L743.83,1164.65 L742.04,1168.17 L740.34,1171.50 L738.69,1174.68 L737.08,1177.75 L735.50,1180.77 L733.94,1183.76 L732.38,1186.79 L730.80,1189.90 L729.23,1193.03 L727.69,1196.10 L726.17,1199.13 L724.68,1202.13 L723.20,1205.10 L721.72,1208.05 L720.26,1211.01 L718.79,1213.96 L717.31,1216.92 L715.82,1219.91 Z" fill="url(#lpC2)" fill-opacity="0.3" filter="url(#b0_8)"/>
<path d="M716.31,1220.15 L717.81,1217.17 L719.31,1214.22 L720.80,1211.27 L722.29,1208.33 L723.78,1205.39 L725.28,1202.43 L726.80,1199.45 L728.35,1196.43 L729.92,1193.38 L731.53,1190.27 L733.14,1187.19 L734.74,1184.18 L736.34,1181.21 L737.96,1178.22 L739.60,1175.16 L741.30,1172.00 L743.06,1168.69 L744.89,1165.19 L746.82,1161.45 L748.86,1157.42 L751.06,1152.96 L753.43,1148.05 L755.93,1142.80 L758.51,1137.34 L761.14,1131.78 L763.77,1126.24 L766.36,1120.84 L768.85,1115.71 L771.21,1110.96 L773.40,1106.71 L775.42,1102.94 L777.32,1099.49 L779.11,1096.33 L780.82,1093.41 L782.48,1090.67 L784.10,1088.07 L785.70,1085.56 L787.31,1083.09 L788.96,1080.61 L790.65,1078.08 L792.35,1075.59 L794.01,1073.21 L795.64,1070.92 L797.27,1068.71 L798.91,1066.53 L800.58,1064.38 L802.28,1062.22 L804.05,1060.03 L805.88,1057.79 L807.81,1055.47 L809.83,1053.06 L811.93,1050.57 L814.11,1048.04 L816.34,1045.48 L818.60,1042.92 L820.89,1040.38 L823.19,1037.89 L825.47,1035.47 L827.73,1033.15 L829.95,1030.95 L832.15,1028.83 L834.35,1026.78 L836.54,1024.79 L838.74,1022.86 L840.93,1020.98 L843.12,1019.17 L845.30,1017.42 L847.49,1015.73 L849.67,1014.11 L851.84,1012.54 L854.01,1011.04 L856.17,1009.62 L858.34,1008.26 L860.50,1006.95 L862.67,1005.71 L864.84,1004.51 L867.00,1003.36 L869.18,1002.25 L871.35,1001.17 L873.52,1000.13 L875.68,999.15 L877.86,998.21 L880.06,997.32 L882.26,996.47 L884.47,995.67 L886.66,994.89 L888.84,994.16 L891.00,993.45 L893.12,992.77 L895.17,992.12 L897.18,991.51 L899.18,990.95 L901.17,990.42 L903.14,989.92 L905.09,989.46 L906.99,989.02 L908.84,988.60 L910.62,988.21 L912.33,987.83 L913.94,987.47 L915.41,987.14 L916.74,986.86 L917.97,986.61 L919.13,986.39 L920.24,986.19 L921.33,985.99 L922.42,985.80 L923.52,985.60 L924.67,985.39 L925.85,985.16 L924.15,976.84 L923.00,977.09 L921.90,977.32 L920.82,977.55 L919.74,977.77 L918.63,978.00 L917.48,978.25 L916.26,978.52 L914.96,978.82 L913.56,979.16 L912.06,979.53 L910.46,979.94 L908.77,980.36 L906.98,980.81 L905.11,981.29 L903.16,981.79 L901.16,982.33 L899.11,982.91 L897.03,983.52 L894.92,984.18 L892.83,984.88 L890.73,985.61 L888.59,986.36 L886.40,987.15 L884.17,987.97 L881.91,988.83 L879.63,989.74 L877.33,990.70 L875.04,991.70 L872.75,992.76 L870.48,993.87 L868.25,995.01 L866.02,996.19 L863.80,997.40 L861.56,998.67 L859.33,999.98 L857.10,1001.35 L854.86,1002.78 L852.63,1004.27 L850.39,1005.83 L848.16,1007.46 L845.93,1009.15 L843.71,1010.91 L841.50,1012.72 L839.28,1014.59 L837.07,1016.52 L834.86,1018.50 L832.66,1020.55 L830.45,1022.66 L828.25,1024.83 L826.05,1027.05 L823.82,1029.38 L821.57,1031.82 L819.30,1034.35 L817.03,1036.95 L814.77,1039.58 L812.54,1042.23 L810.36,1044.88 L808.23,1047.49 L806.17,1050.05 L804.19,1052.53 L802.31,1054.92 L800.51,1057.23 L798.78,1059.50 L797.10,1061.73 L795.46,1063.97 L793.85,1066.22 L792.24,1068.52 L790.63,1070.89 L789.01,1073.35 L787.35,1075.92 L785.71,1078.50 L784.11,1081.04 L782.54,1083.57 L780.98,1086.15 L779.40,1088.83 L777.79,1091.65 L776.12,1094.66 L774.38,1097.90 L772.55,1101.42 L770.60,1105.29 L768.49,1109.62 L766.22,1114.45 L763.83,1119.66 L761.37,1125.12 L758.86,1130.72 L756.35,1136.34 L753.89,1141.86 L751.50,1147.15 L749.24,1152.10 L747.14,1156.58 L745.20,1160.64 L743.35,1164.41 L741.59,1167.94 L739.90,1171.28 L738.27,1174.46 L736.68,1177.54 L735.12,1180.57 L733.58,1183.58 L732.03,1186.62 L730.47,1189.73 L728.92,1192.87 L727.40,1195.95 L725.90,1198.99 L724.43,1202.00 L722.97,1204.99 L721.52,1207.95 L720.08,1210.92 L718.63,1213.88 L717.17,1216.85 L715.69,1219.85 Z" fill="url(#lpC2)" fill-opacity="0.3" filter="url(#b2_3)"/>
<path d="M716.54,1220.27 L718.06,1217.30 L719.57,1214.35 L721.07,1211.41 L722.58,1208.48 L724.09,1205.54 L725.61,1202.59 L727.15,1199.62 L728.71,1196.61 L730.30,1193.57 L731.93,1190.48 L733.57,1187.41 L735.19,1184.42 L736.81,1181.45 L738.44,1178.47 L740.11,1175.43 L741.83,1172.28 L743.62,1168.98 L745.48,1165.49 L747.44,1161.75 L749.51,1157.74 L751.75,1153.29 L754.16,1148.39 L756.71,1143.16 L759.34,1137.72 L762.01,1132.18 L764.69,1126.66 L767.32,1121.29 L769.86,1116.19 L772.26,1111.47 L774.47,1107.26 L776.52,1103.52 L778.44,1100.10 L780.25,1096.97 L781.98,1094.08 L783.65,1091.37 L785.29,1088.80 L786.91,1086.32 L788.54,1083.87 L790.20,1081.42 L791.91,1078.91 L793.63,1076.44 L795.30,1074.10 L796.94,1071.84 L798.58,1069.66 L800.23,1067.51 L801.91,1065.39 L803.62,1063.26 L805.40,1061.10 L807.25,1058.88 L809.19,1056.59 L811.23,1054.21 L813.35,1051.75 L815.54,1049.25 L817.79,1046.72 L820.07,1044.19 L822.37,1041.69 L824.67,1039.24 L826.96,1036.86 L829.22,1034.59 L831.44,1032.43 L833.64,1030.36 L835.84,1028.35 L838.03,1026.41 L840.22,1024.52 L842.40,1022.69 L844.58,1020.93 L846.76,1019.22 L848.93,1017.58 L851.10,1016.00 L853.25,1014.48 L855.39,1013.04 L857.53,1011.66 L859.67,1010.35 L861.80,1009.10 L863.94,1007.89 L866.09,1006.74 L868.23,1005.63 L870.38,1004.56 L872.54,1003.52 L874.68,1002.53 L876.80,1001.59 L878.94,1000.70 L881.10,999.85 L883.27,999.05 L885.45,998.28 L887.62,997.54 L889.78,996.83 L891.92,996.16 L894.03,995.51 L896.07,994.88 L898.04,994.31 L900.00,993.78 L901.95,993.29 L903.90,992.82 L905.82,992.39 L907.70,991.97 L909.54,991.58 L911.33,991.20 L913.05,990.84 L914.67,990.50 L916.12,990.19 L917.42,989.93 L918.63,989.71 L919.76,989.50 L920.86,989.31 L921.94,989.13 L923.03,988.95 L924.14,988.76 L925.30,988.56 L926.50,988.35 L923.50,973.65 L922.36,973.92 L921.28,974.16 L920.22,974.39 L919.13,974.63 L918.01,974.88 L916.84,975.14 L915.60,975.43 L914.28,975.75 L912.85,976.10 L911.33,976.50 L909.75,976.92 L908.06,977.36 L906.27,977.83 L904.39,978.33 L902.43,978.86 L900.41,979.43 L898.33,980.04 L896.21,980.69 L894.06,981.38 L891.93,982.12 L889.81,982.87 L887.66,983.65 L885.46,984.47 L883.21,985.32 L880.93,986.22 L878.62,987.17 L876.29,988.16 L873.96,989.21 L871.62,990.32 L869.32,991.47 L867.06,992.66 L864.82,993.87 L862.57,995.13 L860.31,996.43 L858.06,997.79 L855.80,999.21 L853.53,1000.68 L851.27,1002.23 L849.01,1003.84 L846.75,1005.52 L844.50,1007.26 L842.27,1009.06 L840.04,1010.92 L837.82,1012.83 L835.60,1014.81 L833.38,1016.84 L831.17,1018.93 L828.96,1021.09 L826.76,1023.30 L824.56,1025.57 L822.33,1027.94 L820.08,1030.43 L817.81,1033.00 L815.55,1035.64 L813.31,1038.31 L811.09,1040.99 L808.92,1043.67 L806.81,1046.31 L804.77,1048.90 L802.81,1051.41 L800.95,1053.82 L799.16,1056.16 L797.44,1058.46 L795.77,1060.72 L794.14,1062.99 L792.54,1065.27 L790.94,1067.60 L789.34,1070.00 L787.73,1072.49 L786.09,1075.09 L784.46,1077.70 L782.89,1080.25 L781.33,1082.81 L779.79,1085.42 L778.22,1088.13 L776.63,1090.98 L774.98,1094.02 L773.26,1097.29 L771.45,1100.85 L769.53,1104.74 L767.45,1109.11 L765.22,1113.97 L762.87,1119.21 L760.45,1124.70 L757.99,1130.32 L755.53,1135.96 L753.11,1141.50 L750.77,1146.81 L748.55,1151.77 L746.49,1156.26 L744.58,1160.33 L742.76,1164.11 L741.03,1167.65 L739.37,1171.00 L737.76,1174.19 L736.20,1177.29 L734.66,1180.32 L733.13,1183.34 L731.61,1186.40 L730.07,1189.52 L728.53,1192.67 L727.03,1195.77 L725.56,1198.82 L724.10,1201.84 L722.66,1204.83 L721.23,1207.81 L719.80,1210.78 L718.37,1213.75 L716.92,1216.73 L715.46,1219.73 Z" fill="url(#lpC2)" fill-opacity="0.3" filter="url(#b3_7)"/>
<path d="M716.81,1220.41 L718.34,1217.44 L719.87,1214.50 L721.39,1211.57 L722.91,1208.64 L724.44,1205.72 L725.98,1202.78 L727.54,1199.82 L729.13,1196.82 L730.74,1193.79 L732.40,1190.71 L734.05,1187.66 L735.69,1184.68 L737.34,1181.73 L739.00,1178.77 L740.70,1175.74 L742.44,1172.60 L744.26,1169.31 L746.15,1165.83 L748.15,1162.11 L750.26,1158.10 L752.54,1153.67 L755.00,1148.78 L757.60,1143.57 L760.28,1138.15 L763.01,1132.64 L765.74,1127.15 L768.42,1121.81 L771.01,1116.74 L773.45,1112.06 L775.70,1107.89 L777.78,1104.18 L779.72,1100.80 L781.56,1097.70 L783.31,1094.85 L785.00,1092.17 L786.65,1089.64 L788.29,1087.19 L789.94,1084.77 L791.62,1082.34 L793.35,1079.86 L795.09,1077.42 L796.77,1075.11 L798.43,1072.89 L800.08,1070.74 L801.74,1068.64 L803.43,1066.55 L805.16,1064.45 L806.94,1062.32 L808.81,1060.14 L810.77,1057.88 L812.83,1055.52 L814.97,1053.10 L817.18,1050.63 L819.45,1048.14 L821.74,1045.65 L824.06,1043.19 L826.37,1040.79 L828.67,1038.46 L830.93,1036.24 L833.15,1034.13 L835.34,1032.12 L837.54,1030.16 L839.73,1028.26 L841.91,1026.42 L844.09,1024.65 L846.26,1022.93 L848.43,1021.28 L850.58,1019.69 L852.73,1018.16 L854.86,1016.70 L856.98,1015.32 L859.08,1014.00 L861.19,1012.75 L863.29,1011.55 L865.40,1010.40 L867.52,1009.30 L869.63,1008.24 L871.76,1007.21 L873.89,1006.22 L876.01,1005.27 L878.09,1004.38 L880.17,1003.55 L882.29,1002.75 L884.42,1001.99 L886.57,1001.26 L888.71,1000.57 L890.85,999.90 L892.97,999.26 L895.07,998.64 L897.10,998.05 L899.03,997.52 L900.94,997.03 L902.85,996.58 L904.76,996.15 L906.66,995.74 L908.53,995.35 L910.36,994.99 L912.14,994.64 L913.87,994.30 L915.49,993.97 L916.93,993.69 L918.20,993.45 L919.38,993.25 L920.49,993.06 L921.57,992.89 L922.64,992.73 L923.72,992.56 L924.85,992.38 L926.03,992.19 L927.25,991.99 L922.75,970.01 L921.63,970.29 L920.58,970.54 L919.52,970.78 L918.44,971.03 L917.31,971.30 L916.12,971.58 L914.85,971.88 L913.50,972.23 L912.04,972.61 L910.51,973.03 L908.93,973.47 L907.25,973.93 L905.46,974.42 L903.57,974.95 L901.59,975.51 L899.54,976.11 L897.43,976.75 L895.27,977.44 L893.07,978.17 L890.90,978.95 L888.77,979.74 L886.61,980.55 L884.39,981.40 L882.12,982.30 L879.81,983.24 L877.47,984.22 L875.10,985.27 L872.72,986.36 L870.34,987.52 L867.99,988.73 L865.71,989.96 L863.44,991.22 L861.17,992.52 L858.88,993.88 L856.60,995.29 L854.31,996.76 L852.01,998.29 L849.72,999.89 L847.42,1001.56 L845.14,1003.30 L842.87,1005.10 L840.62,1006.95 L838.37,1008.86 L836.14,1010.83 L833.91,1012.85 L831.69,1014.94 L829.47,1017.08 L827.26,1019.28 L825.06,1021.54 L822.85,1023.87 L820.62,1026.30 L818.37,1028.84 L816.11,1031.46 L813.86,1034.14 L811.63,1036.85 L809.43,1039.57 L807.28,1042.29 L805.19,1044.97 L803.17,1047.59 L801.23,1050.12 L799.38,1052.57 L797.62,1054.94 L795.91,1057.26 L794.25,1059.56 L792.63,1061.86 L791.04,1064.18 L789.46,1066.55 L787.87,1068.98 L786.27,1071.51 L784.65,1074.14 L783.04,1076.77 L781.49,1079.36 L779.95,1081.94 L778.42,1084.59 L776.87,1087.33 L775.30,1090.21 L773.67,1093.28 L771.97,1096.59 L770.19,1100.18 L768.30,1104.11 L766.26,1108.52 L764.06,1113.42 L761.77,1118.69 L759.39,1124.21 L756.99,1129.86 L754.58,1135.53 L752.21,1141.09 L749.92,1146.42 L747.75,1151.39 L745.74,1155.90 L743.87,1159.98 L742.09,1163.77 L740.39,1167.32 L738.76,1170.68 L737.18,1173.89 L735.64,1176.99 L734.13,1180.04 L732.63,1183.08 L731.12,1186.15 L729.60,1189.29 L728.09,1192.45 L726.62,1195.56 L725.16,1198.62 L723.73,1201.65 L722.31,1204.66 L720.90,1207.64 L719.49,1210.62 L718.07,1213.60 L716.64,1216.59 L715.19,1219.59 Z" fill="url(#lpC2)" fill-opacity="0.3" filter="url(#b5_2)"/>
<path d="M717.11,1220.56 L718.65,1217.59 L720.20,1214.66 L721.74,1211.74 L723.28,1208.83 L724.83,1205.91 L726.40,1202.98 L727.98,1200.04 L729.59,1197.06 L731.23,1194.04 L732.91,1190.97 L734.59,1187.94 L736.26,1184.98 L737.93,1182.04 L739.62,1179.09 L741.34,1176.08 L743.12,1172.95 L744.97,1169.68 L746.90,1166.21 L748.94,1162.50 L751.09,1158.50 L753.42,1154.08 L755.93,1149.22 L758.59,1144.03 L761.33,1138.63 L764.12,1133.15 L766.91,1127.69 L769.64,1122.38 L772.28,1117.35 L774.77,1112.71 L777.06,1108.58 L779.17,1104.91 L781.14,1101.57 L783.01,1098.52 L784.78,1095.70 L786.49,1093.06 L788.16,1090.56 L789.82,1088.15 L791.48,1085.77 L793.19,1083.36 L794.95,1080.91 L796.70,1078.51 L798.40,1076.23 L800.08,1074.06 L801.74,1071.95 L803.41,1069.88 L805.11,1067.83 L806.85,1065.77 L808.66,1063.68 L810.54,1061.53 L812.52,1059.30 L814.60,1056.98 L816.77,1054.59 L819.00,1052.16 L821.28,1049.71 L823.60,1047.27 L825.93,1044.85 L828.26,1042.50 L830.56,1040.22 L832.82,1038.06 L835.04,1036.02 L837.23,1034.06 L839.42,1032.15 L841.61,1030.31 L843.79,1028.53 L845.96,1026.81 L848.12,1025.15 L850.27,1023.56 L852.41,1022.03 L854.54,1020.56 L856.65,1019.16 L858.73,1017.84 L860.80,1016.59 L862.87,1015.40 L864.94,1014.26 L867.02,1013.17 L869.10,1012.12 L871.19,1011.12 L873.29,1010.14 L875.40,1009.20 L877.48,1008.30 L879.51,1007.47 L881.54,1006.70 L883.61,1005.96 L885.70,1005.25 L887.80,1004.57 L889.92,1003.92 L892.03,1003.29 L894.14,1002.69 L896.23,1002.10 L898.24,1001.55 L900.12,1001.07 L901.98,1000.63 L903.85,1000.21 L905.72,999.82 L907.59,999.45 L909.43,999.10 L911.25,998.76 L913.03,998.43 L914.77,998.11 L916.40,997.81 L917.82,997.55 L919.06,997.35 L920.21,997.16 L921.29,997.00 L922.35,996.85 L923.40,996.70 L924.49,996.55 L925.63,996.39 L926.84,996.21 L928.07,996.02 L921.93,965.98 L920.82,966.27 L919.79,966.53 L918.75,966.79 L917.67,967.06 L916.53,967.34 L915.32,967.64 L914.02,967.97 L912.64,968.33 L911.15,968.74 L909.60,969.19 L908.02,969.65 L906.36,970.13 L904.57,970.65 L902.66,971.21 L900.66,971.80 L898.58,972.44 L896.43,973.12 L894.23,973.85 L891.98,974.63 L889.76,975.45 L887.61,976.27 L885.44,977.12 L883.21,978.01 L880.91,978.95 L878.57,979.93 L876.19,980.97 L873.78,982.06 L871.36,983.21 L868.92,984.43 L866.52,985.70 L864.20,986.98 L861.91,988.29 L859.61,989.64 L857.30,991.05 L854.98,992.52 L852.66,994.04 L850.33,995.64 L848.00,997.30 L845.67,999.03 L843.35,1000.84 L841.06,1002.70 L838.79,1004.61 L836.53,1006.58 L834.28,1008.61 L832.04,1010.69 L829.81,1012.83 L827.59,1015.03 L825.38,1017.29 L823.17,1019.60 L820.96,1021.98 L818.73,1024.47 L816.48,1027.07 L814.23,1029.75 L811.99,1032.47 L809.78,1035.23 L807.60,1038.00 L805.47,1040.76 L803.39,1043.48 L801.40,1046.13 L799.48,1048.70 L797.66,1051.18 L795.90,1053.59 L794.21,1055.95 L792.57,1058.28 L790.96,1060.62 L789.38,1062.98 L787.81,1065.39 L786.24,1067.86 L784.65,1070.43 L783.05,1073.09 L781.47,1075.75 L779.94,1078.36 L778.43,1080.98 L776.91,1083.66 L775.39,1086.44 L773.83,1089.36 L772.22,1092.47 L770.55,1095.82 L768.80,1099.45 L766.94,1103.42 L764.94,1107.87 L762.79,1112.81 L760.55,1118.12 L758.23,1123.67 L755.88,1129.35 L753.53,1135.05 L751.23,1140.63 L748.99,1145.98 L746.88,1150.98 L744.91,1155.50 L743.08,1159.59 L741.34,1163.39 L739.68,1166.96 L738.08,1170.33 L736.53,1173.55 L735.02,1176.67 L733.54,1179.73 L732.06,1182.78 L730.59,1185.87 L729.09,1189.03 L727.61,1192.21 L726.15,1195.33 L724.73,1198.41 L723.32,1201.45 L721.92,1204.46 L720.53,1207.46 L719.14,1210.45 L717.74,1213.44 L716.33,1216.43 L714.89,1219.44 Z" fill="url(#lpC2)" fill-opacity="0.3" filter="url(#b6_6)"/>
<path d="M717.44,1220.72 L718.99,1217.76 L720.55,1214.84 L722.11,1211.93 L723.68,1209.03 L725.26,1206.12 L726.84,1203.21 L728.45,1200.27 L730.09,1197.31 L731.76,1194.30 L733.46,1191.25 L735.17,1188.24 L736.87,1185.29 L738.56,1182.38 L740.28,1179.44 L742.04,1176.44 L743.85,1173.33 L745.74,1170.07 L747.71,1166.62 L749.79,1162.92 L751.99,1158.94 L754.37,1154.54 L756.94,1149.69 L759.66,1144.52 L762.46,1139.15 L765.32,1133.70 L768.17,1128.27 L770.96,1123.00 L773.66,1118.01 L776.20,1113.41 L778.53,1109.33 L780.67,1105.71 L782.68,1102.41 L784.58,1099.39 L786.37,1096.62 L788.10,1094.03 L789.79,1091.57 L791.47,1089.19 L793.16,1086.84 L794.90,1084.47 L796.68,1082.05 L798.46,1079.68 L800.17,1077.45 L801.86,1075.32 L803.54,1073.25 L805.22,1071.23 L806.93,1069.22 L808.69,1067.20 L810.51,1065.15 L812.41,1063.03 L814.41,1060.84 L816.52,1058.55 L818.71,1056.20 L820.97,1053.81 L823.27,1051.41 L825.61,1049.01 L827.95,1046.65 L830.30,1044.35 L832.61,1042.14 L834.87,1040.03 L837.08,1038.06 L839.27,1036.16 L841.47,1034.31 L843.65,1032.53 L845.82,1030.81 L847.98,1029.15 L850.13,1027.56 L852.27,1026.03 L854.39,1024.56 L856.50,1023.16 L858.58,1021.82 L860.63,1020.57 L862.66,1019.39 L864.69,1018.27 L866.73,1017.20 L868.77,1016.17 L870.81,1015.19 L872.87,1014.24 L874.94,1013.32 L877.02,1012.43 L879.07,1011.59 L881.05,1010.82 L883.02,1010.11 L885.03,1009.43 L887.08,1008.78 L889.15,1008.15 L891.23,1007.55 L893.32,1006.97 L895.41,1006.41 L897.48,1005.86 L899.47,1005.35 L901.31,1004.91 L903.11,1004.52 L904.93,1004.15 L906.76,1003.80 L908.59,1003.47 L910.42,1003.15 L912.23,1002.85 L914.01,1002.55 L915.76,1002.25 L917.39,1001.97 L918.79,1001.74 L919.99,1001.56 L921.10,1001.41 L922.16,1001.27 L923.19,1001.14 L924.24,1001.01 L925.33,1000.88 L926.48,1000.73 L927.72,1000.56 L928.96,1000.39 L921.04,961.61 L919.95,961.92 L918.94,962.19 L917.91,962.46 L916.83,962.75 L915.68,963.04 L914.45,963.37 L913.12,963.72 L911.70,964.12 L910.17,964.56 L908.61,965.03 L907.04,965.51 L905.39,966.02 L903.59,966.57 L901.68,967.15 L899.66,967.78 L897.54,968.46 L895.36,969.18 L893.10,969.95 L890.80,970.78 L888.53,971.65 L886.36,972.52 L884.18,973.40 L881.92,974.33 L879.60,975.31 L877.23,976.35 L874.81,977.44 L872.35,978.59 L869.88,979.80 L867.38,981.08 L864.93,982.41 L862.58,983.75 L860.26,985.11 L857.93,986.52 L855.59,987.99 L853.23,989.51 L850.87,991.10 L848.51,992.76 L846.14,994.49 L843.77,996.30 L841.42,998.18 L839.10,1000.10 L836.81,1002.08 L834.53,1004.11 L832.27,1006.20 L830.02,1008.35 L827.78,1010.55 L825.55,1012.81 L823.33,1015.13 L821.13,1017.50 L818.92,1019.94 L816.68,1022.50 L814.43,1025.16 L812.19,1027.89 L809.97,1030.67 L807.77,1033.49 L805.61,1036.30 L803.50,1039.10 L801.45,1041.86 L799.48,1044.56 L797.59,1047.16 L795.78,1049.68 L794.05,1052.12 L792.38,1054.52 L790.75,1056.89 L789.16,1059.27 L787.58,1061.68 L786.03,1064.13 L784.47,1066.64 L782.90,1069.25 L781.32,1071.95 L779.77,1074.65 L778.26,1077.29 L776.77,1079.94 L775.28,1082.66 L773.77,1085.47 L772.23,1088.44 L770.65,1091.59 L769.01,1094.98 L767.29,1098.66 L765.47,1102.67 L763.51,1107.17 L761.41,1112.15 L759.22,1117.50 L756.97,1123.09 L754.68,1128.80 L752.40,1134.53 L750.16,1140.14 L747.98,1145.51 L745.92,1150.52 L744.01,1155.06 L742.23,1159.16 L740.53,1162.98 L738.91,1166.56 L737.35,1169.95 L735.84,1173.18 L734.36,1176.32 L732.90,1179.40 L731.45,1182.47 L730.00,1185.57 L728.54,1188.75 L727.08,1191.94 L725.66,1195.08 L724.25,1198.17 L722.87,1201.22 L721.49,1204.25 L720.13,1207.26 L718.76,1210.26 L717.38,1213.26 L715.99,1216.27 L714.56,1219.28 Z" fill="url(#lpC2)" fill-opacity="0.3" filter="url(#b8_1)"/>
<path d="M717.78,1220.89 L719.35,1217.94 L720.93,1215.03 L722.52,1212.13 L724.11,1209.24 L725.71,1206.35 L727.32,1203.45 L728.96,1200.53 L730.62,1197.57 L732.32,1194.59 L734.05,1191.56 L735.79,1188.56 L737.52,1185.64 L739.25,1182.74 L741.00,1179.82 L742.79,1176.84 L744.64,1173.74 L746.56,1170.50 L748.57,1167.06 L750.70,1163.38 L752.95,1159.41 L755.39,1155.02 L758.02,1150.19 L760.80,1145.05 L763.68,1139.71 L766.60,1134.29 L769.52,1128.90 L772.38,1123.66 L775.13,1118.71 L777.73,1114.16 L780.10,1110.13 L782.29,1106.56 L784.33,1103.30 L786.25,1100.33 L788.08,1097.60 L789.83,1095.06 L791.54,1092.64 L793.24,1090.31 L794.96,1087.99 L796.72,1085.65 L798.53,1083.26 L800.33,1080.94 L802.06,1078.75 L803.77,1076.67 L805.46,1074.64 L807.15,1072.67 L808.88,1070.70 L810.65,1068.73 L812.49,1066.71 L814.42,1064.64 L816.44,1062.48 L818.57,1060.24 L820.79,1057.93 L823.07,1055.59 L825.40,1053.23 L827.75,1050.88 L830.12,1048.58 L832.48,1046.33 L834.80,1044.18 L837.07,1042.15 L839.27,1040.24 L841.46,1038.40 L843.65,1036.62 L845.83,1034.90 L848.00,1033.25 L850.15,1031.66 L852.28,1030.13 L854.40,1028.67 L856.50,1027.27 L858.59,1025.93 L860.65,1024.67 L862.66,1023.50 L864.65,1022.39 L866.64,1021.34 L868.64,1020.34 L870.64,1019.38 L872.65,1018.46 L874.67,1017.58 L876.71,1016.72 L878.76,1015.88 L880.77,1015.10 L882.69,1014.40 L884.60,1013.76 L886.56,1013.15 L888.56,1012.55 L890.58,1011.98 L892.63,1011.43 L894.69,1010.90 L896.76,1010.38 L898.82,1009.87 L900.79,1009.41 L902.57,1009.02 L904.31,1008.68 L906.08,1008.36 L907.87,1008.06 L909.67,1007.77 L911.47,1007.49 L913.26,1007.22 L915.04,1006.95 L916.81,1006.68 L918.45,1006.42 L919.83,1006.22 L920.99,1006.07 L922.07,1005.95 L923.09,1005.84 L924.10,1005.73 L925.13,1005.62 L926.22,1005.50 L927.39,1005.37 L928.65,1005.21 L929.92,1005.06 L920.08,956.94 L919.01,957.26 L918.03,957.55 L917.02,957.84 L915.94,958.14 L914.78,958.46 L913.52,958.80 L912.16,959.18 L910.70,959.61 L909.14,960.08 L907.55,960.58 L905.99,961.09 L904.35,961.62 L902.55,962.20 L900.62,962.82 L898.58,963.48 L896.43,964.20 L894.20,964.97 L891.90,965.79 L889.53,966.67 L887.21,967.59 L885.02,968.50 L882.83,969.43 L880.55,970.40 L878.20,971.43 L875.79,972.52 L873.33,973.66 L870.83,974.87 L868.29,976.15 L865.73,977.50 L863.23,978.90 L860.84,980.30 L858.49,981.71 L856.13,983.18 L853.75,984.71 L851.36,986.30 L848.96,987.96 L846.56,989.69 L844.15,991.50 L841.74,993.38 L839.35,995.33 L837.01,997.33 L834.70,999.37 L832.40,1001.47 L830.12,1003.63 L827.85,1005.84 L825.60,1008.11 L823.37,1010.44 L821.15,1012.82 L818.94,1015.26 L816.73,1017.76 L814.49,1020.39 L812.24,1023.11 L810.01,1025.91 L807.80,1028.75 L805.62,1031.62 L803.48,1034.48 L801.40,1037.33 L799.37,1040.13 L797.42,1042.87 L795.56,1045.52 L793.78,1048.07 L792.07,1050.55 L790.41,1052.99 L788.80,1055.41 L787.22,1057.83 L785.66,1060.28 L784.12,1062.78 L782.58,1065.34 L781.03,1067.99 L779.47,1070.74 L777.94,1073.46 L776.47,1076.14 L775.00,1078.83 L773.53,1081.58 L772.04,1084.44 L770.53,1087.45 L768.98,1090.65 L767.37,1094.09 L765.68,1097.81 L763.90,1101.87 L761.98,1106.42 L759.94,1111.45 L757.81,1116.84 L755.62,1122.46 L753.40,1128.21 L751.19,1133.97 L749.01,1139.61 L746.90,1145.01 L744.91,1150.04 L743.05,1154.59 L741.32,1158.71 L739.67,1162.54 L738.09,1166.14 L736.56,1169.54 L735.09,1172.79 L733.64,1175.94 L732.22,1179.04 L730.80,1182.12 L729.38,1185.25 L727.95,1188.44 L726.52,1191.66 L725.12,1194.81 L723.75,1197.92 L722.39,1200.98 L721.04,1204.03 L719.70,1207.05 L718.36,1210.06 L717.00,1213.07 L715.63,1216.08 L714.22,1219.11 Z" fill="url(#lpC2)" fill-opacity="0.3" filter="url(#b9_5)"/>
<path d="M718.15,1221.07 L719.74,1218.13 L721.34,1215.23 L722.95,1212.34 L724.56,1209.47 L726.19,1206.59 L727.83,1203.70 L729.50,1200.79 L731.19,1197.86 L732.92,1194.89 L734.68,1191.88 L736.45,1188.90 L738.21,1186.00 L739.97,1183.12 L741.75,1180.22 L743.58,1177.25 L745.46,1174.18 L747.43,1170.95 L749.49,1167.52 L751.66,1163.85 L753.97,1159.90 L756.47,1155.53 L759.17,1150.73 L762.01,1145.61 L764.96,1140.30 L767.95,1134.91 L770.94,1129.56 L773.88,1124.37 L776.70,1119.46 L779.34,1114.96 L781.77,1110.98 L783.99,1107.45 L786.07,1104.25 L788.03,1101.33 L789.88,1098.65 L791.66,1096.15 L793.39,1093.78 L795.12,1091.49 L796.86,1089.21 L798.65,1086.91 L800.49,1084.55 L802.31,1082.27 L804.07,1080.13 L805.78,1078.09 L807.49,1076.12 L809.20,1074.19 L810.94,1072.27 L812.73,1070.34 L814.59,1068.38 L816.54,1066.34 L818.59,1064.23 L820.75,1062.02 L822.99,1059.76 L825.30,1057.46 L827.65,1055.16 L830.03,1052.87 L832.42,1050.62 L834.79,1048.43 L837.12,1046.35 L839.39,1044.38 L841.59,1042.55 L843.77,1040.78 L845.96,1039.07 L848.14,1037.42 L850.30,1035.83 L852.44,1034.31 L854.56,1032.85 L856.66,1031.46 L858.75,1030.13 L860.81,1028.87 L862.84,1027.69 L864.81,1026.59 L866.76,1025.57 L868.71,1024.60 L870.66,1023.67 L872.62,1022.78 L874.59,1021.93 L876.58,1021.11 L878.58,1020.32 L880.60,1019.54 L882.58,1018.82 L884.44,1018.20 L886.28,1017.63 L888.18,1017.08 L890.12,1016.55 L892.10,1016.04 L894.11,1015.54 L896.14,1015.06 L898.19,1014.59 L900.24,1014.13 L902.18,1013.71 L903.91,1013.37 L905.59,1013.09 L907.30,1012.82 L909.05,1012.56 L910.81,1012.32 L912.59,1012.08 L914.37,1011.84 L916.14,1011.61 L917.92,1011.36 L919.57,1011.13 L920.93,1010.96 L922.05,1010.85 L923.08,1010.75 L924.07,1010.67 L925.06,1010.59 L926.08,1010.50 L927.17,1010.40 L928.35,1010.28 L929.64,1010.14 L930.93,1010.00 L919.07,952.00 L918.02,952.33 L917.07,952.64 L916.07,952.94 L915.00,953.26 L913.82,953.60 L912.54,953.97 L911.15,954.38 L909.65,954.83 L908.04,955.34 L906.43,955.87 L904.88,956.40 L903.25,956.96 L901.45,957.57 L899.51,958.23 L897.44,958.93 L895.26,959.69 L892.98,960.51 L890.62,961.38 L888.19,962.32 L885.82,963.29 L883.60,964.25 L881.39,965.22 L879.10,966.24 L876.72,967.32 L874.27,968.46 L871.77,969.66 L869.21,970.94 L866.62,972.28 L863.99,973.71 L861.42,975.18 L859.00,976.64 L856.62,978.12 L854.22,979.65 L851.81,981.24 L849.38,982.90 L846.94,984.63 L844.49,986.44 L842.04,988.32 L839.59,990.28 L837.16,992.31 L834.79,994.39 L832.45,996.51 L830.14,998.68 L827.84,1000.91 L825.56,1003.19 L823.30,1005.53 L821.06,1007.92 L818.84,1010.37 L816.63,1012.88 L814.41,1015.45 L812.17,1018.15 L809.92,1020.95 L807.70,1023.81 L805.50,1026.71 L803.35,1029.63 L801.23,1032.56 L799.17,1035.45 L797.17,1038.30 L795.25,1041.08 L793.41,1043.77 L791.66,1046.36 L789.97,1048.89 L788.33,1051.37 L786.74,1053.84 L785.17,1056.31 L783.63,1058.81 L782.10,1061.35 L780.57,1063.96 L779.04,1066.66 L777.51,1069.45 L776.01,1072.21 L774.56,1074.92 L773.12,1077.65 L771.68,1080.44 L770.22,1083.35 L768.73,1086.41 L767.20,1089.66 L765.62,1093.14 L763.97,1096.91 L762.23,1101.02 L760.36,1105.62 L758.38,1110.70 L756.31,1116.13 L754.19,1121.80 L752.05,1127.59 L749.91,1133.38 L747.80,1139.05 L745.76,1144.47 L743.83,1149.53 L742.03,1154.10 L740.35,1158.23 L738.75,1162.08 L737.22,1165.69 L735.74,1169.10 L734.30,1172.37 L732.89,1175.54 L731.50,1178.66 L730.11,1181.76 L728.72,1184.91 L727.32,1188.12 L725.92,1191.35 L724.56,1194.52 L723.21,1197.65 L721.88,1200.73 L720.56,1203.79 L719.25,1206.82 L717.93,1209.85 L716.60,1212.87 L715.25,1215.89 L713.85,1218.93 Z" fill="url(#lpC2)" fill-opacity="0.3" filter="url(#b11_0)"/>
<path d="M716.00,1220.00 L717.24,1217.51 L718.48,1215.03 L719.70,1212.57 L720.93,1210.11 L722.15,1207.65 L723.38,1205.19 L724.61,1202.71 L725.85,1200.22 L727.11,1197.71 L728.38,1195.17 L729.68,1192.61 L731.00,1190.00 L732.32,1187.41 L733.64,1184.88 L734.95,1182.38 L736.26,1179.89 L737.59,1177.37 L738.94,1174.81 L740.32,1172.18 L741.74,1169.44 L743.21,1166.59 L744.74,1163.58 L746.33,1160.39 L748.00,1157.00 L749.78,1153.31 L751.68,1149.29 L753.67,1145.00 L755.74,1140.52 L757.86,1135.91 L760.00,1131.25 L762.14,1126.60 L764.26,1122.04 L766.33,1117.62 L768.32,1113.44 L770.22,1109.54 L772.00,1106.00 L773.66,1102.81 L775.24,1099.89 L776.74,1097.20 L778.19,1094.70 L779.58,1092.36 L780.94,1090.12 L782.27,1087.97 L783.59,1085.85 L784.91,1083.73 L786.25,1081.58 L787.61,1079.35 L789.00,1077.00" fill="none" stroke="url(#lpC2c)" stroke-width="2.6" stroke-opacity="1" stroke-linecap="round" stroke-linejoin="round" filter="url(#b0_6)"/>
</g>
<g clip-path="url(#cpRFc)">
<rect x="922.80" y="739.00" width="306.20" height="475.00" fill="#0c0c0c" stroke="none" stroke-width="0"/>
<path d="M1013.00,1219.00 L1200.00,735.00" fill="none" stroke="#fff" stroke-width="10" stroke-opacity="0.06" stroke-linecap="round" stroke-linejoin="round" filter="url(#b4)"/>
<path d="M1013.00,1219.00 L1200.00,735.00" fill="none" stroke="#fff" stroke-width="2.8" stroke-opacity="0.95" stroke-linecap="round" stroke-linejoin="round" filter="url(#b0_5)"/>
</g>
<line x1="304.80" y1="913.00" x2="916.00" y2="913.00" stroke="#e66984" stroke-width="4" stroke-dasharray="16.2 12.4"/>
<line x1="688.50" y1="1212.00" x2="876.00" y2="741.00" stroke="#2f9e3a" stroke-width="4.2" stroke-dasharray="16.4 12.26" stroke-dashoffset="25.4"/>
<text x="614.5" y="954.4" font-size="30.3" font-weight="bold" fill="#e66984" font-family="'Liberation Sans', Arial, sans-serif">Exciton (X)</text>
<text x="656.5" y="1083.5" font-size="30.3" text-anchor="middle" font-weight="bold" fill="#2f9e3a" font-family="'Liberation Sans', Arial, sans-serif">Cavity</text>
<text x="656.5" y="1117.8" font-size="30.3" text-anchor="middle" font-weight="bold" fill="#2f9e3a" font-family="'Liberation Sans', Arial, sans-serif">Mode (C)</text>
<text x="316.3" y="773.3" font-size="30.2" fill="#fff" font-family="'Liberation Sans', Arial, sans-serif">Exp - PL</text>
<text x="619.3" y="773.3" font-size="30.2" fill="#fff" font-family="'Liberation Sans', Arial, sans-serif">Sim - Abs</text>
<text x="619.3" y="806.0" font-size="27.2" fill="#fff" font-family="'Liberation Sans', Arial, sans-serif">With Exciton</text>
<text x="934.7" y="772.6" font-size="30.2" fill="#fff" font-family="'Liberation Sans', Arial, sans-serif">Sim - Reflec</text>
<text x="934.7" y="805.6" font-size="27.2" fill="#fff" font-family="'Liberation Sans', Arial, sans-serif">W/o Exciton</text>
<text x="449.5" y="1095.5" font-size="32.5" fill="#fff" font-family="'Liberation Sans', Arial, sans-serif">LP</text>
<line x1="303.00" y1="739.00" x2="917.00" y2="739.00" stroke="#262626" stroke-width="2"/>
<line x1="303.00" y1="1214.00" x2="917.00" y2="1214.00" stroke="#262626" stroke-width="2"/>
<line x1="304.00" y1="731.50" x2="304.00" y2="1221.50" stroke="#262626" stroke-width="2"/>
<line x1="916.00" y1="731.50" x2="916.00" y2="1221.50" stroke="#262626" stroke-width="2"/>
<line x1="922.80" y1="731.50" x2="922.80" y2="1221.50" stroke="#262626" stroke-width="1.8"/>
<line x1="921.80" y1="739.00" x2="1230.00" y2="739.00" stroke="#262626" stroke-width="2"/>
<line x1="921.80" y1="1214.00" x2="1230.00" y2="1214.00" stroke="#262626" stroke-width="2"/>
<line x1="1229.00" y1="731.50" x2="1229.00" y2="1221.50" stroke="#262626" stroke-width="2"/>
<line x1="456.40" y1="731.50" x2="456.40" y2="739.00" stroke="#262626" stroke-width="2"/>
<line x1="456.40" y1="1214.00" x2="456.40" y2="1221.50" stroke="#262626" stroke-width="2"/>
<line x1="609.60" y1="731.50" x2="609.60" y2="739.00" stroke="#262626" stroke-width="2"/>
<line x1="609.60" y1="1214.00" x2="609.60" y2="1221.50" stroke="#262626" stroke-width="2"/>
<line x1="762.80" y1="731.50" x2="762.80" y2="739.00" stroke="#262626" stroke-width="2"/>
<line x1="762.80" y1="1214.00" x2="762.80" y2="1221.50" stroke="#262626" stroke-width="2"/>
<line x1="1075.90" y1="731.50" x2="1075.90" y2="739.00" stroke="#262626" stroke-width="2"/>
<line x1="1075.90" y1="1214.00" x2="1075.90" y2="1221.50" stroke="#262626" stroke-width="2"/>
<text x="306.4" y="1263.2" font-size="34.5" text-anchor="middle" font-family="'Liberation Sans', Arial, sans-serif">-0.26</text>
<text x="460.0" y="1263.2" font-size="34.5" text-anchor="middle" font-family="'Liberation Sans', Arial, sans-serif">-0.13</text>
<text x="611.2" y="1263.2" font-size="34.5" text-anchor="middle" font-family="'Liberation Sans', Arial, sans-serif">0</text>
<text x="758.3" y="1263.2" font-size="34.5" text-anchor="middle" font-family="'Liberation Sans', Arial, sans-serif">0.13</text>
<text x="919.2" y="1263.2" font-size="34.5" text-anchor="middle" font-family="'Liberation Sans', Arial, sans-serif">0.26</text>
<text x="1080.3" y="1263.2" font-size="34.5" text-anchor="middle" font-family="'Liberation Sans', Arial, sans-serif">0.13</text>
<text x="1239.0" y="1263.2" font-size="34.5" text-anchor="middle" font-family="'Liberation Sans', Arial, sans-serif">0.26</text>
<text x="750" y="1310.0" font-size="37.5" font-family="'Liberation Sans', Arial, sans-serif">sin <tspan font-family="'Liberation Serif', 'DejaVu Serif', serif" font-style="italic" font-size="40">θ</tspan></text>
<line x1="297.50" y1="804.80" x2="304.00" y2="804.80" stroke="#262626" stroke-width="2"/>
<text x="287.5" y="815.8" font-size="34.5" text-anchor="end" font-family="'Liberation Sans', Arial, sans-serif">2.35</text>
<line x1="1229.00" y1="804.80" x2="1236.50" y2="804.80" stroke="#262626" stroke-width="2"/>
<line x1="916.00" y1="804.80" x2="922.80" y2="804.80" stroke="#262626" stroke-width="1.6"/>
<line x1="297.50" y1="901.50" x2="304.00" y2="901.50" stroke="#262626" stroke-width="2"/>
<text x="287.5" y="912.5" font-size="34.5" text-anchor="end" font-family="'Liberation Sans', Arial, sans-serif">2.30</text>
<line x1="1229.00" y1="901.50" x2="1236.50" y2="901.50" stroke="#262626" stroke-width="2"/>
<line x1="916.00" y1="901.50" x2="922.80" y2="901.50" stroke="#262626" stroke-width="1.6"/>
<line x1="297.50" y1="998.20" x2="304.00" y2="998.20" stroke="#262626" stroke-width="2"/>
<text x="287.5" y="1009.2" font-size="34.5" text-anchor="end" font-family="'Liberation Sans', Arial, sans-serif">2.25</text>
<line x1="1229.00" y1="998.20" x2="1236.50" y2="998.20" stroke="#262626" stroke-width="2"/>
<line x1="916.00" y1="998.20" x2="922.80" y2="998.20" stroke="#262626" stroke-width="1.6"/>
<line x1="297.50" y1="1094.90" x2="304.00" y2="1094.90" stroke="#262626" stroke-width="2"/>
<text x="287.5" y="1105.9" font-size="34.5" text-anchor="end" font-family="'Liberation Sans', Arial, sans-serif">2.20</text>
<line x1="1229.00" y1="1094.90" x2="1236.50" y2="1094.90" stroke="#262626" stroke-width="2"/>
<line x1="916.00" y1="1094.90" x2="922.80" y2="1094.90" stroke="#262626" stroke-width="1.6"/>
<line x1="297.50" y1="1191.60" x2="304.00" y2="1191.60" stroke="#262626" stroke-width="2"/>
<text x="287.5" y="1202.6" font-size="34.5" text-anchor="end" font-family="'Liberation Sans', Arial, sans-serif">2.15</text>
<line x1="1229.00" y1="1191.60" x2="1236.50" y2="1191.60" stroke="#262626" stroke-width="2"/>
<line x1="916.00" y1="1191.60" x2="922.80" y2="1191.60" stroke="#262626" stroke-width="1.6"/>
<text x="1245.0" y="815.2" font-size="34.3" font-family="'Liberation Sans', Arial, sans-serif">527.6</text>
<text x="1245.0" y="911.9" font-size="34.3" font-family="'Liberation Sans', Arial, sans-serif">539.1</text>
<text x="1245.0" y="1008.6" font-size="34.3" font-family="'Liberation Sans', Arial, sans-serif">551.0</text>
<text x="1245.0" y="1105.3" font-size="34.3" font-family="'Liberation Sans', Arial, sans-serif">563.6</text>
<text x="1245.0" y="1202.0" font-size="34.3" font-family="'Liberation Sans', Arial, sans-serif">576.7</text>
<text x="1352.0" y="990.0" font-size="36.8" text-anchor="middle" font-family="'Liberation Sans', Arial, sans-serif" transform="rotate(90 1352.0 990.0)">Wavelength (nm)</text>
<text x="1456.5" y="39.3" font-size="55" font-weight="bold" font-family="'Liberation Sans', Arial, sans-serif">b</text>
<text x="1794.9" y="92.2" font-size="31.3" text-anchor="middle" font-family="'Liberation Sans', Arial, sans-serif">Fitting of LP in Exp</text>
<rect x="1597.50" y="103.70" width="392.00" height="416.50" fill="url(#hgb)" stroke="none" stroke-width="0"/>
<path d="M1597.50,132.69 L1599.47,133.08 L1601.44,133.47 L1603.41,133.86 L1605.38,134.26 L1607.35,134.67 L1609.32,135.09 L1611.29,135.52 L1613.26,135.95 L1615.23,136.40 L1617.20,136.85 L1619.17,137.31 L1621.14,137.77 L1623.11,138.25 L1625.08,138.74 L1627.05,139.23 L1629.02,139.74 L1630.99,140.25 L1632.96,140.78 L1634.93,141.31 L1636.90,141.86 L1638.87,142.42 L1640.84,142.98 L1642.81,143.56 L1644.78,144.15 L1646.75,144.75 L1648.72,145.37 L1650.69,145.99 L1652.66,146.63 L1654.63,147.28 L1656.60,147.95 L1658.57,148.63 L1660.54,149.32 L1662.51,150.02 L1664.47,150.75 L1666.44,151.48 L1668.41,152.23 L1670.38,153.00 L1672.35,153.78 L1674.32,154.58 L1676.29,155.39 L1678.26,156.22 L1680.23,157.07 L1682.20,157.94 L1684.17,158.82 L1686.14,159.72 L1688.11,160.64 L1690.08,161.58 L1692.05,162.54 L1694.02,163.52 L1695.99,164.52 L1697.96,165.54 L1699.93,166.59 L1701.90,167.65 L1703.87,168.74 L1705.84,169.85 L1707.81,170.98 L1709.78,172.13 L1711.75,173.31 L1713.72,174.52 L1715.69,175.75 L1717.66,177.00 L1719.63,178.28 L1721.60,179.59 L1723.57,180.92 L1725.54,182.28 L1727.51,183.67 L1729.48,185.09 L1731.45,186.53 L1733.42,188.01 L1735.39,189.51 L1737.36,191.04 L1739.33,192.61 L1741.30,194.20 L1743.27,195.83 L1745.24,197.48 L1747.21,199.17 L1749.18,200.89 L1751.15,202.65 L1753.12,204.43 L1755.09,206.25 L1757.06,208.10 L1759.03,209.99 L1761.00,211.90 L1762.97,213.86 L1764.94,215.84 L1766.91,217.86 L1768.88,219.92 L1770.85,222.00 L1772.82,224.13 L1774.79,226.28 L1776.76,228.47 L1778.73,230.69 L1780.70,232.95 L1782.67,235.24 L1784.64,237.56 L1786.61,239.91 L1788.58,242.30 L1790.55,244.71 L1792.52,247.16 L1794.48,249.64 L1796.45,252.15 L1798.42,254.68 L1800.39,257.25 L1802.36,259.84 L1804.33,262.45 L1806.30,265.09 L1808.27,267.76 L1810.24,270.45 L1812.21,273.16 L1814.18,275.89 L1816.15,278.64 L1818.12,281.41 L1820.09,284.19 L1822.06,286.99 L1824.03,289.81 L1826.00,292.63 L1827.97,295.47 L1829.94,298.31 L1831.91,301.17 L1833.88,304.03 L1835.85,306.89 L1837.82,309.76 L1839.79,312.63 L1841.76,315.50 L1843.73,318.36 L1845.70,321.23 L1847.67,324.08 L1849.64,326.93 L1851.61,329.78 L1853.58,332.61 L1855.55,335.43 L1857.52,338.24 L1859.49,341.03 L1861.46,343.81 L1863.43,346.57 L1865.40,349.31 L1867.37,352.03 L1869.34,354.73 L1871.31,357.41 L1873.28,360.06 L1875.25,362.69 L1877.22,365.29 L1879.19,367.87 L1881.16,370.42 L1883.13,372.94 L1885.10,375.44 L1887.07,377.90 L1889.04,380.33 L1891.01,382.73 L1892.98,385.11 L1894.95,387.44 L1896.92,389.75 L1898.89,392.02 L1900.86,394.26 L1902.83,396.47 L1904.80,398.64 L1906.77,400.78 L1908.74,402.89 L1910.71,404.96 L1912.68,407.00 L1914.65,409.00 L1916.62,410.97 L1918.59,412.91 L1920.56,414.81 L1922.53,416.68 L1924.49,418.51 L1926.46,420.32 L1928.43,422.09 L1930.40,423.83 L1932.37,425.53 L1934.34,427.20 L1936.31,428.85 L1938.28,430.46 L1940.25,432.04 L1942.22,433.58 L1944.19,435.10 L1946.16,436.59 L1948.13,438.05 L1950.10,439.49 L1952.07,440.89 L1954.04,442.26 L1956.01,443.61 L1957.98,444.93 L1959.95,446.23 L1961.92,447.49 L1963.89,448.74 L1965.86,449.95 L1967.83,451.15 L1969.80,452.32 L1971.77,453.46 L1973.74,454.58 L1975.71,455.68 L1977.68,456.76 L1979.65,457.81 L1981.62,458.84 L1983.59,459.85 L1985.56,460.84 L1987.53,461.81 L1989.50,462.76" fill="none" stroke="#000" stroke-width="3"/>
<path d="M1597.50,491.21 L1599.47,490.82 L1601.44,490.43 L1603.41,490.04 L1605.38,489.64 L1607.35,489.23 L1609.32,488.81 L1611.29,488.38 L1613.26,487.95 L1615.23,487.50 L1617.20,487.05 L1619.17,486.59 L1621.14,486.13 L1623.11,485.65 L1625.08,485.16 L1627.05,484.67 L1629.02,484.16 L1630.99,483.65 L1632.96,483.12 L1634.93,482.59 L1636.90,482.04 L1638.87,481.48 L1640.84,480.92 L1642.81,480.34 L1644.78,479.75 L1646.75,479.15 L1648.72,478.53 L1650.69,477.91 L1652.66,477.27 L1654.63,476.62 L1656.60,475.95 L1658.57,475.27 L1660.54,474.58 L1662.51,473.88 L1664.47,473.15 L1666.44,472.42 L1668.41,471.67 L1670.38,470.90 L1672.35,470.12 L1674.32,469.32 L1676.29,468.51 L1678.26,467.68 L1680.23,466.83 L1682.20,465.96 L1684.17,465.08 L1686.14,464.18 L1688.11,463.26 L1690.08,462.32 L1692.05,461.36 L1694.02,460.38 L1695.99,459.38 L1697.96,458.36 L1699.93,457.31 L1701.90,456.25 L1703.87,455.16 L1705.84,454.05 L1707.81,452.92 L1709.78,451.77 L1711.75,450.59 L1713.72,449.38 L1715.69,448.15 L1717.66,446.90 L1719.63,445.62 L1721.60,444.31 L1723.57,442.98 L1725.54,441.62 L1727.51,440.23 L1729.48,438.81 L1731.45,437.37 L1733.42,435.89 L1735.39,434.39 L1737.36,432.86 L1739.33,431.29 L1741.30,429.70 L1743.27,428.07 L1745.24,426.42 L1747.21,424.73 L1749.18,423.01 L1751.15,421.25 L1753.12,419.47 L1755.09,417.65 L1757.06,415.80 L1759.03,413.91 L1761.00,412.00 L1762.97,410.04 L1764.94,408.06 L1766.91,406.04 L1768.88,403.98 L1770.85,401.90 L1772.82,399.77 L1774.79,397.62 L1776.76,395.43 L1778.73,393.21 L1780.70,390.95 L1782.67,388.66 L1784.64,386.34 L1786.61,383.99 L1788.58,381.60 L1790.55,379.19 L1792.52,376.74 L1794.48,374.26 L1796.45,371.75 L1798.42,369.22 L1800.39,366.65 L1802.36,364.06 L1804.33,361.45 L1806.30,358.81 L1808.27,356.14 L1810.24,353.45 L1812.21,350.74 L1814.18,348.01 L1816.15,345.26 L1818.12,342.49 L1820.09,339.71 L1822.06,336.91 L1824.03,334.09 L1826.00,331.27 L1827.97,328.43 L1829.94,325.59 L1831.91,322.73 L1833.88,319.87 L1835.85,317.01 L1837.82,314.14 L1839.79,311.27 L1841.76,308.40 L1843.73,305.54 L1845.70,302.67 L1847.67,299.82 L1849.64,296.97 L1851.61,294.12 L1853.58,291.29 L1855.55,288.47 L1857.52,285.66 L1859.49,282.87 L1861.46,280.09 L1863.43,277.33 L1865.40,274.59 L1867.37,271.87 L1869.34,269.17 L1871.31,266.49 L1873.28,263.84 L1875.25,261.21 L1877.22,258.61 L1879.19,256.03 L1881.16,253.48 L1883.13,250.96 L1885.10,248.46 L1887.07,246.00 L1889.04,243.57 L1891.01,241.17 L1892.98,238.79 L1894.95,236.46 L1896.92,234.15 L1898.89,231.88 L1900.86,229.64 L1902.83,227.43 L1904.80,225.26 L1906.77,223.12 L1908.74,221.01 L1910.71,218.94 L1912.68,216.90 L1914.65,214.90 L1916.62,212.93 L1918.59,210.99 L1920.56,209.09 L1922.53,207.22 L1924.49,205.39 L1926.46,203.58 L1928.43,201.81 L1930.40,200.07 L1932.37,198.37 L1934.34,196.70 L1936.31,195.05 L1938.28,193.44 L1940.25,191.86 L1942.22,190.32 L1944.19,188.80 L1946.16,187.31 L1948.13,185.85 L1950.10,184.41 L1952.07,183.01 L1954.04,181.64 L1956.01,180.29 L1957.98,178.97 L1959.95,177.67 L1961.92,176.41 L1963.89,175.16 L1965.86,173.95 L1967.83,172.75 L1969.80,171.58 L1971.77,170.44 L1973.74,169.32 L1975.71,168.22 L1977.68,167.14 L1979.65,166.09 L1981.62,165.06 L1983.59,164.05 L1985.56,163.06 L1987.53,162.09 L1989.50,161.14" fill="none" stroke="#000" stroke-width="3" stroke-dasharray="14.5 6.8 3.7 7.2"/>
<rect x="1597.50" y="103.70" width="392.00" height="416.50" fill="none" stroke="#000" stroke-width="2.2"/>
<line x1="1585.50" y1="103.70" x2="1597.50" y2="103.70" stroke="#000" stroke-width="2.2"/>
<text x="1574.5" y="113.9" font-size="30.5" text-anchor="end" font-family="'Liberation Sans', Arial, sans-serif" letter-spacing="1.1">1.0</text>
<line x1="1585.50" y1="187.00" x2="1597.50" y2="187.00" stroke="#000" stroke-width="2.2"/>
<text x="1574.5" y="197.2" font-size="30.5" text-anchor="end" font-family="'Liberation Sans', Arial, sans-serif" letter-spacing="1.1">0.8</text>
<line x1="1585.50" y1="270.30" x2="1597.50" y2="270.30" stroke="#000" stroke-width="2.2"/>
<text x="1574.5" y="280.5" font-size="30.5" text-anchor="end" font-family="'Liberation Sans', Arial, sans-serif" letter-spacing="1.1">0.6</text>
<line x1="1585.50" y1="353.60" x2="1597.50" y2="353.60" stroke="#000" stroke-width="2.2"/>
<text x="1574.5" y="363.8" font-size="30.5" text-anchor="end" font-family="'Liberation Sans', Arial, sans-serif" letter-spacing="1.1">0.4</text>
<line x1="1585.50" y1="436.90" x2="1597.50" y2="436.90" stroke="#000" stroke-width="2.2"/>
<text x="1574.5" y="447.1" font-size="30.5" text-anchor="end" font-family="'Liberation Sans', Arial, sans-serif" letter-spacing="1.1">0.2</text>
<line x1="1585.50" y1="520.20" x2="1597.50" y2="520.20" stroke="#000" stroke-width="2.2"/>
<text x="1574.5" y="530.4" font-size="30.5" text-anchor="end" font-family="'Liberation Sans', Arial, sans-serif" letter-spacing="1.1">0.0</text>
<line x1="1658.00" y1="520.20" x2="1658.00" y2="532.20" stroke="#000" stroke-width="2.2"/>
<text x="1659.5" y="567.8" font-size="30.5" text-anchor="middle" font-family="'Liberation Sans', Arial, sans-serif" letter-spacing="1.1">-0.12</text>
<line x1="1768.50" y1="520.20" x2="1768.50" y2="532.20" stroke="#000" stroke-width="2.2"/>
<text x="1770.0" y="567.8" font-size="30.5" text-anchor="middle" font-family="'Liberation Sans', Arial, sans-serif" letter-spacing="1.1">-0.08</text>
<line x1="1879.00" y1="520.20" x2="1879.00" y2="532.20" stroke="#000" stroke-width="2.2"/>
<text x="1880.5" y="567.8" font-size="30.5" text-anchor="middle" font-family="'Liberation Sans', Arial, sans-serif" letter-spacing="1.1">-0.04</text>
<line x1="1989.50" y1="520.20" x2="1989.50" y2="532.20" stroke="#000" stroke-width="2.2"/>
<text x="1991.0" y="567.8" font-size="30.5" text-anchor="middle" font-family="'Liberation Sans', Arial, sans-serif" letter-spacing="1.1">0.00</text>
<text x="1766.5" y="610.0" font-size="37" font-family="'Liberation Sans', Arial, sans-serif">sin <tspan font-family="'Liberation Serif', 'DejaVu Serif', serif" font-style="italic" font-size="40">θ</tspan></text>
<text x="1500.0" y="308.6" font-size="34.3" text-anchor="middle" font-family="'Liberation Sans', Arial, sans-serif" transform="rotate(-90 1500.0 308.6)">Hopfield coefficient</text>
<rect x="1612.40" y="267.70" width="120.70" height="79.90" fill="#fff" stroke="#000" stroke-width="1.8"/>
<line x1="1617.00" y1="290.50" x2="1679.20" y2="290.50" stroke="#000" stroke-width="3.1"/>
<line x1="1617.00" y1="328.30" x2="1674.40" y2="328.30" stroke="#000" stroke-width="3.1" stroke-dasharray="14.5 6.8 3.7 7.2"/>
<text x="1685.8" y="300.2" font-size="28" font-family="'Liberation Sans', Arial, sans-serif">|C|<tspan font-size="18.5" dy="-11.4">2</tspan></text>
<text x="1685.8" y="337.6" font-size="28" font-family="'Liberation Sans', Arial, sans-serif">|X|<tspan font-size="18.5" dy="-11.4">2</tspan></text>
<text x="1456.5" y="712.9" font-size="55" font-weight="bold" font-family="'Liberation Sans', Arial, sans-serif">d</text>
<text x="1794.9" y="765.8" font-size="31.3" text-anchor="middle" font-family="'Liberation Sans', Arial, sans-serif">Fitting of LP in Exp</text>
<rect x="1597.50" y="777.30" width="392.00" height="416.50" fill="url(#hgd)" stroke="none" stroke-width="0"/>
<path d="M1597.50,1124.42 L1599.47,1123.25 L1601.44,1122.06 L1603.41,1120.84 L1605.38,1119.61 L1607.35,1118.34 L1609.32,1117.06 L1611.29,1115.75 L1613.26,1114.41 L1615.23,1113.05 L1617.20,1111.66 L1619.17,1110.24 L1621.14,1108.80 L1623.11,1107.33 L1625.08,1105.83 L1627.05,1104.31 L1629.02,1102.76 L1630.99,1101.18 L1632.96,1099.57 L1634.93,1097.93 L1636.90,1096.26 L1638.87,1094.56 L1640.84,1092.84 L1642.81,1091.08 L1644.78,1089.29 L1646.75,1087.47 L1648.72,1085.63 L1650.69,1083.75 L1652.66,1081.84 L1654.63,1079.90 L1656.60,1077.93 L1658.57,1075.93 L1660.54,1073.90 L1662.51,1071.84 L1664.47,1069.75 L1666.44,1067.63 L1668.41,1065.48 L1670.38,1063.30 L1672.35,1061.09 L1674.32,1058.85 L1676.29,1056.59 L1678.26,1054.29 L1680.23,1051.97 L1682.20,1049.63 L1684.17,1047.25 L1686.14,1044.85 L1688.11,1042.43 L1690.08,1039.98 L1692.05,1037.51 L1694.02,1035.01 L1695.99,1032.49 L1697.96,1029.96 L1699.93,1027.40 L1701.90,1024.82 L1703.87,1022.23 L1705.84,1019.62 L1707.81,1017.00 L1709.78,1014.36 L1711.75,1011.70 L1713.72,1009.04 L1715.69,1006.37 L1717.66,1003.68 L1719.63,1000.99 L1721.60,998.29 L1723.57,995.59 L1725.54,992.88 L1727.51,990.17 L1729.48,987.46 L1731.45,984.75 L1733.42,982.04 L1735.39,979.33 L1737.36,976.63 L1739.33,973.93 L1741.30,971.24 L1743.27,968.56 L1745.24,965.89 L1747.21,963.23 L1749.18,960.58 L1751.15,957.95 L1753.12,955.33 L1755.09,952.72 L1757.06,950.14 L1759.03,947.57 L1761.00,945.02 L1762.97,942.49 L1764.94,939.98 L1766.91,937.49 L1768.88,935.02 L1770.85,932.58 L1772.82,930.17 L1774.79,927.77 L1776.76,925.41 L1778.73,923.07 L1780.70,920.75 L1782.67,918.47 L1784.64,916.21 L1786.61,913.98 L1788.58,911.77 L1790.55,909.60 L1792.52,907.46 L1794.48,905.34 L1796.45,903.26 L1798.42,901.20 L1800.39,899.18 L1802.36,897.18 L1804.33,895.22 L1806.30,893.28 L1808.27,891.38 L1810.24,889.51 L1812.21,887.66 L1814.18,885.85 L1816.15,884.06 L1818.12,882.31 L1820.09,880.58 L1822.06,878.89 L1824.03,877.22 L1826.00,875.58 L1827.97,873.97 L1829.94,872.39 L1831.91,870.84 L1833.88,869.31 L1835.85,867.81 L1837.82,866.34 L1839.79,864.90 L1841.76,863.48 L1843.73,862.09 L1845.70,860.72 L1847.67,859.38 L1849.64,858.06 L1851.61,856.77 L1853.58,855.51 L1855.55,854.26 L1857.52,853.04 L1859.49,851.84 L1861.46,850.67 L1863.43,849.52 L1865.40,848.39 L1867.37,847.28 L1869.34,846.19 L1871.31,845.13 L1873.28,844.08 L1875.25,843.05 L1877.22,842.05 L1879.19,841.06 L1881.16,840.09 L1883.13,839.14 L1885.10,838.21 L1887.07,837.29 L1889.04,836.40 L1891.01,835.52 L1892.98,834.66 L1894.95,833.81 L1896.92,832.98 L1898.89,832.17 L1900.86,831.37 L1902.83,830.58 L1904.80,829.81 L1906.77,829.06 L1908.74,828.32 L1910.71,827.59 L1912.68,826.88 L1914.65,826.18 L1916.62,825.50 L1918.59,824.82 L1920.56,824.16 L1922.53,823.51 L1924.49,822.88 L1926.46,822.25 L1928.43,821.64 L1930.40,821.04 L1932.37,820.45 L1934.34,819.87 L1936.31,819.30 L1938.28,818.74 L1940.25,818.19 L1942.22,817.65 L1944.19,817.12 L1946.16,816.60 L1948.13,816.09 L1950.10,815.59 L1952.07,815.10 L1954.04,814.61 L1956.01,814.14 L1957.98,813.67 L1959.95,813.21 L1961.92,812.76 L1963.89,812.32 L1965.86,811.89 L1967.83,811.46 L1969.80,811.04 L1971.77,810.63 L1973.74,810.22 L1975.71,809.82 L1977.68,809.43 L1979.65,809.04 L1981.62,808.67 L1983.59,808.29 L1985.56,807.93 L1987.53,807.57 L1989.50,807.21" fill="none" stroke="#000" stroke-width="3"/>
<path d="M1597.50,846.68 L1599.47,847.85 L1601.44,849.04 L1603.41,850.26 L1605.38,851.49 L1607.35,852.76 L1609.32,854.04 L1611.29,855.35 L1613.26,856.69 L1615.23,858.05 L1617.20,859.44 L1619.17,860.86 L1621.14,862.30 L1623.11,863.77 L1625.08,865.27 L1627.05,866.79 L1629.02,868.34 L1630.99,869.92 L1632.96,871.53 L1634.93,873.17 L1636.90,874.84 L1638.87,876.54 L1640.84,878.26 L1642.81,880.02 L1644.78,881.81 L1646.75,883.63 L1648.72,885.47 L1650.69,887.35 L1652.66,889.26 L1654.63,891.20 L1656.60,893.17 L1658.57,895.17 L1660.54,897.20 L1662.51,899.26 L1664.47,901.35 L1666.44,903.47 L1668.41,905.62 L1670.38,907.80 L1672.35,910.01 L1674.32,912.25 L1676.29,914.51 L1678.26,916.81 L1680.23,919.13 L1682.20,921.47 L1684.17,923.85 L1686.14,926.25 L1688.11,928.67 L1690.08,931.12 L1692.05,933.59 L1694.02,936.09 L1695.99,938.61 L1697.96,941.14 L1699.93,943.70 L1701.90,946.28 L1703.87,948.87 L1705.84,951.48 L1707.81,954.10 L1709.78,956.74 L1711.75,959.40 L1713.72,962.06 L1715.69,964.73 L1717.66,967.42 L1719.63,970.11 L1721.60,972.81 L1723.57,975.51 L1725.54,978.22 L1727.51,980.93 L1729.48,983.64 L1731.45,986.35 L1733.42,989.06 L1735.39,991.77 L1737.36,994.47 L1739.33,997.17 L1741.30,999.86 L1743.27,1002.54 L1745.24,1005.21 L1747.21,1007.87 L1749.18,1010.52 L1751.15,1013.15 L1753.12,1015.77 L1755.09,1018.38 L1757.06,1020.96 L1759.03,1023.53 L1761.00,1026.08 L1762.97,1028.61 L1764.94,1031.12 L1766.91,1033.61 L1768.88,1036.08 L1770.85,1038.52 L1772.82,1040.93 L1774.79,1043.33 L1776.76,1045.69 L1778.73,1048.03 L1780.70,1050.35 L1782.67,1052.63 L1784.64,1054.89 L1786.61,1057.12 L1788.58,1059.33 L1790.55,1061.50 L1792.52,1063.64 L1794.48,1065.76 L1796.45,1067.84 L1798.42,1069.90 L1800.39,1071.92 L1802.36,1073.92 L1804.33,1075.88 L1806.30,1077.82 L1808.27,1079.72 L1810.24,1081.59 L1812.21,1083.44 L1814.18,1085.25 L1816.15,1087.04 L1818.12,1088.79 L1820.09,1090.52 L1822.06,1092.21 L1824.03,1093.88 L1826.00,1095.52 L1827.97,1097.13 L1829.94,1098.71 L1831.91,1100.26 L1833.88,1101.79 L1835.85,1103.29 L1837.82,1104.76 L1839.79,1106.20 L1841.76,1107.62 L1843.73,1109.01 L1845.70,1110.38 L1847.67,1111.72 L1849.64,1113.04 L1851.61,1114.33 L1853.58,1115.59 L1855.55,1116.84 L1857.52,1118.06 L1859.49,1119.26 L1861.46,1120.43 L1863.43,1121.58 L1865.40,1122.71 L1867.37,1123.82 L1869.34,1124.91 L1871.31,1125.97 L1873.28,1127.02 L1875.25,1128.05 L1877.22,1129.05 L1879.19,1130.04 L1881.16,1131.01 L1883.13,1131.96 L1885.10,1132.89 L1887.07,1133.81 L1889.04,1134.70 L1891.01,1135.58 L1892.98,1136.44 L1894.95,1137.29 L1896.92,1138.12 L1898.89,1138.93 L1900.86,1139.73 L1902.83,1140.52 L1904.80,1141.29 L1906.77,1142.04 L1908.74,1142.78 L1910.71,1143.51 L1912.68,1144.22 L1914.65,1144.92 L1916.62,1145.60 L1918.59,1146.28 L1920.56,1146.94 L1922.53,1147.59 L1924.49,1148.22 L1926.46,1148.85 L1928.43,1149.46 L1930.40,1150.06 L1932.37,1150.65 L1934.34,1151.23 L1936.31,1151.80 L1938.28,1152.36 L1940.25,1152.91 L1942.22,1153.45 L1944.19,1153.98 L1946.16,1154.50 L1948.13,1155.01 L1950.10,1155.51 L1952.07,1156.00 L1954.04,1156.49 L1956.01,1156.96 L1957.98,1157.43 L1959.95,1157.89 L1961.92,1158.34 L1963.89,1158.78 L1965.86,1159.21 L1967.83,1159.64 L1969.80,1160.06 L1971.77,1160.47 L1973.74,1160.88 L1975.71,1161.28 L1977.68,1161.67 L1979.65,1162.06 L1981.62,1162.43 L1983.59,1162.81 L1985.56,1163.17 L1987.53,1163.53 L1989.50,1163.89" fill="none" stroke="#000" stroke-width="3" stroke-dasharray="14.5 6.8 3.7 7.2"/>
<rect x="1597.50" y="777.30" width="392.00" height="416.50" fill="none" stroke="#000" stroke-width="2.2"/>
<line x1="1585.50" y1="777.30" x2="1597.50" y2="777.30" stroke="#000" stroke-width="2.2"/>
<text x="1574.5" y="787.5" font-size="30.5" text-anchor="end" font-family="'Liberation Sans', Arial, sans-serif" letter-spacing="1.1">1.0</text>
<line x1="1585.50" y1="860.60" x2="1597.50" y2="860.60" stroke="#000" stroke-width="2.2"/>
<text x="1574.5" y="870.8" font-size="30.5" text-anchor="end" font-family="'Liberation Sans', Arial, sans-serif" letter-spacing="1.1">0.8</text>
<line x1="1585.50" y1="943.90" x2="1597.50" y2="943.90" stroke="#000" stroke-width="2.2"/>
<text x="1574.5" y="954.1" font-size="30.5" text-anchor="end" font-family="'Liberation Sans', Arial, sans-serif" letter-spacing="1.1">0.6</text>
<line x1="1585.50" y1="1027.20" x2="1597.50" y2="1027.20" stroke="#000" stroke-width="2.2"/>
<text x="1574.5" y="1037.4" font-size="30.5" text-anchor="end" font-family="'Liberation Sans', Arial, sans-serif" letter-spacing="1.1">0.4</text>
<line x1="1585.50" y1="1110.50" x2="1597.50" y2="1110.50" stroke="#000" stroke-width="2.2"/>
<text x="1574.5" y="1120.7" font-size="30.5" text-anchor="end" font-family="'Liberation Sans', Arial, sans-serif" letter-spacing="1.1">0.2</text>
<line x1="1585.50" y1="1193.80" x2="1597.50" y2="1193.80" stroke="#000" stroke-width="2.2"/>
<text x="1574.5" y="1204.0" font-size="30.5" text-anchor="end" font-family="'Liberation Sans', Arial, sans-serif" letter-spacing="1.1">0.0</text>
<line x1="1628.00" y1="1193.80" x2="1628.00" y2="1205.80" stroke="#000" stroke-width="2.2"/>
<text x="1629.5" y="1241.4" font-size="30.5" text-anchor="middle" font-family="'Liberation Sans', Arial, sans-serif" letter-spacing="1.1">-0.24</text>
<line x1="1748.50" y1="1193.80" x2="1748.50" y2="1205.80" stroke="#000" stroke-width="2.2"/>
<text x="1750.0" y="1241.4" font-size="30.5" text-anchor="middle" font-family="'Liberation Sans', Arial, sans-serif" letter-spacing="1.1">-0.16</text>
<line x1="1869.00" y1="1193.80" x2="1869.00" y2="1205.80" stroke="#000" stroke-width="2.2"/>
<text x="1870.5" y="1241.4" font-size="30.5" text-anchor="middle" font-family="'Liberation Sans', Arial, sans-serif" letter-spacing="1.1">-0.08</text>
<line x1="1989.50" y1="1193.80" x2="1989.50" y2="1205.80" stroke="#000" stroke-width="2.2"/>
<text x="1991.0" y="1241.4" font-size="30.5" text-anchor="middle" font-family="'Liberation Sans', Arial, sans-serif" letter-spacing="1.1">0.00</text>
<text x="1766.5" y="1283.6" font-size="37" font-family="'Liberation Sans', Arial, sans-serif">sin <tspan font-family="'Liberation Serif', 'DejaVu Serif', serif" font-style="italic" font-size="40">θ</tspan></text>
<text x="1500.0" y="982.2" font-size="34.3" text-anchor="middle" font-family="'Liberation Sans', Arial, sans-serif" transform="rotate(-90 1500.0 982.2)">Hopfield coefficient</text>
<rect x="1854.20" y="941.60" width="120.40" height="79.40" fill="#fff" stroke="#000" stroke-width="1.8"/>
<line x1="1858.80" y1="964.40" x2="1921.00" y2="964.40" stroke="#000" stroke-width="3.1"/>
<line x1="1858.80" y1="1002.20" x2="1916.20" y2="1002.20" stroke="#000" stroke-width="3.1" stroke-dasharray="14.5 6.8 3.7 7.2"/>
<text x="1927.6" y="974.1" font-size="28" font-family="'Liberation Sans', Arial, sans-serif">|C|<tspan font-size="18.5" dy="-11.4">2</tspan></text>
<text x="1927.6" y="1011.5" font-size="28" font-family="'Liberation Sans', Arial, sans-serif">|X|<tspan font-size="18.5" dy="-11.4">2</tspan></text>
<text x="-1.5" y="1394.0" font-size="55" font-weight="bold" font-family="'Liberation Sans', Arial, sans-serif">e</text>
<line x1="117.30" y1="1450.10" x2="582.70" y2="1450.10" stroke="#f0007a" stroke-width="3.7" stroke-dasharray="15.5 14.5" stroke-dashoffset="-2"/>
<circle cx="150.5" cy="1427.7" r="13.2" fill="none" stroke="#00b400" stroke-width="3.1"/>
<line x1="150.50" y1="1415.60" x2="150.50" y2="1441.20" stroke="#00b400" stroke-width="3"/>
<line x1="137.00" y1="1416.60" x2="164.00" y2="1416.60" stroke="#00b400" stroke-width="2.8"/>
<line x1="137.00" y1="1440.20" x2="164.00" y2="1440.20" stroke="#00b400" stroke-width="2.8"/>
<circle cx="217.0" cy="1466.2" r="13.2" fill="none" stroke="#00b400" stroke-width="3.1"/>
<line x1="217.00" y1="1453.70" x2="217.00" y2="1479.00" stroke="#00b400" stroke-width="3"/>
<line x1="203.50" y1="1454.70" x2="230.50" y2="1454.70" stroke="#00b400" stroke-width="2.8"/>
<line x1="203.50" y1="1478.00" x2="230.50" y2="1478.00" stroke="#00b400" stroke-width="2.8"/>
<circle cx="317.0" cy="1457.6" r="13.2" fill="none" stroke="#008000" stroke-width="3.1"/>
<line x1="317.00" y1="1449.10" x2="317.00" y2="1465.90" stroke="#008000" stroke-width="3"/>
<line x1="303.50" y1="1450.10" x2="330.50" y2="1450.10" stroke="#008000" stroke-width="2.8"/>
<line x1="303.50" y1="1464.90" x2="330.50" y2="1464.90" stroke="#008000" stroke-width="2.8"/>
<circle cx="483.5" cy="1456.3" r="13.2" fill="none" stroke="#1a6632" stroke-width="3.1"/>
<line x1="483.50" y1="1447.40" x2="483.50" y2="1464.70" stroke="#1a6632" stroke-width="3"/>
<line x1="470.00" y1="1448.40" x2="497.00" y2="1448.40" stroke="#1a6632" stroke-width="2.8"/>
<line x1="470.00" y1="1463.70" x2="497.00" y2="1463.70" stroke="#1a6632" stroke-width="2.8"/>
<circle cx="516.8" cy="1482.0" r="13.2" fill="none" stroke="#0d4f28" stroke-width="3.1"/>
<line x1="516.80" y1="1472.80" x2="516.80" y2="1490.60" stroke="#0d4f28" stroke-width="3"/>
<line x1="503.30" y1="1473.80" x2="530.30" y2="1473.80" stroke="#0d4f28" stroke-width="2.8"/>
<line x1="503.30" y1="1489.60" x2="530.30" y2="1489.60" stroke="#0d4f28" stroke-width="2.8"/>
<circle cx="550.3" cy="1463.0" r="13.2" fill="none" stroke="#2e2e0e" stroke-width="3.1"/>
<line x1="550.30" y1="1453.40" x2="550.30" y2="1470.50" stroke="#2e2e0e" stroke-width="3"/>
<line x1="536.80" y1="1454.40" x2="563.80" y2="1454.40" stroke="#2e2e0e" stroke-width="2.8"/>
<line x1="536.80" y1="1469.50" x2="563.80" y2="1469.50" stroke="#2e2e0e" stroke-width="2.8"/>
<rect x="117.30" y="1397.20" width="465.40" height="290.40" fill="none" stroke="#000" stroke-width="2.8"/>
<line x1="112.30" y1="1687.60" x2="117.30" y2="1687.60" stroke="#000" stroke-width="2.8"/>
<line x1="107.30" y1="1416.10" x2="117.30" y2="1416.10" stroke="#000" stroke-width="2.6"/>
<text x="103.5" y="1426.1" font-size="32.5" text-anchor="end" font-family="'Liberation Sans', Arial, sans-serif" letter-spacing="0.5">80</text>
<line x1="107.30" y1="1493.80" x2="117.30" y2="1493.80" stroke="#000" stroke-width="2.6"/>
<text x="103.5" y="1503.8" font-size="32.5" text-anchor="end" font-family="'Liberation Sans', Arial, sans-serif" letter-spacing="0.5">70</text>
<line x1="107.30" y1="1571.50" x2="117.30" y2="1571.50" stroke="#000" stroke-width="2.6"/>
<text x="103.5" y="1581.5" font-size="32.5" text-anchor="end" font-family="'Liberation Sans', Arial, sans-serif" letter-spacing="0.5">60</text>
<line x1="107.30" y1="1649.20" x2="117.30" y2="1649.20" stroke="#000" stroke-width="2.6"/>
<text x="103.5" y="1659.2" font-size="32.5" text-anchor="end" font-family="'Liberation Sans', Arial, sans-serif" letter-spacing="0.5">50</text>
<line x1="112.30" y1="1454.95" x2="117.30" y2="1454.95" stroke="#000" stroke-width="2.6"/>
<line x1="112.30" y1="1532.65" x2="117.30" y2="1532.65" stroke="#000" stroke-width="2.6"/>
<line x1="112.30" y1="1610.35" x2="117.30" y2="1610.35" stroke="#000" stroke-width="2.6"/>
<line x1="150.70" y1="1687.60" x2="150.70" y2="1697.10" stroke="#000" stroke-width="2.6"/>
<text x="150.7" y="1725.8" font-size="32.5" text-anchor="middle" font-family="'Liberation Sans', Arial, sans-serif">0.78</text>
<line x1="250.30" y1="1687.60" x2="250.30" y2="1697.10" stroke="#000" stroke-width="2.6"/>
<text x="250.3" y="1725.8" font-size="32.5" text-anchor="middle" font-family="'Liberation Sans', Arial, sans-serif">0.81</text>
<line x1="349.90" y1="1687.60" x2="349.90" y2="1697.10" stroke="#000" stroke-width="2.6"/>
<text x="349.9" y="1725.8" font-size="32.5" text-anchor="middle" font-family="'Liberation Sans', Arial, sans-serif">0.84</text>
<line x1="449.50" y1="1687.60" x2="449.50" y2="1697.10" stroke="#000" stroke-width="2.6"/>
<text x="449.5" y="1725.8" font-size="32.5" text-anchor="middle" font-family="'Liberation Sans', Arial, sans-serif">0.87</text>
<line x1="549.10" y1="1687.60" x2="549.10" y2="1697.10" stroke="#000" stroke-width="2.6"/>
<text x="549.1" y="1725.8" font-size="32.5" text-anchor="middle" font-family="'Liberation Sans', Arial, sans-serif">0.90</text>
<text x="350.6" y="1769.0" font-size="36.9" text-anchor="middle" font-family="'Liberation Sans', Arial, sans-serif">Scaling factor</text>
<text transform="translate(46.8 1542.4) rotate(-90)" font-size="37" text-anchor="middle" font-family="'Liberation Sans', Arial, sans-serif"><tspan font-style="italic">g</tspan> (meV)</text>
<text x="357.6" y="1656.8" font-size="33" text-anchor="middle" word-spacing="7" font-family="'Liberation Serif', 'DejaVu Serif', serif" fill="#221d0c"><tspan font-style="italic">α</tspan> = 0.30</text>
<text x="688.5" y="1392.0" font-size="55" font-weight="bold" font-family="'Liberation Sans', Arial, sans-serif">f</text>
<line x1="855.10" y1="1621.58" x2="859.70" y2="1617.62" stroke="#ec0a85" stroke-width="2.8"/>
<line x1="885.55" y1="1585.40" x2="936.95" y2="1489.80" stroke="#ec0a85" stroke-width="2.8"/>
<line x1="967.50" y1="1467.22" x2="998.50" y2="1461.08" stroke="#ec0a85" stroke-width="2.8"/>
<line x1="1034.71" y1="1471.05" x2="1074.79" y2="1507.15" stroke="#ec0a85" stroke-width="2.8"/>
<line x1="1104.37" y1="1536.88" x2="1148.43" y2="1586.32" stroke="#ec0a85" stroke-width="2.8"/>
<line x1="1182.24" y1="1608.89" x2="1214.56" y2="1620.11" stroke="#ec0a85" stroke-width="2.8"/>
<circle cx="839.2" cy="1635.3" r="13.2" fill="none" stroke="#ec0a85" stroke-width="3.1"/>
<line x1="839.20" y1="1621.20" x2="839.20" y2="1650.50" stroke="#ec0a85" stroke-width="3"/>
<line x1="825.70" y1="1622.20" x2="852.70" y2="1622.20" stroke="#ec0a85" stroke-width="2.8"/>
<line x1="825.70" y1="1649.50" x2="852.70" y2="1649.50" stroke="#ec0a85" stroke-width="2.8"/>
<circle cx="875.6" cy="1603.9" r="13.2" fill="none" stroke="#ec0a85" stroke-width="3.1"/>
<line x1="875.60" y1="1593.90" x2="875.60" y2="1616.10" stroke="#ec0a85" stroke-width="3"/>
<line x1="862.10" y1="1594.90" x2="889.10" y2="1594.90" stroke="#ec0a85" stroke-width="2.8"/>
<line x1="862.10" y1="1615.10" x2="889.10" y2="1615.10" stroke="#ec0a85" stroke-width="2.8"/>
<circle cx="946.9" cy="1471.3" r="13.2" fill="none" stroke="#ec0a85" stroke-width="3.1"/>
<line x1="946.90" y1="1464.40" x2="946.90" y2="1482.50" stroke="#ec0a85" stroke-width="3"/>
<line x1="933.40" y1="1465.40" x2="960.40" y2="1465.40" stroke="#ec0a85" stroke-width="2.8"/>
<line x1="933.40" y1="1481.50" x2="960.40" y2="1481.50" stroke="#ec0a85" stroke-width="2.8"/>
<circle cx="1019.1" cy="1457.0" r="13.2" fill="none" stroke="#ec0a85" stroke-width="3.1"/>
<line x1="1019.10" y1="1451.30" x2="1019.10" y2="1463.30" stroke="#ec0a85" stroke-width="3"/>
<line x1="1005.60" y1="1452.30" x2="1032.60" y2="1452.30" stroke="#ec0a85" stroke-width="2.8"/>
<line x1="1005.60" y1="1462.30" x2="1032.60" y2="1462.30" stroke="#ec0a85" stroke-width="2.8"/>
<circle cx="1090.4" cy="1521.2" r="13.2" fill="none" stroke="#ec0a85" stroke-width="3.1"/>
<line x1="1090.40" y1="1513.00" x2="1090.40" y2="1531.70" stroke="#ec0a85" stroke-width="3"/>
<line x1="1076.90" y1="1514.00" x2="1103.90" y2="1514.00" stroke="#ec0a85" stroke-width="2.8"/>
<line x1="1076.90" y1="1530.70" x2="1103.90" y2="1530.70" stroke="#ec0a85" stroke-width="2.8"/>
<circle cx="1162.4" cy="1602.0" r="13.2" fill="none" stroke="#ec0a85" stroke-width="3.1"/>
<line x1="1162.40" y1="1596.20" x2="1162.40" y2="1607.70" stroke="#ec0a85" stroke-width="3"/>
<line x1="1148.90" y1="1597.20" x2="1175.90" y2="1597.20" stroke="#ec0a85" stroke-width="2.8"/>
<line x1="1148.90" y1="1606.70" x2="1175.90" y2="1606.70" stroke="#ec0a85" stroke-width="2.8"/>
<circle cx="1234.4" cy="1627.0" r="13.2" fill="none" stroke="#ec0a85" stroke-width="3.1"/>
<line x1="1234.40" y1="1621.20" x2="1234.40" y2="1632.70" stroke="#ec0a85" stroke-width="3"/>
<line x1="1220.90" y1="1622.20" x2="1247.90" y2="1622.20" stroke="#ec0a85" stroke-width="2.8"/>
<line x1="1220.90" y1="1631.70" x2="1247.90" y2="1631.70" stroke="#ec0a85" stroke-width="2.8"/>
<rect x="804.60" y="1397.20" width="465.40" height="290.80" fill="none" stroke="#000" stroke-width="3"/>
<line x1="794.60" y1="1415.90" x2="804.60" y2="1415.90" stroke="#000" stroke-width="2.6"/>
<text x="790.0" y="1425.9" font-size="32.5" text-anchor="end" font-family="'Liberation Sans', Arial, sans-serif" letter-spacing="0.5">80</text>
<line x1="794.60" y1="1493.90" x2="804.60" y2="1493.90" stroke="#000" stroke-width="2.6"/>
<text x="790.0" y="1503.9" font-size="32.5" text-anchor="end" font-family="'Liberation Sans', Arial, sans-serif" letter-spacing="0.5">70</text>
<line x1="794.60" y1="1571.90" x2="804.60" y2="1571.90" stroke="#000" stroke-width="2.6"/>
<text x="790.0" y="1581.9" font-size="32.5" text-anchor="end" font-family="'Liberation Sans', Arial, sans-serif" letter-spacing="0.5">60</text>
<line x1="794.60" y1="1649.90" x2="804.60" y2="1649.90" stroke="#000" stroke-width="2.6"/>
<text x="790.0" y="1659.9" font-size="32.5" text-anchor="end" font-family="'Liberation Sans', Arial, sans-serif" letter-spacing="0.5">50</text>
<line x1="799.60" y1="1454.90" x2="804.60" y2="1454.90" stroke="#000" stroke-width="2.6"/>
<line x1="799.60" y1="1532.90" x2="804.60" y2="1532.90" stroke="#000" stroke-width="2.6"/>
<line x1="799.60" y1="1610.90" x2="804.60" y2="1610.90" stroke="#000" stroke-width="2.6"/>
<line x1="799.60" y1="1688.90" x2="804.60" y2="1688.90" stroke="#000" stroke-width="2.6"/>
<line x1="803.20" y1="1688.00" x2="803.20" y2="1697.50" stroke="#000" stroke-width="2.6"/>
<text x="803.7" y="1726.1" font-size="32.5" text-anchor="middle" font-family="'Liberation Sans', Arial, sans-serif" letter-spacing="0.3">0.0</text>
<line x1="875.03" y1="1688.00" x2="875.03" y2="1697.50" stroke="#000" stroke-width="2.6"/>
<text x="875.5" y="1726.1" font-size="32.5" text-anchor="middle" font-family="'Liberation Sans', Arial, sans-serif" letter-spacing="0.3">0.1</text>
<line x1="946.86" y1="1688.00" x2="946.86" y2="1697.50" stroke="#000" stroke-width="2.6"/>
<text x="947.4" y="1726.1" font-size="32.5" text-anchor="middle" font-family="'Liberation Sans', Arial, sans-serif" letter-spacing="0.3">0.2</text>
<line x1="1018.69" y1="1688.00" x2="1018.69" y2="1697.50" stroke="#000" stroke-width="2.6"/>
<text x="1019.2" y="1726.1" font-size="32.5" text-anchor="middle" font-family="'Liberation Sans', Arial, sans-serif" letter-spacing="0.3">0.3</text>
<line x1="1090.52" y1="1688.00" x2="1090.52" y2="1697.50" stroke="#000" stroke-width="2.6"/>
<text x="1091.0" y="1726.1" font-size="32.5" text-anchor="middle" font-family="'Liberation Sans', Arial, sans-serif" letter-spacing="0.3">0.4</text>
<line x1="1162.35" y1="1688.00" x2="1162.35" y2="1697.50" stroke="#000" stroke-width="2.6"/>
<text x="1162.8" y="1726.1" font-size="32.5" text-anchor="middle" font-family="'Liberation Sans', Arial, sans-serif" letter-spacing="0.3">0.5</text>
<line x1="1234.18" y1="1688.00" x2="1234.18" y2="1697.50" stroke="#000" stroke-width="2.6"/>
<text x="1234.7" y="1726.1" font-size="32.5" text-anchor="middle" font-family="'Liberation Sans', Arial, sans-serif" letter-spacing="0.3">0.6</text>
<text transform="translate(734.5 1543.5) rotate(-90)" font-size="37" text-anchor="middle" font-family="'Liberation Sans', Arial, sans-serif"><tspan font-style="italic">g</tspan> (meV)</text>
<text x="1115.5" y="1624.4" font-size="30.3" text-anchor="end" fill="#231f0f" font-family="'Liberation Sans', Arial, sans-serif">Scaling factor</text>
<text x="1115.5" y="1658.5" font-size="30.3" text-anchor="end" fill="#231f0f" font-family="'Liberation Sans', Arial, sans-serif">= 0.88</text>
<text x="958" y="1773" font-size="37" font-family="'Liberation Sans', Arial, sans-serif"><tspan font-family="'Liberation Serif', 'DejaVu Serif', serif" font-style="italic" font-size="42">α</tspan> = Δ<tspan font-style="italic">L</tspan> / <tspan font-style="italic">L</tspan></text>
<text x="1402.0" y="1391.0" font-size="55" font-weight="bold" font-family="'Liberation Sans', Arial, sans-serif">g</text>
<rect x="1521.50" y="1397.10" width="465.80" height="290.90" fill="url(#gg)" stroke="none" stroke-width="0"/>
<path d="M1521.50,1688.00 L1523.06,1688.00 L1524.62,1688.00 L1526.17,1688.00 L1527.73,1688.00 L1529.29,1687.99 L1530.85,1687.98 L1532.41,1687.97 L1533.96,1687.96 L1535.52,1687.94 L1537.08,1687.92 L1538.64,1687.90 L1540.19,1687.87 L1541.75,1687.83 L1543.31,1687.79 L1544.87,1687.74 L1546.43,1687.68 L1547.98,1687.62 L1549.54,1687.55 L1551.10,1687.47 L1552.66,1687.38 L1554.22,1687.29 L1555.77,1687.18 L1557.33,1687.06 L1558.89,1686.94 L1560.45,1686.80 L1562.00,1686.65 L1563.56,1686.49 L1565.12,1686.32 L1566.68,1686.14 L1568.24,1685.94 L1569.79,1685.73 L1571.35,1685.50 L1572.91,1685.26 L1574.47,1685.01 L1576.03,1684.74 L1577.58,1684.46 L1579.14,1684.16 L1580.70,1683.85 L1582.26,1683.52 L1583.81,1683.17 L1585.37,1682.81 L1586.93,1682.42 L1588.49,1682.03 L1590.05,1681.61 L1591.60,1681.17 L1593.16,1680.72 L1594.72,1680.25 L1596.28,1679.75 L1597.84,1679.24 L1599.39,1678.71 L1600.95,1678.16 L1602.51,1677.59 L1604.07,1677.00 L1605.62,1676.38 L1607.18,1675.75 L1608.74,1675.09 L1610.30,1674.42 L1611.86,1673.72 L1613.41,1673.00 L1614.97,1672.25 L1616.53,1671.49 L1618.09,1670.70 L1619.65,1669.89 L1621.20,1669.05 L1622.76,1668.20 L1624.32,1667.32 L1625.88,1666.41 L1627.43,1665.48 L1628.99,1664.53 L1630.55,1663.56 L1632.11,1662.56 L1633.67,1661.54 L1635.22,1660.49 L1636.78,1659.42 L1638.34,1658.32 L1639.90,1657.21 L1641.46,1656.06 L1643.01,1654.89 L1644.57,1653.70 L1646.13,1652.48 L1647.69,1651.24 L1649.24,1649.98 L1650.80,1648.69 L1652.36,1647.37 L1653.92,1646.03 L1655.48,1644.67 L1657.03,1643.28 L1658.59,1641.87 L1660.15,1640.44 L1661.71,1638.98 L1663.27,1637.49 L1664.82,1635.99 L1666.38,1634.46 L1667.94,1632.90 L1669.50,1631.33 L1671.05,1629.72 L1672.61,1628.10 L1674.17,1626.46 L1675.73,1624.79 L1677.29,1623.10 L1678.84,1621.38 L1680.40,1619.65 L1681.96,1617.89 L1683.52,1616.11 L1685.08,1614.32 L1686.63,1612.50 L1688.19,1610.66 L1689.75,1608.80 L1691.31,1606.92 L1692.86,1605.02 L1694.42,1603.10 L1695.98,1601.16 L1697.54,1599.21 L1699.10,1597.23 L1700.65,1595.24 L1702.21,1593.23 L1703.77,1591.21 L1705.33,1589.17 L1706.89,1587.11 L1708.44,1585.04 L1710.00,1582.95 L1711.56,1580.85 L1713.12,1578.73 L1714.67,1576.61 L1716.23,1574.46 L1717.79,1572.31 L1719.35,1570.14 L1720.91,1567.97 L1722.46,1565.78 L1724.02,1563.58 L1725.58,1561.38 L1727.14,1559.16 L1728.70,1556.94 L1730.25,1554.71 L1731.81,1552.47 L1733.37,1550.23 L1734.93,1547.98 L1736.48,1545.73 L1738.04,1543.47 L1739.60,1541.21 L1741.16,1538.94 L1742.72,1536.68 L1744.27,1534.41 L1745.83,1532.14 L1747.39,1529.88 L1748.95,1527.61 L1750.51,1525.35 L1752.06,1523.09 L1753.62,1520.84 L1755.18,1518.58 L1756.74,1516.34 L1758.29,1514.10 L1759.85,1511.87 L1761.41,1509.64 L1762.97,1507.43 L1764.53,1505.22 L1766.08,1503.03 L1767.64,1500.84 L1769.20,1498.67 L1770.76,1496.52 L1772.32,1494.37 L1773.87,1492.25 L1775.43,1490.14 L1776.99,1488.04 L1778.55,1485.97 L1780.10,1483.91 L1781.66,1481.88 L1783.22,1479.87 L1784.78,1477.88 L1786.34,1475.91 L1787.89,1473.97 L1789.45,1472.05 L1791.01,1470.16 L1792.57,1468.30 L1794.13,1466.46 L1795.68,1464.66 L1797.24,1462.89 L1798.80,1461.15 L1800.36,1459.44 L1801.91,1457.76 L1803.47,1456.13 L1805.03,1454.52 L1806.59,1452.96 L1808.15,1451.43 L1809.70,1449.95 L1811.26,1448.50 L1812.82,1447.10 L1814.38,1445.74 L1815.94,1444.42 L1817.49,1443.15 L1819.05,1441.93 L1820.61,1440.75 L1822.17,1439.62 L1823.72,1438.55 L1825.28,1437.52 L1826.84,1436.54 L1828.40,1435.62 L1829.96,1434.75 L1831.51,1433.94 L1833.07,1433.19 L1834.63,1432.49 L1836.19,1431.85 L1837.75,1431.27 L1839.30,1430.75 L1840.86,1430.29 L1842.42,1429.90 L1843.98,1429.57 L1845.53,1429.30 L1847.09,1429.10 L1848.65,1428.97 L1850.21,1428.91 L1851.77,1428.91 L1853.32,1428.99 L1854.88,1429.13 L1856.44,1429.35 L1858.00,1429.64 L1859.56,1430.01 L1861.11,1430.45 L1862.67,1430.97 L1864.23,1431.56 L1865.79,1432.23 L1867.34,1432.98 L1868.90,1433.80 L1870.46,1434.71 L1872.02,1435.70 L1873.58,1436.77 L1875.13,1437.92 L1876.69,1439.15 L1878.25,1440.47 L1879.81,1441.87 L1881.37,1443.35 L1882.92,1444.92 L1884.48,1446.58 L1886.04,1448.32 L1887.60,1450.14 L1889.15,1452.06 L1890.71,1454.06 L1892.27,1456.14 L1893.83,1458.32 L1895.39,1460.58 L1896.94,1462.93 L1898.50,1465.37 L1900.06,1467.89 L1901.62,1470.51 L1903.18,1473.21 L1904.73,1476.00 L1906.29,1478.87 L1907.85,1481.83 L1909.41,1484.88 L1910.96,1488.01 L1912.52,1491.23 L1914.08,1494.53 L1915.64,1497.92 L1917.20,1501.39 L1918.75,1504.94 L1920.31,1508.57 L1921.87,1512.28 L1923.43,1516.07 L1924.99,1519.94 L1926.54,1523.88 L1928.10,1527.89 L1929.66,1531.98 L1931.22,1536.14 L1932.77,1540.36 L1934.33,1544.65 L1935.89,1549.00 L1937.45,1553.41 L1939.01,1557.88 L1940.56,1562.40 L1942.12,1566.97 L1943.68,1571.59 L1945.24,1576.25 L1946.80,1580.95 L1948.35,1585.69 L1949.91,1590.45 L1951.47,1595.24 L1953.03,1600.05 L1954.58,1604.87 L1956.14,1609.70 L1957.70,1614.52 L1959.26,1619.34 L1960.82,1624.14 L1962.37,1628.92 L1963.93,1633.66 L1965.49,1638.35 L1967.05,1642.99 L1968.61,1647.56 L1970.16,1652.05 L1971.72,1656.43 L1973.28,1660.69 L1974.84,1664.82 L1976.39,1668.78 L1977.95,1672.55 L1979.51,1676.10 L1981.07,1679.37 L1982.63,1682.33 L1984.18,1684.87 L1985.74,1686.88 L1987.30,1688.00" fill="none" stroke="#000" stroke-width="3"/>
<rect x="1521.50" y="1397.10" width="465.80" height="290.90" fill="none" stroke="#000" stroke-width="2.2"/>
<line x1="1506.50" y1="1397.10" x2="1521.50" y2="1397.10" stroke="#000" stroke-width="2.2"/>
<line x1="1506.50" y1="1469.82" x2="1521.50" y2="1469.82" stroke="#000" stroke-width="2.2"/>
<line x1="1506.50" y1="1542.55" x2="1521.50" y2="1542.55" stroke="#000" stroke-width="2.2"/>
<line x1="1506.50" y1="1615.28" x2="1521.50" y2="1615.28" stroke="#000" stroke-width="2.2"/>
<line x1="1506.50" y1="1688.00" x2="1521.50" y2="1688.00" stroke="#000" stroke-width="2.2"/>
<line x1="1521.50" y1="1688.00" x2="1521.50" y2="1699.00" stroke="#000" stroke-width="2.2"/>
<text x="1522.0" y="1724.7" font-size="32.5" text-anchor="middle" font-family="'Liberation Sans', Arial, sans-serif" letter-spacing="0.6">0.00</text>
<line x1="1637.95" y1="1688.00" x2="1637.95" y2="1699.00" stroke="#000" stroke-width="2.2"/>
<text x="1638.5" y="1724.7" font-size="32.5" text-anchor="middle" font-family="'Liberation Sans', Arial, sans-serif" letter-spacing="0.6">0.25</text>
<line x1="1754.40" y1="1688.00" x2="1754.40" y2="1699.00" stroke="#000" stroke-width="2.2"/>
<text x="1754.9" y="1724.7" font-size="32.5" text-anchor="middle" font-family="'Liberation Sans', Arial, sans-serif" letter-spacing="0.6">0.50</text>
<line x1="1870.85" y1="1688.00" x2="1870.85" y2="1699.00" stroke="#000" stroke-width="2.2"/>
<text x="1871.3" y="1724.7" font-size="32.5" text-anchor="middle" font-family="'Liberation Sans', Arial, sans-serif" letter-spacing="0.6">0.75</text>
<line x1="1987.30" y1="1688.00" x2="1987.30" y2="1699.00" stroke="#000" stroke-width="2.2"/>
<text x="1987.8" y="1724.7" font-size="32.5" text-anchor="middle" font-family="'Liberation Sans', Arial, sans-serif" letter-spacing="0.6">1.00</text>
<text x="1756.6" y="1770.0" font-size="37" text-anchor="middle" font-family="'Liberation Sans', Arial, sans-serif">|C|</text>
<text x="1454.8" y="1541.9" font-size="34" text-anchor="middle" font-family="'Liberation Sans', Arial, sans-serif" transform="rotate(-90 1454.8 1541.9)">Nonlinearity</text>
<text x="1487.3" y="1540.0" font-size="34" text-anchor="middle" font-family="'Liberation Sans', Arial, sans-serif" transform="rotate(-90 1487.3 1540.0)">Strength (arb. units)</text>
<text x="1561.5" y="1448" font-size="27.6" font-family="'Liberation Sans', Arial, sans-serif"><tspan font-size="36" font-family="DejaVu Sans, sans-serif">∝</tspan><tspan x="1596">|C|</tspan><tspan font-size="17" dy="-11.5">3</tspan><tspan dy="11.5" x="1645">(1-|C|</tspan><tspan font-size="17" dy="-11.5">2</tspan><tspan dy="11.5">)</tspan><tspan font-size="17" dy="-11.5">3/2</tspan></text>
</svg></body></html>
